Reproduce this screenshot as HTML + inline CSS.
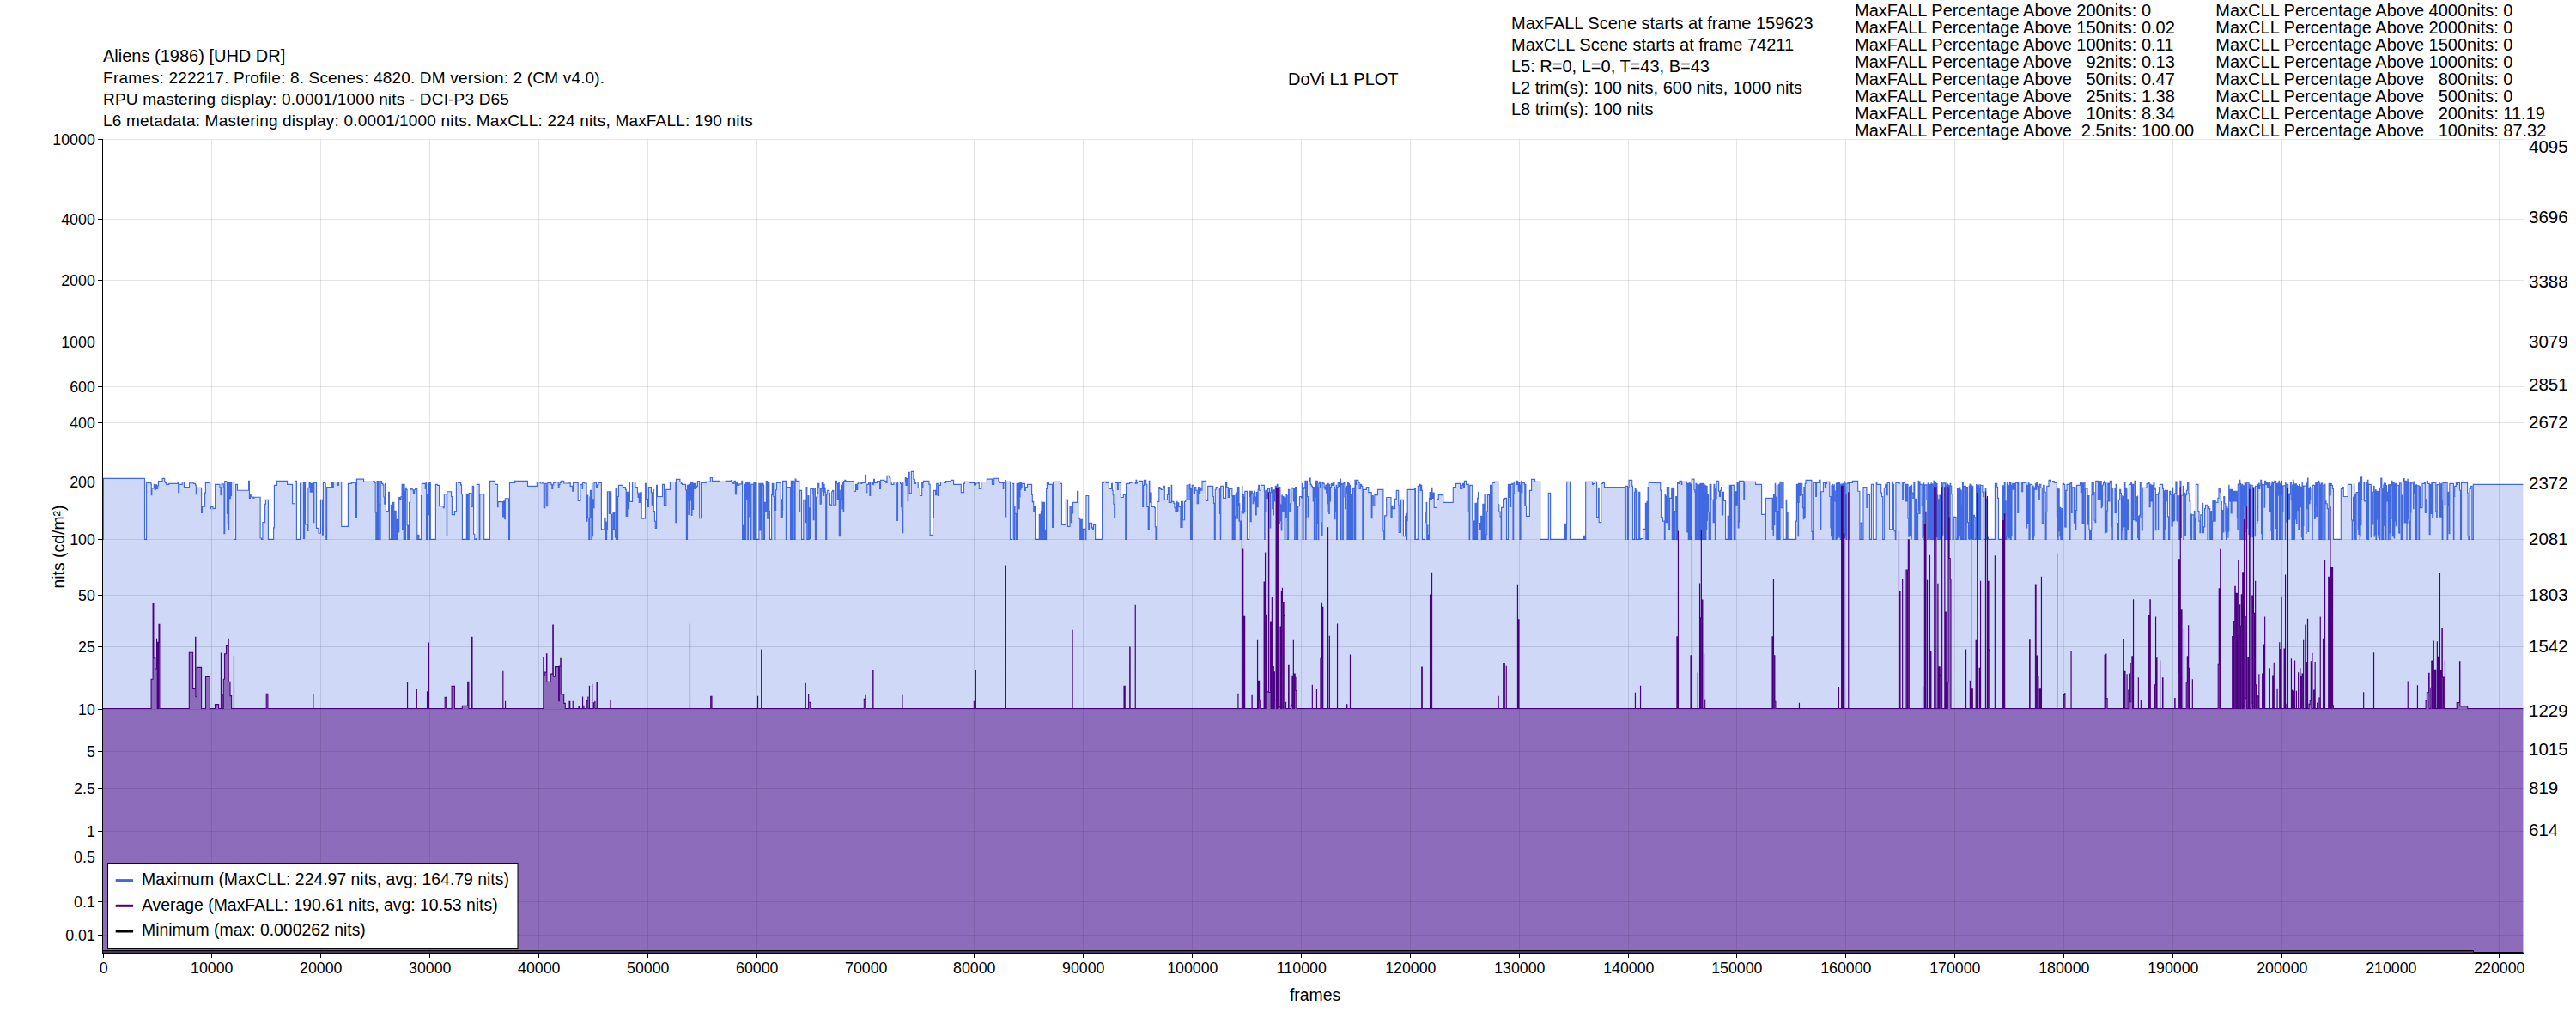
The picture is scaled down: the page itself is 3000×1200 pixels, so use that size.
<!DOCTYPE html>
<html><head><meta charset="utf-8"><title>DoVi L1 PLOT</title>
<style>html,body{margin:0;padding:0;background:#fff}svg{display:block}text{font-family:"Liberation Sans",Arial,sans-serif;fill:#000}</style></head><body>
<svg width="3000" height="1200" viewBox="0 0 3000 1200">
<rect width="3000" height="1200" fill="#fff"/>
<polygon fill="#4169e1" fill-opacity="0.25" points="120,628.3 120.4,628.3 120.4,557.3 168.5,557.3 168.5,628.3 170.5,628.3 170.5,562.5 175.8,562.5 175.8,563.9 176.3,563.9 176.3,576.6 176.8,576.6 176.8,568.8 179.3,568.8 179.3,564.4 180.2,564.4 180.2,570.2 181.4,570.2 181.4,564.9 182.4,564.9 182.4,569.3 183.6,569.3 183.6,565.9 184.5,565.9 184.5,560.5 189.1,560.5 189.1,557.4 191.7,557.4 191.7,561 192.6,561 192.6,562.5 193.5,562.5 193.5,564.4 196.7,564.4 196.7,563.3 206.9,563.3 206.9,562.5 207.7,562.5 207.7,573.6 208.6,573.6 208.6,564.4 212.2,564.4 212.2,561.5 214.4,561.5 214.4,567.5 220.5,567.5 220.5,562.7 225.3,562.7 225.3,563.4 227.6,563.4 227.6,565.4 228.3,565.4 228.3,575.6 228.7,575.6 228.7,568.3 234.6,568.3 234.6,597.4 235.4,597.4 235.4,590.1 238.6,590.1 238.6,574.1 239.4,574.1 239.4,562.5 244.7,562.5 244.7,592.6 245.5,592.6 245.5,590.4 248,590.4 248,592.4 250.6,592.4 250.6,564.4 256,564.4 256,567.8 257,567.8 257,576.6 258.1,576.6 258.1,563.9 260.3,563.9 260.3,568.3 261,568.3 261,621.7 261.7,621.7 261.7,560.5 263.7,560.5 263.7,561.5 264.5,561.5 264.5,598.4 265,598.4 265,562 265.3,562 265.3,609.6 265.7,609.6 265.7,562 266.1,562 266.1,617.3 266.6,617.3 266.6,562 267.1,562 267.1,580.9 267.6,580.9 267.6,562 268.1,562 268.1,580.4 268.5,580.4 268.5,562 269,562 269,577.5 269.5,577.5 269.5,561.5 272.6,561.5 272.6,628.3 274.6,628.3 274.6,564.4 276.5,564.4 276.5,571.2 289.6,571.2 289.6,560.3 290.4,560.3 290.4,580.4 291.4,580.4 291.4,576.6 292.2,576.6 292.2,579 295,579 295,580.4 295.9,580.4 295.9,579.2 303.1,579.2 303.1,627 304.5,627 304.5,628.3 305.9,628.3 305.9,608.6 308.6,608.6 308.6,587.2 309.4,587.2 309.4,582.4 312.4,582.4 312.4,628.3 318.6,628.3 318.6,614.9 319.4,614.9 319.4,565.4 322.4,565.4 322.4,560.3 334.6,560.3 334.6,564.4 340.6,564.4 340.6,586.7 343.5,586.7 343.5,560.3 345.4,560.3 345.4,628.3 349.6,628.3 349.6,563.4 350.4,563.4 350.4,561.5 353.5,561.5 353.5,627.5 354.6,627.5 354.6,562.5 355.6,562.5 355.6,611 357.9,611 357.9,618.3 358.9,618.3 358.9,568.3 360.1,568.3 360.1,562.5 361.2,562.5 361.2,573.2 361.9,573.2 361.9,563.4 362.7,563.4 362.7,573.2 363.4,573.2 363.4,563.4 364.3,563.4 364.3,571.2 365.1,571.2 365.1,562.5 365.4,562.5 365.4,608.6 365.8,608.6 365.8,562.5 368.5,562.5 368.5,615.4 370.2,615.4 371,615.4 371,621.2 373.4,621.2 373.4,582.4 375.6,582.4 375.6,623.2 376.4,623.2 376.4,562.5 378.7,562.5 378.7,563.4 379.2,563.4 379.2,625.6 379.8,625.6 379.8,628.3 380.6,628.3 380.6,567.5 386.5,567.5 386.5,561.5 387.5,561.5 387.5,568.3 388.3,568.3 388.3,561.5 392.8,561.5 392.8,563 393.6,563 393.6,565.4 394.4,565.4 394.4,561.5 397.7,561.5 397.7,613.4 405.4,613.4 405.4,563.4 409.3,563.4 409.3,562.5 414.5,562.5 414.5,603.3 415.4,603.3 415.4,558.1 423.6,558.1 423.6,561.3 434.8,561.3 434.8,560.5 436,560.5 436,562.5 437.2,562.5 437.2,596.9 437.8,596.9 437.8,628.3 438.2,628.3 438.2,596.9 438.5,596.9 438.5,628.3 438.9,628.3 438.9,596.9 439.1,596.9 439.1,560.5 439.5,560.5 439.5,628.3 439.9,628.3 439.9,560.5 440.3,560.5 440.3,628.3 440.7,628.3 440.7,560.5 441.2,560.5 441.2,587.2 442,587.2 442,628.3 443.1,628.3 443.1,560.5 444.6,560.5 444.6,563.4 445.9,563.4 445.9,564.9 446.9,564.9 446.9,579 447.7,579 447.7,587.2 448.6,587.2 448.6,563.4 449.4,563.4 449.4,595.5 452.6,595.5 452.6,573.3 453.4,573.3 453.4,628.3 455.4,628.3 455.4,588.2 455.8,588.2 455.8,628.3 456.2,628.3 456.2,588.2 456.6,588.2 456.6,628.3 457,628.3 457,588.2 457.4,588.2 457.4,585.3 457.8,585.3 457.8,628.3 458.2,628.3 458.2,585.3 458.8,585.3 458.8,628.3 460,628.3 460,595.3 461.2,595.3 461.2,628.3 462.1,628.3 462.1,605.2 463,605.2 463,628.3 463.4,628.3 463.4,605.2 464,605.2 464,619.8 464.7,619.8 464.7,579.5 465.8,579.5 465.8,581.4 467,581.4 467,578.5 468.1,578.5 468.1,564.4 468.6,564.4 468.6,616.8 469,616.8 469,564.4 469.4,564.4 469.4,616.8 469.8,616.8 469.8,564.4 470.2,564.4 470.2,628.3 470.6,628.3 470.6,564.4 471,564.4 471,572.2 471.4,572.2 471.4,628.3 471.7,628.3 471.7,572.2 472.1,572.2 472.1,628.3 472.4,628.3 472.4,568.3 473.2,568.3 473.2,570.4 474.1,570.4 474.1,612 474.7,612 474.7,628.3 475,628.3 475,612 475.4,612 475.4,628.3 475.8,628.3 475.8,612 476.2,612 476.2,628.3 476.6,628.3 476.6,585.3 477.6,585.3 477.6,570.2 478.7,570.2 478.7,569.3 480.2,569.3 480.2,570.7 481.4,570.7 481.4,575.1 482.6,575.1 482.6,570.7 483.7,570.7 483.7,568.5 484.8,568.5 484.8,569.5 485.8,569.5 485.8,628.3 487,628.3 487,623.2 487.9,623.2 487.9,628.3 490.5,628.3 490.5,577.5 491.3,577.5 491.3,563.4 495.3,563.4 495.3,569.3 496.1,569.3 496.1,561.5 496.6,561.5 496.6,628.3 497,628.3 497,576.1 497.4,576.1 497.4,628.3 497.8,628.3 497.8,576.1 498.2,576.1 498.2,628.3 498.5,628.3 498.5,564.4 498.9,564.4 498.9,599.9 499.3,599.9 499.3,563.4 499.7,563.4 499.7,599.9 500.1,599.9 500.1,562.5 500.5,562.5 500.5,628.3 500.9,628.3 500.9,562.5 501.3,562.5 501.3,628.3 507.4,628.3 507.4,564.4 509.3,564.4 509.3,565.4 511.6,565.4 511.6,589.7 516.4,589.7 516.4,591.6 517.3,591.6 517.3,575.6 520.3,575.6 520.3,623.6 520.7,623.6 520.7,572.7 525.6,572.7 525.6,578.5 526.4,578.5 526.4,599.6 529.4,599.6 529.4,595.5 531.4,595.5 531.4,561.5 533.6,561.5 533.6,562.5 536.6,562.5 536.6,564.9 537.5,564.9 537.5,575.6 538.4,575.6 538.4,628.3 543.3,628.3 543.3,575.6 543.8,575.6 543.8,628.3 544.3,628.3 544.3,575.6 545,575.6 545,628.3 546.2,628.3 546.2,574.6 548.9,574.6 548.9,590.4 550.3,590.4 550.3,566.4 551.6,566.4 551.6,622.2 552.8,622.2 552.8,628.3 554.4,628.3 554.4,627.5 555.4,627.5 555.4,564.4 558.2,564.4 558.2,628.3 558.8,628.3 558.8,575.6 563.7,575.6 563.7,628.3 570.5,628.3 570.5,560.3 576.6,560.3 576.6,564.4 579.5,564.4 579.5,590.6 580,590.6 580,584.6 585.6,584.6 585.6,601.8 586.7,601.8 586.7,583.8 587.8,583.8 587.8,604.7 588.4,604.7 588.4,580.7 592.6,580.7 592.6,628.3 593.5,628.3 593.5,562.5 599.6,562.5 599.6,560.3 614.5,560.3 614.5,566.4 620,566.4 625.3,566.4 625.3,561.5 629.2,561.5 629.2,563 631.9,563 631.9,561.7 633.3,561.7 633.3,591.6 634.7,591.6 634.7,563.4 636.3,563.4 636.3,589.7 637.7,589.7 637.7,562.5 641.8,562.5 641.8,564.4 642.8,564.4 642.8,569.3 643.6,569.3 643.6,564.9 644.7,564.9 644.7,562.5 646.7,562.5 646.7,561.7 650.3,561.7 650.3,567.3 651.1,567.3 651.1,564.4 652.1,564.4 652.1,562.5 653.2,562.5 653.2,560.3 656.7,560.3 656.7,563 663,563 663,561.5 664.2,561.5 664.2,566.4 666.7,566.4 666.7,572.2 667.5,572.2 667.5,562.5 673.2,562.5 673.2,583.3 675.8,583.3 675.8,564.4 678.1,564.4 678.1,569.3 678.5,569.3 678.5,562.5 680.7,562.5 680.7,563 683.1,563 683.1,607.1 683.9,607.1 683.9,577 684.8,577 684.8,603.3 685.8,603.3 685.8,628.3 686.9,628.3 686.9,579 687.4,579 687.4,571.2 687.8,571.2 687.8,602.3 688.2,602.3 688.2,571.2 688.5,571.2 688.5,602.3 688.9,602.3 688.9,628.3 689.5,628.3 689.5,563 689.9,563 689.9,624.6 690.5,624.6 690.5,581.9 690.9,581.9 690.9,591.6 691.3,591.6 691.3,581.9 691.7,581.9 691.7,591.6 692,591.6 692,562.5 694.5,562.5 694.5,567.3 695.6,567.3 695.6,564.9 696.9,564.9 696.9,562.5 700.4,562.5 700.4,616.7 703.8,616.7 703.8,603.3 705,603.3 705,628.3 705.8,628.3 705.8,608.1 706.2,608.1 706.2,628.3 706.6,628.3 706.6,617.3 707.4,617.3 707.4,572.7 709.3,572.7 709.3,598.4 709.7,598.4 709.7,572.7 710.1,572.7 710.1,598.4 710.5,598.4 710.5,572.7 710.9,572.7 710.9,598.4 711.3,598.4 711.3,572.7 711.7,572.7 711.7,599.4 712,599.4 712,628.3 712.4,628.3 712.4,599.4 712.8,599.4 712.8,628.3 713.3,628.3 713.3,616.8 714.1,616.8 714.1,597.4 714.7,597.4 714.7,616.8 715.1,616.8 715.1,597.4 715.7,597.4 715.7,616.8 716.5,616.8 716.5,626.1 717.1,626.1 717.1,569.3 717.6,569.3 717.6,628.3 719.6,628.3 719.6,578.5 720.4,578.5 720.4,565.4 725.3,565.4 725.3,567.5 728.5,567.5 728.5,570.4 729.2,570.4 729.2,601.3 729.7,601.3 729.7,573.2 730.2,573.2 730.2,601.3 730.7,601.3 730.7,573.2 731.2,573.2 731.2,592.6 731.7,592.6 731.7,573.2 732.1,573.2 732.1,592.6 732.6,592.6 732.6,562.5 733.4,562.5 733.4,584.3 736.5,584.3 736.5,561.5 739.9,561.5 739.9,567.5 742.5,567.5 742.5,574.1 743.1,574.1 743.1,579.5 743.7,579.5 743.7,575.1 744.3,575.1 744.3,585.3 745,585.3 745,574.1 745.7,574.1 745.7,585.3 746.4,585.3 746.4,573.6 747.2,573.6 747.2,604.2 751.5,604.2 751.5,563.4 752.3,563.4 752.3,581.4 754.6,581.4 754.6,590.4 755.4,590.4 755.4,567.5 758.4,567.5 758.4,573.6 759.2,573.6 759.2,588.2 759.8,588.2 759.8,574.1 760.3,574.1 760.3,588.2 760.8,588.2 760.8,570.2 761.3,570.2 761.3,595.5 762.4,595.5 762.4,607.1 763.3,607.1 763.3,615.4 764.6,615.4 764.6,565.4 765.4,565.4 765.4,578.5 771.5,578.5 771.5,564.4 773.4,564.4 773.4,588.5 775.8,588.5 775.8,570.4 780.4,570.4 780.4,561.5 786.8,561.5 786.8,608.6 787.4,608.6 787.4,558.4 791.9,558.4 791.9,561.5 793.3,561.5 793.3,563.4 794.5,563.4 794.5,564.4 798.4,564.4 798.4,565.4 798.6,565.4 798.6,570.7 799.4,570.7 799.4,628.3 800.5,628.3 800.5,565.4 801.2,565.4 801.2,582.9 801.6,582.9 801.6,565.9 801.9,565.9 801.9,599.4 802.3,599.4 802.3,564.4 802.7,564.4 802.7,582.9 803.1,582.9 803.1,592.6 803.5,592.6 803.5,564.4 803.9,564.4 803.9,582.9 804.3,582.9 804.3,561.5 804.7,561.5 804.7,582.9 805,582.9 805,561.5 805.4,561.5 805.4,600.3 806,600.3 806,562.5 806.8,562.5 806.8,593.5 807.6,593.5 807.6,563.4 808.6,563.4 808.6,569.3 809.5,569.3 809.5,563.4 810.6,563.4 810.6,568.3 811.5,568.3 811.5,566.4 812.4,566.4 812.4,560.5 814.7,560.5 814.7,603.7 816.6,603.7 816.6,562.5 822.4,562.5 822.4,561.3 827.3,561.3 827.3,556.5 829.5,556.5 829.5,560.3 837.5,560.3 837.5,561.3 845.2,561.3 845.2,560.3 851.3,560.3 851.3,559.6 852.5,559.6 852.5,562 853.7,562 853.7,563.4 855,563.4 855,560.3 856.4,560.3 856.4,575.6 857.6,575.6 857.6,562 858.7,562 858.7,565.4 860.8,565.4 860.8,563.9 863.8,563.9 863.8,560.3 864.6,560.3 864.6,628.3 865,628.3 865,612 865.4,612 865.4,628.3 865.8,628.3 865.8,612 866.2,612 866.2,628.3 866.6,628.3 866.6,612 867,612 867,628.3 867.6,628.3 867.6,564.4 868.2,564.4 868.2,628.3 868.7,628.3 868.7,561.5 869.3,561.5 869.3,582.4 870,582.4 870,562.5 870.8,562.5 870.8,628.3 871.4,628.3 871.4,562.5 871.7,562.5 871.7,601.8 872.3,601.8 872.3,562.5 872.7,562.5 872.7,584.8 873.3,584.8 873.3,562.5 873.7,562.5 873.7,584.8 874.3,584.8 874.3,628.3 874.9,628.3 874.9,564.4 877.3,564.4 877.3,628.3 877.8,628.3 877.8,562.5 878.2,562.5 878.2,628.3 878.5,628.3 878.5,562.5 878.9,562.5 878.9,561.5 879.3,561.5 879.3,628.3 879.7,628.3 879.7,561.5 880.1,561.5 880.1,628.3 880.5,628.3 880.5,561.5 880.9,561.5 880.9,628.3 883.9,628.3 883.9,563.4 885.1,563.4 885.1,617.8 885.7,617.8 885.7,563.4 886.1,563.4 886.1,617.8 886.5,617.8 886.5,563.4 886.9,563.4 886.9,628.3 887.3,628.3 887.3,563.4 887.7,563.4 887.7,628.3 888.1,628.3 888.1,563.4 888.9,563.4 888.9,565.4 889.6,565.4 889.6,628.3 890.4,628.3 890.4,585.3 891.2,585.3 891.2,595.5 891.7,595.5 891.7,585.3 892.3,585.3 892.3,560.5 892.9,560.5 892.9,595.5 893.3,595.5 893.3,560.5 893.7,560.5 893.7,604.2 894.3,604.2 894.3,561.5 894.9,561.5 894.9,595.5 895.4,595.5 895.4,561.5 895.8,561.5 895.8,595.5 896.4,595.5 896.4,628.3 898.6,628.3 898.6,576.6 899.3,576.6 899.3,563.4 899.9,563.4 899.9,576.6 900.3,576.6 900.3,563.4 900.9,563.4 900.9,578.5 901.6,578.5 901.6,594.5 902,594.5 902,628.3 902.8,628.3 902.8,594.5 903.6,594.5 903.6,570.7 904.4,570.7 904.4,562.5 909.3,562.5 909.3,602.3 910,602.3 910,581.9 910.6,581.9 910.6,602.3 911.3,602.3 911.3,594.5 911.6,594.5 911.6,560.3 915.4,560.3 915.4,628.3 916,628.3 916,567.5 920.5,567.5 920.5,628.3 921.3,628.3 921.3,560.3 921.7,560.3 921.7,628.3 922.3,628.3 922.3,560.3 923.1,560.3 923.1,628.3 923.9,628.3 923.9,560.3 924.7,560.3 924.7,561.5 925.3,561.5 925.3,628.3 926.1,628.3 926.1,558.1 926.9,558.1 926.9,560.3 930.8,560.3 930.8,595.5 931.6,595.5 931.6,571.4 933.6,571.4 933.6,628.3 935.8,628.3 935.8,582.4 937.8,582.4 937.8,608.6 938.3,608.6 938.3,582.4 938.7,582.4 938.7,608.6 939.1,608.6 939.1,567.5 939.8,567.5 939.8,628.3 941.1,628.3 941.1,577.5 941.8,577.5 941.8,628.3 942.4,628.3 942.4,591.8 943.2,591.8 943.2,627.5 943.8,627.5 943.8,569.5 946.7,569.5 946.7,574.6 947.2,574.6 947.2,605.7 947.9,605.7 947.9,568.5 949.4,568.5 949.4,628.3 950.6,628.3 950.6,579 951.7,579 951.7,574.6 952.7,574.6 952.7,563.4 953.8,563.4 953.8,568.5 955.1,568.5 955.1,587.2 956.3,587.2 956.3,569.5 957.3,569.5 957.3,561.5 958,561.5 958,572.7 958.5,572.7 958.5,561.5 958.9,561.5 958.9,573.2 959.3,573.2 959.3,577.5 959.7,577.5 959.7,564.4 960.1,564.4 960.1,573.2 960.5,573.2 960.5,568.3 961.1,568.3 961.1,573.2 961.7,573.2 961.7,628.3 962.7,628.3 962.7,575.6 963.7,575.6 963.7,571.4 965.6,571.4 965.6,574.6 966.5,574.6 966.5,587.7 967.4,587.7 967.4,589.5 968.7,589.5 968.7,572.7 969.7,572.7 969.7,571.4 970.8,571.4 970.8,588.2 973.6,588.2 973.6,560.3 974.4,560.3 974.4,563.4 975.3,563.4 975.3,581.4 975.8,581.4 975.8,563.4 976.3,563.4 976.3,581.4 976.8,581.4 976.8,562.5 977.3,562.5 977.3,624.6 977.8,624.6 977.8,571.2 978.3,571.2 978.3,624.6 979,624.6 979,581.4 979.9,581.4 979.9,565.4 980.9,565.4 980.9,592.6 981.5,592.6 981.5,562.5 982.1,562.5 982.1,596.5 982.7,596.5 982.7,560.5 983.8,560.5 983.8,559.4 984.8,559.4 984.8,560.5 994.5,560.5 994.5,572.4 996.5,572.4 996.5,564.4 997.5,564.4 997.5,570.4 998.7,570.4 998.7,563.4 999.8,563.4 999.8,561.5 1002.8,561.5 1002.8,563.4 1003.7,563.4 1003.7,562.5 1007.5,562.5 1007.5,553.3 1008.5,553.3 1008.5,573.6 1009.8,573.6 1009.8,564.4 1011.6,564.4 1011.6,561.5 1012.9,561.5 1012.9,577.5 1013.7,577.5 1013.7,561.5 1016.6,561.5 1016.6,564.4 1017.6,564.4 1017.6,558.4 1018.4,558.4 1018.4,562.5 1021.5,562.5 1021.5,560.5 1024.6,560.5 1024.6,569.5 1025.5,569.5 1025.5,559.4 1029.7,559.4 1029.7,560.3 1031.9,560.3 1031.9,562.5 1033,562.5 1033,554.2 1035.8,554.2 1035.8,556.5 1036.8,556.5 1036.8,561.5 1038.2,561.5 1038.2,564.4 1040.9,564.4 1040.9,561.5 1043.8,561.5 1043.8,563.4 1044.7,563.4 1044.7,606.4 1045.5,606.4 1045.5,561.5 1048.6,561.5 1048.6,563.4 1049.5,563.4 1049.5,590.6 1050.3,590.6 1050.3,594.5 1051.2,594.5 1051.2,620.7 1051.7,620.7 1051.7,561.5 1054.3,561.5 1054.3,556.5 1055,556.5 1055,565.4 1056.1,565.4 1056.1,557.6 1057.2,557.6 1057.2,583.6 1057.7,583.6 1057.7,556.7 1058.4,556.7 1058.4,550.3 1059.2,550.3 1059.2,574.6 1061.3,574.6 1061.3,549.4 1064,549.4 1064,558.4 1065.3,558.4 1065.3,563.4 1066.4,563.4 1066.4,561.5 1069.2,561.5 1069.2,568.5 1071.5,568.5 1071.5,577.5 1073.7,577.5 1073.7,562.5 1074.3,562.5 1074.3,567.5 1074.9,567.5 1074.9,562.5 1075.4,562.5 1075.4,560.3 1081.9,560.3 1081.9,564.4 1083.1,564.4 1083.1,623.4 1086.6,623.4 1086.6,602.3 1087.4,602.3 1087.4,571.4 1089.6,571.4 1089.6,576.6 1090.7,576.6 1090.7,563.4 1092.2,563.4 1092.2,577.5 1093.3,577.5 1093.3,565.4 1095.4,565.4 1095.4,561.5 1099.6,561.5 1099.6,562.5 1101.6,562.5 1101.6,560.5 1107.4,560.5 1107.4,559.4 1110.6,559.4 1110.6,564.4 1119.3,564.4 1119.3,573.6 1120,573.6 1122.5,573.6 1122.5,563.4 1123.3,563.4 1123.3,561.3 1128.7,561.3 1128.7,562.5 1134.6,562.5 1134.6,564.9 1136.5,564.9 1136.5,563 1139.5,563 1139.5,561.5 1140.3,561.5 1140.3,569.5 1142.8,569.5 1142.8,561.5 1149.3,561.5 1149.3,558.1 1155.4,558.1 1155.4,564.4 1157.7,564.4 1157.7,557.4 1163,557.4 1163,560.5 1163.9,560.5 1163.9,562.5 1167.6,562.5 1167.6,561.5 1168.3,561.5 1168.3,569.3 1168.8,569.3 1168.8,562.5 1171,562.5 1171,559.6 1171.3,559.6 1171.3,601.8 1171.7,601.8 1171.7,561.3 1176.5,561.3 1176.5,628.3 1178.7,628.3 1178.7,563.4 1180.7,563.4 1180.7,628.3 1181.4,628.3 1181.4,590.4 1182,590.4 1182,598.4 1183,598.4 1183,628.3 1184.1,628.3 1184.1,563.4 1184.5,563.4 1184.5,628.3 1184.9,628.3 1184.9,563.4 1185.2,563.4 1185.2,579 1185.6,579 1185.6,563 1186,563 1186,592.6 1186.4,592.6 1186.4,563 1186.8,563 1186.8,592.6 1187.2,592.6 1187.2,563 1187.6,563 1187.6,579 1188,579 1188,562.5 1188.3,562.5 1188.3,570.4 1188.9,570.4 1188.9,562.5 1189.5,562.5 1189.5,568.3 1190.1,568.3 1190.1,563.4 1193.5,563.4 1193.5,571.4 1194.3,571.4 1194.3,567.5 1196.5,567.5 1196.5,564.4 1201.6,564.4 1201.6,576.3 1202.3,576.3 1202.3,584.8 1203,584.8 1203,584.3 1203.7,584.3 1203.7,596.5 1204.3,596.5 1204.3,589.5 1204.9,589.5 1204.9,596.5 1205.4,596.5 1205.4,589.5 1205.6,589.5 1205.6,628.3 1210.3,628.3 1210.3,599.4 1210.5,599.4 1210.5,628.3 1210.9,628.3 1210.9,599.4 1211.3,599.4 1211.3,628.3 1211.7,628.3 1211.7,599.4 1212,599.4 1212,628.3 1212.4,628.3 1212.4,595.5 1213,595.5 1213,584.3 1213.4,584.3 1213.4,628.3 1213.8,628.3 1213.8,585.3 1214.2,585.3 1214.2,628.3 1214.6,628.3 1214.6,585.3 1215,585.3 1215,628.3 1215.3,628.3 1215.3,585.3 1215.7,585.3 1215.7,628.3 1216.1,628.3 1216.1,585.3 1216.5,585.3 1216.5,628.3 1216.9,628.3 1216.9,617.3 1217.3,617.3 1217.3,628.3 1217.7,628.3 1217.7,617.3 1218.1,617.3 1218.1,628.3 1218.6,628.3 1218.6,569.3 1219.4,569.3 1219.4,562.5 1221.5,562.5 1221.5,564.4 1225.6,564.4 1225.6,614.4 1226.4,614.4 1226.4,561.3 1234.6,561.3 1234.6,563.4 1236.5,563.4 1236.5,611.5 1241.4,611.5 1241.4,582.4 1243.5,582.4 1243.5,613.4 1246,613.4 1246,589.5 1247.3,589.5 1247.3,608.6 1248.5,608.6 1248.5,597.9 1249.5,597.9 1249.5,585.3 1254.6,585.3 1254.6,572.4 1255.7,572.4 1255.7,603.3 1257.1,603.3 1257.1,604.7 1257.7,604.7 1257.7,628.3 1258.1,628.3 1258.1,605.2 1258.4,605.2 1258.4,628.3 1258.8,628.3 1258.8,605.2 1259.2,605.2 1259.2,628.3 1259.6,628.3 1259.6,605.2 1260.3,605.2 1260.3,628.3 1261.3,628.3 1261.3,616.4 1264.2,616.4 1264.2,628.3 1264.9,628.3 1264.9,577.5 1267.7,577.5 1267.7,616.7 1268.5,616.7 1268.5,609.3 1271.6,609.3 1271.6,614.9 1272.5,614.9 1272.5,617.3 1273.5,617.3 1273.5,611.5 1275.6,611.5 1275.6,628.3 1283.6,628.3 1283.6,562.5 1285.5,562.5 1285.5,561.3 1288,561.3 1288,562.5 1289.1,562.5 1289.1,561.3 1290.3,561.3 1290.3,562.5 1291.4,562.5 1291.4,569.3 1294.6,569.3 1294.6,563.4 1295.4,563.4 1295.4,571.2 1296.2,571.2 1296.2,576.6 1296.9,576.6 1296.9,587.2 1297.7,587.2 1297.7,602.8 1298.5,602.8 1298.5,562.5 1301.5,562.5 1301.5,570.4 1302.3,570.4 1302.3,562.5 1305.4,562.5 1305.4,579.5 1308.3,579.5 1308.3,576.3 1310.7,576.3 1310.7,628.3 1311.5,628.3 1311.5,563.4 1315.6,563.4 1315.6,562.5 1318.1,562.5 1318.1,561.5 1322.4,561.5 1322.4,563.4 1323.1,563.4 1323.1,559.4 1323.7,559.4 1323.7,563 1324.4,563 1324.4,561.5 1326.3,561.5 1326.3,560.3 1330.7,560.3 1330.7,590.4 1331.6,590.4 1331.6,565.4 1332.5,565.4 1332.5,559.4 1334.7,559.4 1334.7,564.4 1335.8,564.4 1335.8,590.4 1337.2,590.4 1337.2,617.3 1338.3,617.3 1338.3,560.3 1338.9,560.3 1338.9,585.3 1339.9,585.3 1339.9,574.1 1341.1,574.1 1341.1,590.4 1344.5,590.4 1344.5,591.6 1345.3,591.6 1345.3,613.9 1346,613.9 1346,628.3 1346.6,628.3 1346.6,613.9 1347.2,613.9 1347.2,628.3 1347.7,628.3 1347.7,584.3 1349.8,584.3 1349.8,567.5 1350.9,567.5 1350.9,569.5 1352.2,569.5 1352.2,570.4 1354.6,570.4 1354.6,568.5 1355.4,568.5 1355.4,566.4 1356.3,566.4 1356.3,582.4 1359.4,582.4 1359.4,576.3 1360.4,576.3 1360.4,567.5 1361.3,567.5 1361.3,585.3 1364.2,585.3 1364.2,565.4 1364.7,565.4 1364.7,584.3 1366.9,584.3 1366.9,586.3 1367.9,586.3 1367.9,591.6 1368.9,591.6 1368.9,595.5 1370.1,595.5 1370.1,584.3 1371,584.3 1371,595.5 1371.9,595.5 1371.9,585.8 1372.8,585.8 1372.8,590.4 1374.9,590.4 1374.9,614.4 1375.6,614.4 1375.6,584.3 1376.2,584.3 1376.2,614.4 1377,614.4 1377,584.3 1377.6,584.3 1377.6,605.7 1379.6,605.7 1379.6,584.3 1380.7,584.3 1380.7,582.4 1382.1,582.4 1382.1,565.4 1383.6,565.4 1383.6,582.4 1385.1,582.4 1385.1,564.4 1386,564.4 1386,569.3 1386.5,569.3 1386.5,628.3 1387.3,628.3 1387.3,569.3 1387.7,569.3 1387.7,628.3 1388.3,628.3 1388.3,565.4 1390.3,565.4 1390.3,574.6 1391.4,574.6 1391.4,567.5 1392.8,567.5 1392.8,571.4 1394.2,571.4 1394.2,586.7 1395.5,586.7 1395.5,567.5 1396.5,567.5 1396.5,574.6 1397.6,574.6 1397.6,568.3 1398.7,568.3 1398.7,571.2 1400,571.2 1400,560.3 1404.5,560.3 1404.5,583.3 1406.7,583.3 1406.7,566.4 1412.7,566.4 1412.7,578.5 1413.5,578.5 1413.5,586.3 1414.3,586.3 1414.3,628.3 1415.3,628.3 1415.3,570.4 1416.2,570.4 1416.2,567.5 1418.5,567.5 1418.5,568.5 1420.5,568.5 1420.5,598.4 1421.3,598.4 1421.3,628.3 1421.7,628.3 1421.7,566.4 1424.6,566.4 1424.6,580.4 1427.6,580.4 1427.6,562.5 1428.7,562.5 1428.7,567.5 1430.3,567.5 1430.3,579.5 1431.4,579.5 1431.4,569.5 1434.9,569.5 1434.9,577.5 1435.2,577.5 1435.2,628.3 1435.8,628.3 1435.8,577.5 1436.4,577.5 1436.4,628.3 1437,628.3 1437,577.5 1437.6,577.5 1437.6,628.3 1438.2,628.3 1438.2,601.3 1438.7,601.3 1438.7,604.7 1439.1,604.7 1439.1,576.6 1439.5,576.6 1439.5,588.7 1440.1,588.7 1440.1,574.1 1440.7,574.1 1440.7,604.2 1441.4,604.2 1441.4,567.5 1442,567.5 1442,588.7 1442.6,588.7 1442.6,567.5 1443,567.5 1443,607.1 1443.6,607.1 1443.6,586.7 1443.8,586.7 1443.8,607.1 1444.2,607.1 1444.2,628.3 1444.6,628.3 1444.6,607.1 1445,607.1 1445,628.3 1445.3,628.3 1445.3,607.1 1445.7,607.1 1445.7,628.3 1446.1,628.3 1446.1,595.5 1446.5,595.5 1446.5,566.4 1446.9,566.4 1446.9,597.9 1447.7,597.9 1447.7,575.6 1448.3,575.6 1448.3,597.9 1448.8,597.9 1448.8,579 1449.4,579 1449.4,596.5 1449.8,596.5 1449.8,572.4 1452.5,572.4 1452.5,628.3 1454.7,628.3 1454.7,578.5 1455.5,578.5 1455.5,572.4 1456.3,572.4 1456.3,607.6 1457.2,607.6 1457.2,572.4 1458.3,572.4 1458.3,574.6 1459.1,574.6 1459.1,586.7 1459.8,586.7 1459.8,579 1460.5,579 1460.5,572.2 1461.1,572.2 1461.1,583.8 1461.7,583.8 1461.7,579 1462.4,579 1462.4,599.9 1463.2,599.9 1463.2,573.6 1463.7,573.6 1463.7,590.6 1464.2,590.6 1464.2,573.6 1464.7,573.6 1464.7,590.6 1465.1,590.6 1465.1,570.4 1465.7,570.4 1465.7,565.4 1466.5,565.4 1466.5,571.2 1468.5,571.2 1468.5,565.4 1472.4,565.4 1472.4,572.7 1472.7,572.7 1472.7,628.3 1473.1,628.3 1473.1,595.5 1473.9,595.5 1473.9,571.2 1474.4,571.2 1474.4,580.4 1475,580.4 1475,571.2 1475.8,571.2 1475.8,580.4 1476.6,580.4 1476.6,569.3 1478.5,569.3 1478.5,573.2 1479.2,573.2 1479.2,614.9 1479.7,614.9 1479.7,573.2 1480.3,573.2 1480.3,567.5 1481.1,567.5 1481.1,574.1 1481.7,574.1 1481.7,592.6 1482.2,592.6 1482.2,571.2 1482.8,571.2 1482.8,599.9 1483.4,599.9 1483.4,570.7 1484.1,570.7 1484.1,583.8 1484.8,583.8 1484.8,573.2 1485.3,573.2 1485.3,566.4 1486,566.4 1486,569.3 1486.6,569.3 1486.6,566.4 1487.4,566.4 1487.4,564.4 1488,564.4 1488,569.3 1488.8,569.3 1488.8,567.5 1489.6,567.5 1489.6,609.6 1490.4,609.6 1490.4,567.5 1490.9,567.5 1490.9,606.7 1491.4,606.7 1491.4,587.7 1492.2,587.7 1492.2,617.8 1492.8,617.8 1492.8,577 1493.5,577 1493.5,595.5 1494.3,595.5 1494.3,578.5 1495,578.5 1495,595.5 1495.7,595.5 1495.7,580 1496.2,580 1496.2,628.3 1496.8,628.3 1496.8,580 1497.4,580 1497.4,603.3 1498,603.3 1498,575.6 1498.6,575.6 1498.6,577.5 1499.2,577.5 1499.2,628.3 1500.5,628.3 1500.5,570.4 1501.8,570.4 1501.8,596.5 1502.8,596.5 1502.8,586.7 1503.8,586.7 1503.8,568.3 1505.9,568.3 1505.9,569.3 1506.4,569.3 1506.4,583.8 1507.1,583.8 1507.1,569.3 1507.7,569.3 1507.7,628.3 1508.1,628.3 1508.1,586.7 1508.6,586.7 1508.6,567.5 1509.4,567.5 1509.4,628.3 1511.6,628.3 1511.6,589.7 1513.5,589.7 1513.5,578.5 1515.6,578.5 1515.6,580 1516.4,580 1516.4,563.4 1517.1,563.4 1517.1,628.3 1518,628.3 1518,569.3 1518.9,569.3 1518.9,567.5 1519.9,567.5 1519.9,560.3 1520.5,560.3 1520.5,628.3 1521,628.3 1521,603.3 1521.7,603.3 1521.7,560.3 1522.4,560.3 1522.4,578.5 1523.4,578.5 1523.4,601.8 1524.4,601.8 1524.4,561.3 1525.3,561.3 1525.3,557.1 1526.2,557.1 1526.2,564.4 1527.3,564.4 1527.3,566.4 1528.5,566.4 1528.5,567.5 1529.2,567.5 1529.2,583.8 1529.8,583.8 1529.8,567.5 1530.4,567.5 1530.4,628.3 1531,628.3 1531,579 1531.6,579 1531.6,628.3 1531.9,628.3 1531.9,560.3 1532.7,560.3 1532.7,579 1533.3,579 1533.3,628.3 1533.7,628.3 1533.7,560.3 1534.3,560.3 1534.3,610 1534.9,610 1534.9,567.5 1535.4,567.5 1535.4,628.3 1535.8,628.3 1535.8,563.4 1536.6,563.4 1536.6,561.3 1537.5,561.3 1537.5,567.5 1538.4,567.5 1538.4,609.1 1539.1,609.1 1539.1,623.6 1540,623.6 1540,562.5 1541.2,562.5 1541.2,563.4 1542.2,563.4 1542.2,567.5 1543,567.5 1543,570.2 1543.8,570.2 1543.8,565.4 1544.6,565.4 1544.6,574.1 1545.3,574.1 1545.3,564.4 1545.9,564.4 1545.9,586.7 1546.5,586.7 1546.5,563.4 1547.1,563.4 1547.1,595.5 1547.7,595.5 1547.7,598.4 1548.3,598.4 1548.3,564.4 1548.8,564.4 1548.8,583.8 1549.4,583.8 1549.4,567.5 1550.5,567.5 1550.5,563.4 1551.6,563.4 1551.6,565.4 1552.8,565.4 1552.8,561.5 1553.9,561.5 1553.9,567.5 1554.5,567.5 1554.5,604.7 1555,604.7 1555,570.2 1555.6,570.2 1555.6,595.5 1556.2,595.5 1556.2,565.4 1556.6,565.4 1556.6,628.3 1557.3,628.3 1557.3,567.5 1558.2,567.5 1558.2,562.5 1559.5,562.5 1559.5,566.4 1560.8,566.4 1560.8,558.1 1561.5,558.1 1561.5,628.3 1562.1,628.3 1562.1,563.4 1562.9,563.4 1562.9,564.4 1563.7,564.4 1563.7,628.3 1564.3,628.3 1564.3,563.4 1565.1,563.4 1565.1,561.5 1565.9,561.5 1565.9,579 1566.6,579 1566.6,592.6 1567.2,592.6 1567.2,568.3 1568,568.3 1568,566.4 1568.5,566.4 1568.5,574.1 1569,574.1 1569,628.3 1569.6,628.3 1569.6,561.5 1570.2,561.5 1570.2,628.3 1570.8,628.3 1570.8,563.4 1571.4,563.4 1571.4,628.3 1571.9,628.3 1571.9,565.4 1572.5,565.4 1572.5,628.3 1573.1,628.3 1573.1,575.6 1573.7,575.6 1573.7,628.3 1574.3,628.3 1574.3,575.6 1574.9,575.6 1574.9,628.3 1575.4,628.3 1575.4,569.3 1576.1,569.3 1576.1,568.3 1577,568.3 1577,628.3 1578,628.3 1578,559.4 1578.3,559.4 1578.3,628.3 1578.7,628.3 1578.7,564.4 1579.5,564.4 1579.5,559.4 1581.9,559.4 1581.9,562.5 1583.1,562.5 1583.1,569.3 1584.5,569.3 1584.5,564.4 1585.6,564.4 1585.6,566.4 1586.8,566.4 1586.8,628.3 1587.7,628.3 1587.7,570.4 1591.4,570.4 1591.4,567.5 1593.8,567.5 1593.8,573.6 1597.2,573.6 1597.2,603.7 1598,603.7 1598,577.5 1599.3,577.5 1599.3,589.5 1600.8,589.5 1600.8,576.6 1604.5,576.6 1604.5,570.4 1610.9,570.4 1610.9,618.8 1611.7,618.8 1611.7,628.3 1612.6,628.3 1612.6,600.8 1614.7,600.8 1614.7,579.5 1620,579.5 1620,602.8 1621.1,602.8 1621.1,589.2 1622.1,589.2 1622.1,592.6 1624.4,592.6 1624.4,581.4 1626.3,581.4 1626.3,571.4 1628.7,571.4 1628.7,588.2 1629.2,588.2 1629.2,620.5 1631.5,620.5 1631.5,582.4 1634.4,582.4 1634.4,624.6 1636.6,624.6 1636.6,601.3 1637.4,601.3 1637.4,598.4 1638.3,598.4 1638.3,628.3 1638.6,628.3 1638.6,606.7 1639.2,606.7 1639.2,570.4 1647.4,570.4 1647.4,568.5 1647.8,568.5 1647.8,628.3 1648.2,628.3 1648.2,568.5 1648.5,568.5 1648.5,628.3 1651.3,628.3 1651.3,566.4 1653.4,566.4 1653.4,564.4 1654.2,564.4 1654.2,571.4 1655.1,571.4 1655.1,565.4 1655.7,565.4 1655.7,571.4 1656.4,571.4 1656.4,628.3 1659.4,628.3 1659.4,608.6 1660.3,608.6 1660.3,596.5 1661.2,596.5 1661.2,585.3 1661.7,585.3 1661.7,628.3 1662.3,628.3 1662.3,612 1662.9,612 1662.9,628.3 1663.5,628.3 1663.5,623.2 1664.1,623.2 1664.1,628.3 1664.5,628.3 1664.5,580.4 1665.1,580.4 1665.1,573.6 1665.6,573.6 1665.6,582.4 1666.2,582.4 1666.2,573.6 1666.8,573.6 1666.8,582.4 1667.4,582.4 1667.4,568.3 1668,568.3 1668,580.4 1669.1,580.4 1669.1,574.1 1670.2,574.1 1670.2,591.4 1673.4,591.4 1673.4,581.4 1675.3,581.4 1675.3,576.6 1680.7,576.6 1680.7,585.3 1692.3,585.3 1692.3,567.5 1695.5,567.5 1695.5,563.4 1700.6,563.4 1700.6,569.3 1702.8,569.3 1702.8,565.4 1703.6,565.4 1703.6,563.4 1704.6,563.4 1704.6,567.5 1705.4,567.5 1705.4,560.3 1707.6,560.3 1707.6,564.4 1710.3,564.4 1710.3,596.5 1711.1,596.5 1711.1,628.3 1711.7,628.3 1711.7,565.4 1714.7,565.4 1714.7,605.2 1715,605.2 1715,628.3 1715.5,628.3 1715.5,606.7 1716.1,606.7 1716.1,628.3 1716.5,628.3 1716.5,607.1 1717.2,607.1 1717.2,628.3 1718,628.3 1718,586.3 1718.6,586.3 1718.6,628.3 1719,628.3 1719,586.3 1719.4,586.3 1719.4,628.3 1719.8,628.3 1719.8,586.3 1720.2,586.3 1720.2,628.3 1720.6,628.3 1720.6,580.4 1721.5,580.4 1721.5,573.2 1722.3,573.2 1722.3,609.6 1723.1,609.6 1723.1,617.3 1723.7,617.3 1723.7,609.6 1724.3,609.6 1724.3,617.3 1724.7,617.3 1724.7,601.3 1725.2,601.3 1725.2,628.3 1725.8,628.3 1725.8,601.3 1726.2,601.3 1726.2,628.3 1726.9,628.3 1726.9,587.2 1728,587.2 1728,628.3 1729,628.3 1729,575.6 1730.2,575.6 1730.2,628.3 1730.9,628.3 1730.9,622.7 1731.7,622.7 1731.7,596 1732.4,596 1732.4,576.6 1734.4,576.6 1734.4,628.3 1734.8,628.3 1734.8,576.6 1735.1,576.6 1735.1,628.3 1735.5,628.3 1735.5,565.4 1735.9,565.4 1735.9,628.3 1736.3,628.3 1736.3,565.4 1737,565.4 1737,628.3 1738,628.3 1738,562.5 1740.4,562.5 1740.4,561.3 1744.7,561.3 1744.7,587.7 1745.8,587.7 1745.8,596 1747.1,596 1747.1,601.8 1748.2,601.8 1748.2,628.3 1748.6,628.3 1748.6,591.4 1750.6,591.4 1750.6,581.4 1752.5,581.4 1752.5,580.4 1754.5,580.4 1754.5,628.3 1756.4,628.3 1756.4,564.4 1757.4,564.4 1757.4,579.5 1758.4,579.5 1758.4,590.4 1759.6,590.4 1759.6,564.4 1760.8,564.4 1760.8,563.4 1762,563.4 1762,628.3 1762.7,628.3 1762.7,574.6 1763.3,574.6 1763.3,561.3 1765.6,561.3 1765.6,560.3 1766.2,560.3 1766.2,564.4 1766.8,564.4 1766.8,560.3 1767.6,560.3 1767.6,564.4 1768.2,564.4 1768.2,572.2 1768.8,572.2 1768.8,562.5 1770,562.5 1770,628.3 1771,628.3 1771,565.4 1771.7,565.4 1771.7,560.3 1772.2,560.3 1772.2,573.6 1772.8,573.6 1772.8,562.5 1775.3,562.5 1775.3,564.4 1775.8,564.4 1775.8,589.5 1776.5,589.5 1776.5,564.4 1776.9,564.4 1776.9,589.5 1777.5,589.5 1777.5,601.3 1781.4,601.3 1781.4,571.4 1783.6,571.4 1783.6,558.4 1787.5,558.4 1787.5,561.3 1793.6,561.3 1793.6,628.3 1803.3,628.3 1803.3,574.3 1805.6,574.3 1805.6,628.3 1822.4,628.3 1822.4,610.2 1822.9,610.2 1822.9,628.3 1823.4,628.3 1823.4,610.2 1823.9,610.2 1823.9,628.3 1824.4,628.3 1824.4,610.2 1824.7,610.2 1824.7,561.3 1828.5,561.3 1828.5,628.3 1844.3,628.3 1844.3,624.4 1845,624.4 1845,628.3 1845.6,628.3 1845.6,624.4 1846.2,624.4 1846.2,628.3 1846.7,628.3 1846.7,561.3 1854.6,561.3 1854.6,564.4 1855.4,564.4 1855.4,563.4 1857.4,563.4 1857.4,561.3 1859.6,561.3 1859.6,602.3 1861.6,602.3 1861.6,568.3 1862.2,568.3 1862.2,608.6 1864.7,608.6 1864.7,563.4 1866.6,563.4 1866.6,562.5 1868.5,562.5 1868.5,567.5 1870,567.5 1892.5,567.5 1892.5,628.3 1893.3,628.3 1893.3,566.4 1895.4,566.4 1895.4,628.3 1896.3,628.3 1896.3,567.5 1897.1,567.5 1897.1,559.4 1900.7,559.4 1900.7,566.4 1901.5,566.4 1901.5,628.3 1903.5,628.3 1903.5,573.2 1904.2,573.2 1904.2,569.3 1905,569.3 1905,628.3 1905.8,628.3 1905.8,571.2 1906.7,571.2 1906.7,628.3 1908.7,628.3 1908.7,573.2 1909.8,573.2 1909.8,628.3 1911,628.3 1911,627.5 1913.5,627.5 1913.5,616.4 1916.4,616.4 1916.4,586.3 1916.8,586.3 1916.8,628.3 1917.2,628.3 1917.2,586.3 1917.6,586.3 1917.6,628.3 1918,628.3 1918,584.3 1918.3,584.3 1918.3,628.3 1918.7,628.3 1918.7,584.3 1919.1,584.3 1919.1,567.5 1919.7,567.5 1919.7,628.3 1920.3,628.3 1920.3,562.5 1933.7,562.5 1933.7,571.2 1934.5,571.2 1934.5,602.8 1936.5,602.8 1936.5,607.1 1938.4,607.1 1938.4,628.3 1939.1,628.3 1939.1,576.6 1939.5,576.6 1939.5,608.6 1940.1,608.6 1940.1,578 1940.7,578 1940.7,608.6 1941.4,608.6 1941.4,567.5 1943.7,567.5 1943.7,616.8 1944.5,616.8 1944.5,580.4 1946.7,580.4 1946.7,568.3 1947.3,568.3 1947.3,628.3 1947.7,628.3 1947.7,568.3 1948.1,568.3 1948.1,628.3 1948.4,628.3 1948.4,569.3 1948.8,569.3 1948.8,628.3 1949.2,628.3 1949.2,569.3 1949.6,569.3 1949.6,628.3 1950,628.3 1950,595.5 1950.4,595.5 1950.4,628.3 1951.1,628.3 1951.1,595.5 1951.7,595.5 1951.7,578.5 1952.5,578.5 1952.5,628.3 1953.6,628.3 1953.6,562.5 1954.9,562.5 1954.9,563.4 1956,563.4 1956,560.3 1958.3,560.3 1958.3,564.4 1958.8,564.4 1958.8,561.3 1964.4,561.3 1964.4,563.4 1964.8,563.4 1964.8,619.8 1965.1,619.8 1965.1,563.4 1965.5,563.4 1965.5,619.8 1965.9,619.8 1965.9,563.4 1966.3,563.4 1966.3,628.3 1966.7,628.3 1966.7,563.4 1967.1,563.4 1967.1,628.3 1967.5,628.3 1967.5,562.5 1967.9,562.5 1967.9,628.3 1968.3,628.3 1968.3,563.4 1968.6,563.4 1968.6,628.3 1969,628.3 1969,564.4 1969.4,564.4 1969.4,628.3 1969.8,628.3 1969.8,565.4 1970.2,565.4 1970.2,558.1 1973,558.1 1973,570.7 1973.8,570.7 1973.8,573.2 1974.4,573.2 1974.4,628.3 1975,628.3 1975,563.4 1975.6,563.4 1975.6,628.3 1976,628.3 1976,568.3 1976.8,568.3 1976.8,564.4 1977.2,564.4 1977.2,628.3 1977.6,628.3 1977.6,566.4 1978,566.4 1978,628.3 1978.3,628.3 1978.3,565.4 1978.7,565.4 1978.7,628.3 1979.1,628.3 1979.1,564.4 1979.5,564.4 1979.5,628.3 1979.9,628.3 1979.9,563.9 1980.3,563.9 1980.3,628.3 1980.7,628.3 1980.7,563.4 1981.1,563.4 1981.1,628.3 1981.5,628.3 1981.5,563.9 1981.8,563.9 1981.8,628.3 1982.2,628.3 1982.2,563.4 1982.6,563.4 1982.6,628.3 1983,628.3 1983,563.9 1983.4,563.9 1983.4,628.3 1983.8,628.3 1983.8,563.4 1984.2,563.4 1984.2,628.3 1984.6,628.3 1984.6,564.4 1985,564.4 1985,628.3 1985.3,628.3 1985.3,565.4 1985.7,565.4 1985.7,628.3 1986.1,628.3 1986.1,565.9 1986.5,565.9 1986.5,628.3 1986.9,628.3 1986.9,566.4 1987.3,566.4 1987.3,616.8 1987.7,616.8 1987.7,566.4 1988.1,566.4 1988.1,606.2 1988.4,606.2 1988.4,575.6 1989.4,575.6 1989.4,596.5 1990.2,596.5 1990.2,628.3 1991.2,628.3 1991.2,564.4 1991.7,564.4 1991.7,628.3 1992.3,628.3 1992.3,564.4 1992.9,564.4 1992.9,582.4 1995.2,582.4 1995.2,608.6 1996,608.6 1996,564.4 1996.8,564.4 1996.8,608.6 1997.4,608.6 1997.4,628.3 1998,628.3 1998,569.3 1998.5,569.3 1998.5,580.9 1999.1,580.9 1999.1,560.3 2001.6,560.3 2001.6,572.2 2002.5,572.2 2002.5,578.5 2003.5,578.5 2003.5,571.2 2004.5,571.2 2004.5,567.5 2005.4,567.5 2005.4,599.9 2006.6,599.9 2006.6,573.2 2007.4,573.2 2007.4,583.3 2009.6,583.3 2009.6,628.3 2012.2,628.3 2012.2,601.3 2012.7,601.3 2012.7,628.3 2013.1,628.3 2013.1,601.3 2013.5,601.3 2013.5,628.3 2013.9,628.3 2013.9,601.3 2014.3,601.3 2014.3,565.4 2014.7,565.4 2014.7,628.3 2015,628.3 2015,565.4 2015.4,565.4 2015.4,628.3 2015.8,628.3 2015.8,565.4 2016.2,565.4 2016.2,628.3 2016.6,628.3 2016.6,565.4 2019.3,565.4 2019.3,628.3 2020,628.3 2020,572.7 2020.5,572.7 2020.5,628.3 2021,628.3 2021,572.7 2021.9,572.7 2021.9,588.2 2023.1,588.2 2023.1,562.5 2024.2,562.5 2024.2,614.9 2025,614.9 2025,607.6 2025.5,607.6 2025.5,560.3 2030.8,560.3 2030.8,582.4 2031.6,582.4 2031.6,561.3 2044.6,561.3 2044.6,564.4 2051.6,564.4 2051.6,599.4 2055.6,599.4 2055.6,628.3 2056.4,628.3 2056.4,580.4 2064.2,580.4 2064.2,616.8 2064.6,616.8 2064.6,580.4 2065.1,580.4 2065.1,623.6 2065.5,623.6 2065.5,576.6 2066.1,576.6 2066.1,611.5 2066.7,611.5 2066.7,579 2067.3,579 2067.3,563.4 2067.7,563.4 2067.7,595.5 2068.3,595.5 2068.3,579 2068.8,579 2068.8,628.3 2069.4,628.3 2069.4,565.4 2070,565.4 2070,628.3 2070.6,628.3 2070.6,595.5 2071.2,595.5 2071.2,628.3 2071.7,628.3 2071.7,564.4 2072.3,564.4 2072.3,628.3 2073,628.3 2073,561.3 2074.3,561.3 2074.3,591.6 2075.7,591.6 2075.7,562.5 2077,562.5 2077,628.3 2080.2,628.3 2080.2,582.4 2080.7,582.4 2080.7,628.3 2081.5,628.3 2081.5,596.5 2082.1,596.5 2082.1,628.3 2091.6,628.3 2091.6,607.1 2092.4,607.1 2092.4,564.4 2092.9,564.4 2092.9,585.3 2093.3,585.3 2093.3,564.4 2093.7,564.4 2093.7,585.3 2094.1,585.3 2094.1,624.6 2094.5,624.6 2094.5,563.4 2094.9,563.4 2094.9,585.3 2095.2,585.3 2095.2,563.4 2095.8,563.4 2095.8,577.5 2096.7,577.5 2096.7,563.4 2098.7,563.4 2098.7,576.6 2099.5,576.6 2099.5,591.6 2100.3,591.6 2100.3,604.7 2100.9,604.7 2100.9,567.5 2101.6,567.5 2101.6,602.8 2102.2,602.8 2102.2,563.4 2103,563.4 2103,559.4 2109.9,559.4 2109.9,619.3 2110.8,619.3 2110.8,628.3 2111.7,628.3 2111.7,562.5 2114.7,562.5 2114.7,578.5 2115.5,578.5 2115.5,562.5 2118.5,562.5 2118.5,559.4 2120,559.4 2120,617.3 2120.8,617.3 2120.8,572.7 2123.4,572.7 2123.4,562.5 2125.4,562.5 2125.4,567.5 2126.5,567.5 2126.5,563.4 2127.5,563.4 2127.5,561.3 2130.8,561.3 2130.8,578.5 2131.9,578.5 2131.9,614.9 2132.6,614.9 2132.6,624.6 2133,624.6 2133,565.9 2133.5,565.9 2133.5,628.3 2134,628.3 2134,564.3 2134.5,564.3 2134.5,628.3 2134.9,628.3 2134.9,566.2 2135.4,566.2 2135.4,628.3 2136,628.3 2136,564.8 2136.3,564.8 2136.3,572 2137.2,572 2137.2,583.8 2138,583.8 2138,628.3 2138.4,628.3 2138.4,563.1 2138.8,563.1 2138.8,627.9 2139.6,627.9 2139.6,561.6 2140.8,561.6 2140.8,623.3 2141.4,623.3 2141.4,562.2 2141.8,562.2 2141.8,626.1 2142.1,626.1 2142.1,561.9 2142.6,561.9 2142.6,624.9 2143.1,624.9 2143.1,566 2143.3,566 2143.3,628.3 2143.9,628.3 2143.9,564.1 2144.4,564.1 2144.4,627.8 2144.7,627.8 2144.7,564.2 2145,564.2 2145,628.3 2145.5,628.3 2145.5,565.1 2145.8,565.1 2145.8,628.3 2146.1,628.3 2146.1,563.3 2146.5,563.3 2146.5,623.4 2147,623.4 2147,564.2 2147.4,564.2 2147.4,625.3 2147.8,625.3 2147.8,560.9 2148.1,560.9 2148.1,626.8 2148.7,626.8 2148.7,564.2 2149,564.2 2149,624.1 2149.1,624.1 2149.1,563 2149.2,563 2149.2,576.1 2150,576.1 2150,628.3 2150.9,628.3 2150.9,563.4 2152,563.4 2152,562.5 2153.2,562.5 2153.2,628.3 2154,628.3 2154,562.5 2157.4,562.5 2157.4,560.3 2163.7,560.3 2163.7,572.2 2165.9,572.2 2165.9,628.3 2167.3,628.3 2167.3,609.1 2168.6,609.1 2168.6,628.3 2170,628.3 2170,567.5 2173.9,567.5 2173.9,591.4 2175.1,591.4 2175.1,576.3 2177.5,576.3 2177.5,628.3 2179.4,628.3 2179.4,564.4 2181.7,564.4 2181.7,628.3 2185.2,628.3 2185.2,561.5 2185.8,561.5 2185.8,564.4 2190.7,564.4 2190.7,574.1 2191.6,574.1 2191.6,578.5 2192.7,578.5 2192.7,628.3 2194.3,628.3 2194.3,568.3 2195.7,568.3 2195.7,564.4 2197.1,564.4 2197.1,576.6 2198.2,576.6 2198.2,562.5 2200.6,562.5 2200.6,616.7 2203.5,616.7 2203.5,561.3 2204.6,561.3 2204.6,564.4 2205.6,564.4 2205.6,617.8 2206.5,617.8 2206.5,618.8 2207.3,618.8 2207.3,628.3 2207.9,628.3 2207.9,562.5 2211.1,562.5 2211.1,563.4 2212,563.4 2212,561.5 2215.7,561.5 2215.7,581.4 2216.5,581.4 2216.5,562.5 2218.5,562.5 2218.5,565.4 2219,565.4 2219,583.8 2219.4,583.8 2219.4,564.4 2219.8,564.4 2219.8,583.8 2220.2,583.8 2220.2,564.4 2220.6,564.4 2220.6,583.8 2221,583.8 2221,564.4 2221.4,564.4 2221.4,583.8 2221.7,583.8 2221.7,564.4 2222,564.4 2222,604.2 2222.8,604.2 2222.8,625.2 2223.5,625.2 2223.5,567.2 2224.1,567.2 2224.1,623.8 2224.4,623.8 2224.4,566.2 2225.1,566.2 2225.1,624.4 2225.6,624.4 2225.6,565.5 2226.1,565.5 2226.1,627.8 2226.3,627.8 2226.3,565.4 2226.6,565.4 2226.6,574.1 2227.8,574.1 2227.8,580.4 2228.9,580.4 2228.9,562.5 2229.8,562.5 2229.8,628.3 2230.7,628.3 2230.7,581.4 2231.6,581.4 2231.6,628.3 2233.6,628.3 2233.6,598.4 2234.1,598.4 2234.1,560.4 2234.7,560.4 2234.7,594.5 2235.1,594.5 2235.1,562.1 2235.6,562.1 2235.6,598.4 2236,598.4 2236,560.5 2236,564.4 2238.2,564.4 2238.2,588.7 2239,588.7 2239,626.4 2239.5,626.4 2239.5,564 2239.9,564 2239.9,628.3 2240.2,628.3 2240.2,562.7 2240.7,562.7 2240.7,623.3 2241.2,623.3 2241.2,564.8 2241.5,564.8 2241.5,623.9 2241.8,623.9 2241.8,564.9 2243.9,564.9 2243.9,582.4 2244.7,582.4 2244.7,628.3 2245.2,628.3 2245.2,562.9 2245.4,562.9 2245.4,623.6 2245.8,623.6 2245.8,564.3 2246.3,564.3 2246.3,626.9 2246.9,626.9 2246.9,564.6 2247.8,564.6 2247.8,628.3 2248.4,628.3 2248.4,564.5 2248.8,564.5 2248.8,625.5 2249.1,625.5 2249.1,562.9 2249.4,562.9 2249.4,628.3 2249.9,628.3 2249.9,563.7 2250.4,563.7 2250.4,628.3 2250.8,628.3 2250.8,564.2 2251.3,564.2 2251.3,626 2251.5,626 2251.5,564.8 2251.8,564.8 2251.8,628.3 2252,628.3 2252,564.4 2252,560.3 2252.5,560.3 2252.5,623.2 2252.9,623.2 2252.9,564.9 2253.2,564.9 2253.2,628.2 2253.5,628.2 2253.5,561.3 2253.8,561.3 2253.8,628.3 2254.3,628.3 2254.3,562.4 2254.7,562.4 2254.7,623.7 2255.2,623.7 2255.2,563.2 2255.5,563.2 2255.5,625.3 2255.9,625.3 2255.9,563.4 2256,563.4 2256,577 2256.8,577 2256.8,628.3 2257.5,628.3 2257.5,581.9 2258.3,581.9 2258.3,628.3 2258.9,628.3 2258.9,577 2259.8,577 2259.8,628.3 2260.7,628.3 2261.1,628.3 2261.1,562.2 2261.6,562.2 2261.6,624.6 2262.1,624.6 2262.1,566.3 2262.5,566.3 2262.5,623.2 2262.9,623.2 2262.9,562.8 2265.2,562.8 2265.2,628.3 2265.7,628.3 2265.7,562.9 2266.1,562.9 2266.1,625.6 2266.4,625.6 2266.4,565.7 2266.8,565.7 2266.8,628.3 2267.2,628.3 2267.2,565.7 2267.6,565.7 2267.6,628 2267.9,628 2267.9,563.7 2268.2,563.7 2268.2,628.3 2268.6,628.3 2268.6,564.6 2268.9,564.6 2268.9,627.1 2269.6,627.1 2269.6,565.6 2270.5,565.6 2270.5,628.3 2271.2,628.3 2271.2,563.2 2271.7,563.2 2271.7,566.4 2272.7,566.4 2272.7,575.6 2274.1,575.6 2274.1,628.3 2275.3,628.3 2275.3,602.3 2278,602.3 2278,628.3 2278.9,628.3 2278.9,627.9 2279.5,627.9 2279.5,569 2279.9,569 2279.9,628.3 2280.3,628.3 2280.3,569.4 2280.7,569.4 2280.7,626.2 2281.1,626.2 2281.1,569.2 2281.4,569.2 2281.4,626.3 2281.7,626.3 2281.7,569.9 2282.2,569.9 2282.2,623.9 2282.5,623.9 2282.5,568.1 2282.8,568.1 2282.8,624.1 2283.1,624.1 2283.1,571.2 2283.5,571.2 2283.5,628.3 2284,628.3 2284,571.1 2284.2,571.1 2284.2,588.2 2285,588.2 2285,628.3 2285.5,628.3 2285.5,562.5 2286.3,562.5 2286.3,628.3 2287.2,628.3 2287.2,566.4 2289.4,566.4 2289.4,628.3 2290.2,628.3 2290.2,567.5 2291.4,567.5 2291.4,608.6 2292.5,608.6 2292.5,627.6 2293.3,627.6 2293.3,566.3 2293.6,566.3 2293.6,628.3 2294.1,628.3 2294.1,564.1 2294.4,564.1 2294.4,624.5 2294.8,624.5 2294.8,564.2 2295.1,564.2 2295.1,627.5 2295.4,627.5 2295.4,564.2 2295.8,564.2 2295.8,626.7 2296.3,626.7 2296.3,565.9 2296.6,565.9 2296.6,627.6 2297.1,627.6 2297.1,568 2297.5,568 2297.5,625.7 2297.7,625.7 2297.7,565.9 2297.7,628.3 2298.6,628.3 2298.6,600.3 2299.4,600.3 2299.4,602.3 2300.2,602.3 2300.2,628.3 2301,628.3 2301,627.8 2301.6,627.8 2301.6,564.5 2302,564.5 2302,622.9 2302.5,622.9 2302.5,566.2 2302.8,566.2 2302.8,623 2303.3,623 2303.3,565.9 2303.6,565.9 2303.6,628.2 2304.1,628.2 2304.1,565.1 2304.5,565.1 2304.5,569.3 2305,569.3 2305,628.3 2305.4,628.3 2305.4,624.7 2305.9,624.7 2305.9,564.8 2306.2,564.8 2306.2,628.3 2306.6,628.3 2306.6,565.5 2308.9,565.5 2308.9,573.2 2309.7,573.2 2309.7,578.5 2310.3,578.5 2310.3,628.3 2312.2,628.3 2312.2,569.3 2312.8,569.3 2312.8,628.3 2313.6,628.3 2313.6,581.4 2314.5,581.4 2314.5,626.1 2315.4,626.1 2315.4,628.3 2323.4,628.3 2323.4,563.4 2325.7,563.4 2325.7,567.5 2326.6,567.5 2326.6,580.4 2327.5,580.4 2327.5,628.3 2332.1,628.3 2332.1,566.4 2332.6,566.4 2332.6,627 2332.9,627 2332.9,565.7 2333.3,565.7 2333.3,624.7 2333.6,624.7 2333.6,565.7 2333.9,565.7 2333.9,627.3 2334.3,627.3 2334.3,562.1 2334.8,562.1 2334.8,628.3 2335,628.3 2335,562.7 2335.1,562.7 2335.1,583.8 2336,583.8 2336,628.3 2336.9,628.3 2336.9,625 2337.3,625 2337.3,562.7 2337.7,562.7 2337.7,623 2338.2,623 2338.2,565.3 2338.5,565.3 2338.5,628.3 2338.8,628.3 2338.8,565.7 2339.3,565.7 2339.3,622.8 2339.6,622.8 2339.6,566.6 2339.9,566.6 2339.9,626.7 2340.3,626.7 2340.3,562.1 2340.6,562.1 2340.6,625 2340.9,625 2340.9,562.4 2341.2,562.4 2341.2,628.3 2341.5,628.3 2341.5,562.3 2341.9,562.3 2341.9,628.3 2342.2,628.3 2342.2,565.3 2342.7,565.3 2342.7,624 2343,624 2343,565.3 2343.3,565.3 2343.3,570.2 2343.7,570.2 2343.7,563.4 2344.1,563.4 2344.1,570.2 2344.5,570.2 2344.5,563.4 2344.9,563.4 2344.9,570.2 2345.2,570.2 2345.2,563.4 2345.6,563.4 2345.6,570.2 2346,570.2 2346,563.4 2346.4,563.4 2346.4,570.2 2346.7,570.2 2346.7,563.4 2346.8,563.4 2346.8,628.3 2347.6,628.3 2347.6,562.5 2349.8,562.5 2349.8,597.4 2350.6,597.4 2350.6,561.5 2354.7,561.5 2354.7,572.7 2355.6,572.7 2355.6,562.5 2359.8,562.5 2359.8,614.9 2360.5,614.9 2360.5,565.4 2361.3,565.4 2361.3,610.3 2362.2,610.3 2362.2,562.8 2363,562.8 2363,628.3 2364.1,628.3 2364.1,564.4 2366.6,564.4 2366.6,628.3 2367,628.3 2367,566.4 2367.3,566.4 2367.3,628.3 2367.6,628.3 2367.6,566.1 2368,566.1 2368,628.3 2368.3,628.3 2368.3,567.9 2368.8,567.9 2368.8,624.7 2369.1,624.7 2369.1,568.1 2370,568.1 2370,570.2 2370.4,570.2 2370.4,563.4 2370.8,563.4 2370.8,570.2 2371.2,570.2 2371.2,563.4 2371.6,563.4 2371.6,570.2 2371.9,570.2 2371.9,563.4 2372,563.4 2372,562.5 2372.9,562.5 2372.9,566.4 2374.1,566.4 2374.1,582.4 2375.3,582.4 2375.3,564.4 2376.8,564.4 2376.8,568.3 2378.3,568.3 2378.3,609.6 2379.7,609.6 2379.7,565.4 2381.1,565.4 2381.1,573.2 2382.2,573.2 2382.2,628.3 2383.1,628.3 2383.1,596.5 2383.8,596.5 2383.8,566.4 2386,566.4 2386,559.4 2388.4,559.4 2388.4,561.5 2390.4,561.5 2390.4,560.5 2392.3,560.5 2392.3,562.5 2395.4,562.5 2395.4,601.3 2396,601.3 2396,625.9 2396.3,625.9 2396.3,568.3 2396.8,568.3 2396.8,628.3 2397.1,628.3 2397.1,571.5 2397.4,571.5 2397.4,614.4 2397.9,614.4 2397.9,569.7 2398.2,569.7 2398.2,618.7 2398.5,618.7 2398.5,591.7 2398.9,591.7 2398.9,624.7 2399.3,624.7 2399.3,591.4 2399.8,591.4 2399.8,628.3 2400.2,628.3 2400.2,594.6 2400.6,594.6 2400.6,627.2 2401.1,627.2 2401.1,592.6 2401.3,592.6 2401.3,628.3 2402.3,628.3 2402.3,563.4 2403.5,563.4 2403.5,564.4 2404.7,564.4 2404.7,613.9 2405.2,613.9 2405.2,571.3 2405.5,571.3 2405.5,614.2 2406.1,614.2 2406.1,571.3 2407.1,571.3 2407.1,564.4 2409.8,564.4 2409.8,563.4 2410.3,563.4 2410.3,628.3 2411,628.3 2411,563.4 2411.8,563.4 2411.8,561.5 2412.6,561.5 2412.6,597.3 2413.1,597.3 2413.1,567.9 2415.4,567.9 2415.4,609.1 2415.6,609.1 2415.6,568.3 2415.9,568.3 2415.9,567.5 2416.8,567.5 2416.8,616.8 2417.8,616.8 2417.8,594.5 2418.5,594.5 2418.5,565.4 2422.5,565.4 2422.5,561.5 2423.3,561.5 2423.3,573.6 2424.3,573.6 2424.3,562.5 2425.1,562.5 2425.1,610.2 2425.6,610.2 2425.6,563.8 2426,563.8 2426,610.5 2426.7,610.5 2426.7,561.5 2428,561.5 2428,628.3 2428.5,628.3 2428.5,568.9 2431,568.9 2431,611 2431.9,611 2431.9,577.5 2432.9,577.5 2432.9,616.8 2433.6,616.8 2433.6,628.3 2433.9,628.3 2433.9,617.8 2434.2,617.8 2434.2,628.3 2434.5,628.3 2434.5,617.8 2434.8,617.8 2434.8,628.3 2435,628.3 2435,617.8 2435.3,617.8 2435.3,628.3 2435.5,628.3 2435.5,617.8 2435.8,617.8 2435.8,576.6 2436.1,576.6 2436.1,562.5 2436.4,562.5 2436.4,576.6 2436.7,576.6 2436.7,562.5 2437,562.5 2437,576.6 2437.3,576.6 2437.3,562.5 2437.6,562.5 2437.6,576.6 2437.9,576.6 2437.9,562.5 2438.2,562.5 2438.2,573.6 2439.1,573.6 2439.1,606.2 2440.1,606.2 2440.1,608.6 2440.7,608.6 2440.7,560.3 2443.3,560.3 2443.3,581.4 2443.6,581.4 2443.6,560.5 2443.9,560.5 2443.9,581.4 2444.2,581.4 2444.2,560.5 2444.5,560.5 2444.5,581.4 2444.8,581.4 2444.8,560.5 2445,560.5 2445,581.4 2445.3,581.4 2445.3,560.5 2445.6,560.5 2445.6,581.4 2445.9,581.4 2445.9,560.5 2446.2,560.5 2446.2,581.4 2446.5,581.4 2446.5,560.5 2446.8,560.5 2446.8,581.4 2447.1,581.4 2447.1,560.5 2447.2,560.5 2447.2,591.6 2447.7,591.6 2447.7,565.6 2448,565.6 2448,590 2448.5,590 2448.5,565.2 2449.6,565.2 2449.6,562.5 2450.8,562.5 2450.8,560.3 2451.4,560.3 2451.4,620.9 2452,620.9 2452,562.9 2452.9,562.9 2452.9,619.8 2453.9,619.8 2453.9,595 2454.5,595 2454.5,583.8 2454.8,583.8 2454.8,563 2455,563 2455,583.8 2455.3,583.8 2455.3,563 2455.6,563 2455.6,583.8 2455.9,583.8 2455.9,563 2456.2,563 2456.2,583.8 2456.5,583.8 2456.5,563 2456.8,563 2456.8,583.8 2456.9,583.8 2456.9,563 2457.4,563 2457.4,560.3 2459.3,560.3 2459.3,613.8 2459.7,613.8 2459.7,569.2 2459.9,569.2 2459.9,628.3 2460.3,628.3 2460.3,568.5 2463.1,568.5 2463.1,597.4 2464.2,597.4 2464.2,564.4 2465.4,564.4 2465.4,609.6 2466.5,609.6 2466.5,628.3 2467.4,628.3 2467.4,582.4 2468.7,582.4 2468.7,570.2 2469.7,570.2 2469.7,574.6 2470.5,574.6 2470.5,628.3 2470.8,628.3 2470.8,577.8 2471.3,577.8 2471.3,618.4 2471.7,618.4 2471.7,580.1 2472.3,580.1 2472.3,628.3 2472.7,628.3 2472.7,578.4 2473.5,578.4 2473.5,613.9 2474.4,613.9 2474.4,561.5 2474.9,561.5 2474.9,628.3 2475.3,628.3 2475.3,569.6 2475.7,569.6 2475.7,628.3 2476.2,628.3 2476.2,568.2 2476.7,568.2 2476.7,628.3 2476.8,628.3 2476.8,570.2 2476.9,570.2 2476.9,581.9 2477.7,581.9 2477.7,617.3 2478.6,617.3 2478.6,581.9 2479.4,581.9 2479.4,564.4 2481.7,564.4 2481.7,562.5 2482.4,562.5 2482.4,628.3 2483.4,628.3 2483.4,564.4 2484.6,564.4 2484.6,605.7 2486,605.7 2486,560.3 2487,560.3 2487,607.1 2487.6,607.1 2487.6,578.8 2488.8,578.8 2488.8,607.1 2489.6,607.1 2489.6,577.4 2489.6,626.4 2490.1,626.4 2490.1,601.2 2490.4,601.2 2490.4,628.3 2490.9,628.3 2490.9,602.4 2491.3,602.4 2491.3,628.3 2491.6,628.3 2491.6,600.3 2492.3,600.3 2492.3,562.5 2493.2,562.5 2493.2,603.3 2494.3,603.3 2494.3,617.8 2495.2,617.8 2495.2,568.3 2500.1,568.3 2500.1,563.4 2502.5,563.4 2502.5,561.5 2503.2,561.5 2503.2,590.6 2504.1,590.6 2504.1,564.4 2504.9,564.4 2504.9,583.8 2506,583.8 2506,565.4 2507.1,565.4 2507.1,628.3 2508.1,628.3 2508.1,561.5 2508.9,561.5 2508.9,570.2 2509.7,570.2 2509.7,568.3 2510.3,568.3 2510.3,617.6 2510.9,617.6 2510.9,576.1 2513.4,576.1 2513.4,617.3 2513.7,617.3 2513.7,574.1 2514.5,574.1 2514.5,567.5 2515.4,567.5 2515.4,564.4 2518.6,564.4 2518.6,569.3 2519.4,569.3 2519.4,628.3 2519.8,628.3 2519.8,571.8 2520.2,571.8 2520.2,628.3 2520.8,628.3 2520.8,572.5 2521.2,572.5 2521.2,616.1 2521.5,616.1 2521.5,571.2 2522.2,571.2 2522.2,583.8 2523.2,583.8 2523.2,571.2 2524.5,571.2 2524.5,601.8 2525.5,601.8 2525.5,628.3 2526.7,628.3 2526.7,572.2 2527.8,572.2 2527.8,576.1 2529,576.1 2529,613 2530.1,613 2530.1,568.3 2530.7,568.3 2530.7,586.7 2531.2,586.7 2531.2,607.1 2531.6,607.1 2531.6,576.8 2531.9,576.8 2531.9,606.5 2532.6,606.5 2532.6,574.9 2533.9,574.9 2533.9,561 2535,561 2535,606.1 2535.4,606.1 2535.4,577.7 2535.8,577.7 2535.8,607.1 2536.5,607.1 2536.5,577.7 2537.8,577.7 2537.8,628.3 2539,628.3 2539,560.3 2539.9,560.3 2539.9,626.4 2540.4,626.4 2540.4,577.2 2542.3,577.2 2542.3,566.4 2542.8,566.4 2542.8,628.3 2543.5,628.3 2543.5,574.2 2544.7,574.2 2544.7,624.3 2545.5,624.3 2545.5,576.7 2546.5,576.7 2546.5,571.2 2547.5,571.2 2547.5,561.5 2548.8,561.5 2548.8,575.1 2549.8,575.1 2549.8,583.8 2550.8,583.8 2550.8,623.9 2551.2,623.9 2551.2,603 2551.7,603 2551.7,628.3 2552,628.3 2552,599.1 2552.3,599.1 2552.3,628.3 2552.6,628.3 2552.6,599.8 2554.9,599.8 2554.9,628.3 2555.1,628.3 2555.1,602.4 2555.4,602.4 2555.4,595.5 2555.9,595.5 2555.9,628.3 2556.6,628.3 2556.6,603.8 2557.4,603.8 2557.4,564.4 2559.9,564.4 2559.9,595.5 2561,595.5 2561,607.1 2562,607.1 2562,620.7 2562.7,620.7 2562.7,599.9 2564.7,599.9 2564.7,586.3 2565.6,586.3 2565.6,620.7 2566.5,620.7 2566.5,613.9 2567.6,613.9 2567.6,592.6 2568.5,592.6 2568.5,588.2 2571,588.2 2571,628.3 2571.7,628.3 2571.7,590.6 2572.6,590.6 2572.6,592.6 2573.7,592.6 2573.7,628.3 2574.6,628.3 2574.6,595.5 2575.5,595.5 2575.5,628.3 2576.5,628.3 2576.5,607.1 2576.9,607.1 2576.9,582.9 2577.2,582.9 2577.2,607.1 2577.5,607.1 2577.5,582.9 2577.8,582.9 2577.8,607.1 2578.1,607.1 2578.1,582.9 2578.3,582.9 2578.3,607.1 2578.6,607.1 2578.6,582.9 2578.9,582.9 2578.9,607.1 2579.2,607.1 2579.2,582.9 2579.5,582.9 2579.5,607.1 2579.8,607.1 2579.8,582.9 2580.1,582.9 2580.1,607.1 2580.2,607.1 2580.2,582.9 2580.2,585.3 2582.9,585.3 2582.9,580.4 2584,580.4 2584,569.3 2585.3,569.3 2585.3,573.2 2586.3,573.2 2586.3,584.3 2587.3,584.3 2587.3,628.3 2588.2,628.3 2588.2,594.5 2589.2,594.5 2589.2,619.8 2589.8,619.8 2589.8,578.5 2590.7,578.5 2590.7,586.7 2591.8,586.7 2591.8,618.8 2592.2,618.8 2592.2,592.8 2592.5,592.8 2592.5,628.3 2593.1,628.3 2593.1,590.5 2593.9,590.5 2593.9,619.8 2594.3,619.8 2594.3,592.6 2594.3,606.2 2594.8,606.2 2594.8,626.1 2595,626.1 2595,592.8 2595.4,592.8 2595.4,618.6 2595.7,618.6 2595.7,592.6 2595.7,565.4 2596,565.4 2596,583.8 2596.3,583.8 2596.3,570.2 2596.6,570.2 2596.6,583.8 2596.9,583.8 2596.9,570.2 2597.2,570.2 2597.2,583.8 2597.5,583.8 2597.5,570.2 2598.2,570.2 2598.2,597.9 2599.1,597.9 2599.1,570.2 2599.9,570.2 2599.9,583.8 2600.5,583.8 2600.5,572.2 2600.9,572.2 2600.9,583.8 2601.3,583.8 2601.3,572.2 2601.7,572.2 2601.7,583.8 2602,583.8 2602,572.2 2602.4,572.2 2602.4,583.8 2602.8,583.8 2602.8,572.2 2603.2,572.2 2603.2,583.8 2603.6,583.8 2603.6,572.2 2604,572.2 2604,583.8 2604.4,583.8 2604.4,572.2 2604.8,572.2 2604.8,583.8 2605,583.8 2605,572.2 2605.4,572.2 2605.4,603.3 2605.9,603.3 2605.9,616.3 2606.3,616.3 2606.3,564.1 2608.3,564.1 2608.3,559.4 2608.8,559.4 2608.8,628.3 2609.1,628.3 2609.1,563.3 2609.6,563.3 2609.6,628.3 2609.8,628.3 2609.8,564.4 2609.8,628.3 2610.3,628.3 2610.3,565.4 2610.6,565.4 2610.6,628.3 2611.1,628.3 2611.1,564.3 2611.7,564.3 2611.7,628.3 2612.2,628.3 2612.2,565.9 2612.7,565.9 2612.7,628.3 2613.2,628.3 2613.2,588.8 2613.7,588.8 2613.7,565.8 2614,565.8 2614,587.2 2614.3,587.2 2614.3,562.6 2614.8,562.6 2614.8,628.3 2615.2,628.3 2615.2,563.4 2615.5,563.4 2615.5,619.5 2615.8,619.5 2615.8,563 2616.4,563 2616.4,615.1 2616.9,615.1 2616.9,562 2618.9,562 2618.9,622.6 2619.4,622.6 2619.4,564.4 2620,564.4 2620,625.6 2620.4,625.6 2620.4,565.3 2623.1,565.3 2623.1,625.6 2623.6,625.6 2623.6,567.4 2623.9,567.4 2623.9,616.8 2624.2,616.8 2624.2,568.1 2626.1,568.1 2626.1,624.6 2626.5,624.6 2626.5,566.4 2628.6,566.4 2628.6,609.6 2628.9,609.6 2628.9,565 2629.2,565 2629.2,606.4 2629.7,606.4 2629.7,566.4 2629.7,564.4 2630.2,564.4 2630.2,569.3 2630.6,569.3 2630.6,563 2631.1,563 2631.1,569.3 2631.8,569.3 2631.8,565.5 2632.8,565.5 2632.8,559.4 2633.6,559.4 2633.6,621.6 2633.9,621.6 2633.9,564 2634.3,564 2634.3,628.3 2634.7,628.3 2634.7,564.6 2637.1,564.6 2637.1,591.1 2637.6,591.1 2637.6,560.3 2638.6,560.3 2638.6,564.4 2639.6,564.4 2639.6,561.5 2640.4,561.5 2640.4,568.3 2641.1,568.3 2641.1,562.8 2642.1,562.8 2642.1,568.3 2642.8,568.3 2642.8,561.5 2643.6,561.5 2643.6,596.5 2644.5,596.5 2644.5,566.4 2645,566.4 2645,618.3 2645.4,618.3 2645.4,563.8 2645.6,563.8 2645.6,628.3 2646,628.3 2646,561.1 2646.4,561.1 2646.4,628.3 2646.7,628.3 2646.7,562.1 2647,562.1 2647,628.3 2647.6,628.3 2647.6,562.5 2648.8,562.5 2648.8,560.3 2649.6,560.3 2649.6,597.1 2649.9,597.1 2649.9,560.4 2650.2,560.4 2650.2,615.4 2650.4,615.4 2650.4,560.7 2650.7,560.7 2650.7,574.9 2651.2,574.9 2651.2,563.6 2651.4,563.6 2651.4,628.3 2651.8,628.3 2651.8,564.4 2652.2,564.4 2652.2,628.3 2652.5,628.3 2652.5,563.3 2652.9,563.3 2652.9,575.1 2653.3,575.1 2653.3,562.9 2653.7,562.9 2653.7,577.1 2654.1,577.1 2654.1,560.4 2654.5,560.4 2654.5,628.3 2654.7,628.3 2654.7,564.5 2655,564.5 2655,580.8 2655.3,580.8 2655.3,563.8 2655.6,563.8 2655.6,628.3 2656,628.3 2656,563.1 2656.2,563.1 2656.2,576.8 2656.6,576.8 2656.6,560.2 2657.4,560.2 2657.4,576.1 2657.9,576.1 2657.9,628.3 2658.2,628.3 2658.2,566 2658.7,566 2658.7,595.6 2658.9,595.6 2658.9,565.9 2661.4,565.9 2661.4,628.3 2661.7,628.3 2661.7,562.3 2662,562.3 2662,607.9 2662.3,607.9 2662.3,564.2 2664.7,564.2 2664.7,576.1 2665.1,576.1 2665.1,605.2 2665.6,605.2 2665.6,577.2 2666,577.2 2666,605.2 2666.2,605.2 2666.2,575 2666.6,575 2666.6,605.2 2666.6,576.1 2667.4,576.1 2667.4,562.5 2668.3,562.5 2668.3,581.9 2669,581.9 2669,628.3 2669.6,628.3 2669.6,565.1 2670.4,565.1 2670.4,559.4 2671,559.4 2671,628.3 2671.3,628.3 2671.3,561.8 2671.6,561.8 2671.6,628.3 2672,628.3 2672,564.3 2672.4,564.3 2672.4,628.3 2672.4,563.4 2672.4,570.2 2672.9,570.2 2672.9,604.9 2673.4,604.9 2673.4,563.7 2674.4,563.7 2674.4,609.9 2675,609.9 2675,565.5 2675.2,565.5 2675.2,594.7 2675.9,594.7 2675.9,566.5 2676.9,566.5 2676.9,617.4 2677.6,617.4 2677.6,564.5 2678.3,564.5 2678.3,566.4 2678.7,566.4 2678.7,590.6 2679.4,590.6 2679.4,567.3 2680.4,567.3 2680.4,625.7 2681.1,625.7 2681.1,562.1 2681.3,562.1 2681.3,628.3 2681.7,628.3 2681.7,566 2682,566 2682,628.3 2682.3,628.3 2682.3,566.4 2682.6,566.4 2682.6,612.4 2682.8,612.4 2682.8,566.1 2685.7,566.1 2685.7,621.5 2686,621.5 2686,562.8 2686.5,562.8 2686.5,592.7 2686.8,592.7 2686.8,565.9 2687.5,565.9 2687.5,557.1 2688,557.1 2688,619.4 2688.6,619.4 2688.6,568.5 2689.5,568.5 2689.5,586.6 2690.1,586.6 2690.1,567.4 2690.5,567.4 2690.5,582.1 2690.7,582.1 2690.7,568.5 2693,568.5 2693,628.3 2693.2,628.3 2693.2,565.4 2695.5,565.4 2695.5,604.5 2696,604.5 2696,567.8 2696.2,567.8 2696.2,602.6 2696.5,602.6 2696.5,565.9 2696.7,565.9 2696.7,562.5 2697.2,562.5 2697.2,587.7 2697.5,587.7 2697.5,563.1 2697.8,563.1 2697.8,601.3 2698.1,601.3 2698.1,563.3 2698.3,563.3 2698.3,601.3 2698.6,601.3 2698.6,561.8 2699,561.8 2699,595 2699.4,595 2699.4,562.4 2699.9,562.4 2699.9,560.3 2700.8,560.3 2700.8,628.3 2701.4,628.3 2701.4,563 2701.7,563 2701.7,628.3 2701.8,628.3 2701.8,565.6 2702.2,565.6 2702.2,628.3 2702.5,628.3 2702.5,564.7 2702.9,564.7 2702.9,628.3 2703.4,628.3 2703.4,563.1 2704.7,563.1 2704.7,628.3 2705.2,628.3 2705.2,565.4 2707.7,565.4 2707.7,628.3 2707.9,628.3 2707.9,563.4 2707.9,583.8 2709,583.8 2709,586.7 2710.3,586.7 2710.3,592.6 2711.5,592.6 2711.5,628.3 2712.2,628.3 2712.2,563.4 2712.7,563.4 2712.7,577 2713.1,577 2713.1,565.3 2713.3,565.3 2713.3,577 2713.6,577 2713.6,562.9 2713.8,562.9 2713.8,577 2714.2,577 2714.2,563.5 2715.3,563.5 2715.3,565.4 2716.4,565.4 2716.4,569.3 2717.5,569.3 2717.5,628.3 2726.3,628.3 2726.3,569.3 2728.5,569.3 2728.5,567.5 2729.3,567.5 2729.3,578.5 2734.4,578.5 2734.4,564.4 2738.6,564.4 2738.6,605.7 2739.2,605.7 2739.2,628.3 2739.7,628.3 2739.7,606.9 2740.6,606.9 2740.6,579 2741.4,579 2741.4,564.4 2741.8,564.4 2741.8,628.3 2742.2,628.3 2742.2,577.5 2742.6,577.5 2742.6,627.5 2743,627.5 2743,575.7 2743.3,575.7 2743.3,623.9 2743.5,623.9 2743.5,575.3 2743.8,575.3 2743.8,628.3 2744.1,628.3 2744.1,573.6 2746.2,573.6 2746.2,616.7 2746.5,616.7 2746.5,563.3 2746.8,563.3 2746.8,622.4 2747.1,622.4 2747.1,561.9 2747.5,561.9 2747.5,618.1 2747.9,618.1 2747.9,561.1 2748.2,561.1 2748.2,628.1 2748.5,628.1 2748.5,563.8 2748.7,563.8 2748.7,624.9 2749.1,624.9 2749.1,563.3 2749.1,556.5 2749.6,556.5 2749.6,611.6 2749.9,611.6 2749.9,555.9 2750.6,555.9 2750.6,582.4 2753,582.4 2753,561.5 2753.5,561.5 2753.5,583.8 2755.4,583.8 2755.4,562.5 2755.9,562.5 2755.9,627.7 2756.2,627.7 2756.2,562.1 2756.5,562.1 2756.5,625.3 2756.7,625.3 2756.7,564.5 2757,564.5 2757,628.3 2757.4,628.3 2757.4,566.1 2757.4,559.4 2757.9,559.4 2757.9,627.2 2758.1,627.2 2758.1,563.9 2758.3,563.9 2758.3,628.3 2758.5,628.3 2758.5,564.3 2761.2,564.3 2761.2,625.7 2761.7,625.7 2761.7,566.2 2762.5,566.2 2762.5,611 2763.7,611 2763.7,573.2 2764.6,573.2 2764.6,566.4 2765.1,566.4 2765.1,624.9 2765.5,624.9 2765.5,573.4 2765.8,573.4 2765.8,622.7 2766.1,622.7 2766.1,572 2766.5,572 2766.5,613.8 2766.7,613.8 2766.7,570.5 2767,570.5 2767,628.3 2767.6,628.3 2767.6,572.2 2768.7,572.2 2768.7,605.2 2769.5,605.2 2769.5,623 2769.8,623 2769.8,572.6 2770.1,572.6 2770.1,626.4 2770.6,626.4 2770.6,569.7 2770.8,569.7 2770.8,628.3 2771.2,628.3 2771.2,569.5 2771.4,569.5 2771.4,628.3 2771.9,628.3 2771.9,568.3 2772.8,568.3 2772.8,557.1 2773.8,557.1 2773.8,628.3 2774.1,628.3 2774.1,572.1 2774.5,572.1 2774.5,628.3 2774.9,628.3 2774.9,568.5 2775.3,568.5 2775.3,628.3 2775.8,628.3 2775.8,565.1 2776.1,565.1 2776.1,609.9 2776.4,609.9 2776.4,562.8 2776.8,562.8 2776.8,612.1 2777.3,612.1 2777.3,563.3 2778.5,563.3 2778.5,628.3 2779,628.3 2779,565.5 2779.5,565.5 2779.5,583.8 2780.4,583.8 2780.4,573.2 2781.2,573.2 2781.2,628.3 2781.5,628.3 2781.5,564.8 2781.8,564.8 2781.8,628.3 2782.2,628.3 2782.2,565.4 2782.4,565.4 2782.4,620.7 2783,620.7 2783,564.6 2783.8,564.6 2783.8,628.3 2784.5,628.3 2784.5,565.2 2785.3,565.2 2785.3,560.3 2786,560.3 2786,604.5 2786.3,604.5 2786.3,562.7 2786.5,562.7 2786.5,624.6 2787.1,624.6 2787.1,562.5 2788.1,562.5 2788.1,627 2788.7,627 2788.7,564.4 2789,564.4 2789,607 2789.4,607 2789.4,563.4 2790.3,563.4 2790.3,612.7 2790.8,612.7 2790.8,565.3 2793.7,565.3 2793.7,620.3 2793.9,620.3 2793.9,566.4 2794.1,566.4 2794.1,621.1 2794.6,621.1 2794.6,562.9 2796.2,562.9 2796.2,628.3 2797.4,628.3 2797.4,577 2798.4,577 2798.4,560.3 2799.3,560.3 2799.3,557.6 2800.1,557.6 2800.1,609 2800.7,609 2800.7,560.2 2801.9,560.2 2801.9,609 2802.6,609 2802.6,561.3 2802.9,561.3 2802.9,628.3 2803.1,628.3 2803.1,560.8 2803.5,560.8 2803.5,609.2 2803.9,609.2 2803.9,558.4 2804.2,558.4 2804.2,604.8 2804.5,604.8 2804.5,560.5 2804.5,580.3 2804.9,580.3 2804.9,563 2805.2,563 2805.2,574.6 2805.4,574.6 2805.4,562.5 2805.7,562.5 2805.7,607.1 2806.6,607.1 2806.6,628.3 2807.3,628.3 2807.3,562.1 2807.7,562.1 2807.7,596.9 2808,596.9 2808,562.9 2810.6,562.9 2810.6,592.7 2811,592.7 2811,561 2811.3,561 2811.3,575.3 2811.8,575.3 2811.8,564.5 2812.9,564.5 2812.9,628.3 2813.5,628.3 2813.5,565.8 2814,565.8 2814,628.3 2814.4,628.3 2814.4,564.7 2814.6,564.7 2814.6,628.3 2814.9,628.3 2814.9,565.9 2817,565.9 2817,628.3 2817.6,628.3 2817.6,566.8 2818.7,566.8 2818.7,591.6 2821,591.6 2821,563.4 2823.5,563.4 2823.5,562.5 2824.3,562.5 2824.3,597.4 2825.3,597.4 2825.3,581.9 2826.3,581.9 2826.3,560.3 2827.3,560.3 2827.3,563.4 2829.2,563.4 2829.2,622.7 2830.1,622.7 2830.1,564.4 2830.9,564.4 2830.9,598.4 2831.9,598.4 2831.9,561.5 2832.8,561.5 2832.8,602.3 2833.6,602.3 2833.6,562.5 2836.8,562.5 2836.8,595.5 2837.7,595.5 2837.7,603.3 2838.2,603.3 2838.2,564.6 2840.6,564.6 2840.6,602.5 2841,602.5 2841,561.7 2841.3,561.7 2841.3,597.7 2841.5,597.7 2841.5,564.8 2841.9,564.8 2841.9,601.7 2842.2,601.7 2842.2,565.7 2842.5,565.7 2842.5,599.1 2842.8,599.1 2842.8,563.4 2843.1,563.4 2843.1,603.3 2843.3,603.3 2843.3,563.4 2843.4,563.4 2843.4,583.8 2844.2,583.8 2844.2,628.3 2844.9,628.3 2844.9,562.5 2847.2,562.5 2847.2,587.7 2847.8,587.7 2847.8,562.5 2850.1,562.5 2850.1,628.3 2850.7,628.3 2850.7,573.2 2851.6,573.2 2851.6,588.7 2852.2,588.7 2852.2,621.7 2852.8,621.7 2852.8,563.4 2857.4,563.4 2857.4,628.3 2857.9,628.3 2857.9,578.5 2858.7,578.5 2858.7,566.4 2860.3,566.4 2860.3,562.5 2861.2,562.5 2861.2,564.4 2861.9,564.4 2861.9,562.5 2864.5,562.5 2864.5,571.2 2865.5,571.2 2865.5,628.3 2866.5,628.3 2866.5,562.5 2873.6,562.5 2873.6,574.1 2874.1,574.1 2874.1,624.6 2874.8,624.6 2874.8,628.3 2876,628.3 2876,569.3 2877.3,569.3 2877.3,566.4 2878.9,566.4 2878.9,628.3 2880.3,628.3 2880.3,564.4 2938.4,564.4 2938.4,1110.7 120,1110.7"/>
<polyline fill="none" stroke="#4169e1" stroke-width="1.15" stroke-linejoin="miter" points="120,628.3 120.4,628.3 120.4,557.3 168.5,557.3 168.5,628.3 170.5,628.3 170.5,562.5 175.8,562.5 175.8,563.9 176.3,563.9 176.3,576.6 176.8,576.6 176.8,568.8 179.3,568.8 179.3,564.4 180.2,564.4 180.2,570.2 181.4,570.2 181.4,564.9 182.4,564.9 182.4,569.3 183.6,569.3 183.6,565.9 184.5,565.9 184.5,560.5 189.1,560.5 189.1,557.4 191.7,557.4 191.7,561 192.6,561 192.6,562.5 193.5,562.5 193.5,564.4 196.7,564.4 196.7,563.3 206.9,563.3 206.9,562.5 207.7,562.5 207.7,573.6 208.6,573.6 208.6,564.4 212.2,564.4 212.2,561.5 214.4,561.5 214.4,567.5 220.5,567.5 220.5,562.7 225.3,562.7 225.3,563.4 227.6,563.4 227.6,565.4 228.3,565.4 228.3,575.6 228.7,575.6 228.7,568.3 234.6,568.3 234.6,597.4 235.4,597.4 235.4,590.1 238.6,590.1 238.6,574.1 239.4,574.1 239.4,562.5 244.7,562.5 244.7,592.6 245.5,592.6 245.5,590.4 248,590.4 248,592.4 250.6,592.4 250.6,564.4 256,564.4 256,567.8 257,567.8 257,576.6 258.1,576.6 258.1,563.9 260.3,563.9 260.3,568.3 261,568.3 261,621.7 261.7,621.7 261.7,560.5 263.7,560.5 263.7,561.5 264.5,561.5 264.5,598.4 265,598.4 265,562 265.3,562 265.3,609.6 265.7,609.6 265.7,562 266.1,562 266.1,617.3 266.6,617.3 266.6,562 267.1,562 267.1,580.9 267.6,580.9 267.6,562 268.1,562 268.1,580.4 268.5,580.4 268.5,562 269,562 269,577.5 269.5,577.5 269.5,561.5 272.6,561.5 272.6,628.3 274.6,628.3 274.6,564.4 276.5,564.4 276.5,571.2 289.6,571.2 289.6,560.3 290.4,560.3 290.4,580.4 291.4,580.4 291.4,576.6 292.2,576.6 292.2,579 295,579 295,580.4 295.9,580.4 295.9,579.2 303.1,579.2 303.1,627 304.5,627 304.5,628.3 305.9,628.3 305.9,608.6 308.6,608.6 308.6,587.2 309.4,587.2 309.4,582.4 312.4,582.4 312.4,628.3 318.6,628.3 318.6,614.9 319.4,614.9 319.4,565.4 322.4,565.4 322.4,560.3 334.6,560.3 334.6,564.4 340.6,564.4 340.6,586.7 343.5,586.7 343.5,560.3 345.4,560.3 345.4,628.3 349.6,628.3 349.6,563.4 350.4,563.4 350.4,561.5 353.5,561.5 353.5,627.5 354.6,627.5 354.6,562.5 355.6,562.5 355.6,611 357.9,611 357.9,618.3 358.9,618.3 358.9,568.3 360.1,568.3 360.1,562.5 361.2,562.5 361.2,573.2 361.9,573.2 361.9,563.4 362.7,563.4 362.7,573.2 363.4,573.2 363.4,563.4 364.3,563.4 364.3,571.2 365.1,571.2 365.1,562.5 365.4,562.5 365.4,608.6 365.8,608.6 365.8,562.5 368.5,562.5 368.5,615.4 370.2,615.4 371,615.4 371,621.2 373.4,621.2 373.4,582.4 375.6,582.4 375.6,623.2 376.4,623.2 376.4,562.5 378.7,562.5 378.7,563.4 379.2,563.4 379.2,625.6 379.8,625.6 379.8,628.3 380.6,628.3 380.6,567.5 386.5,567.5 386.5,561.5 387.5,561.5 387.5,568.3 388.3,568.3 388.3,561.5 392.8,561.5 392.8,563 393.6,563 393.6,565.4 394.4,565.4 394.4,561.5 397.7,561.5 397.7,613.4 405.4,613.4 405.4,563.4 409.3,563.4 409.3,562.5 414.5,562.5 414.5,603.3 415.4,603.3 415.4,558.1 423.6,558.1 423.6,561.3 434.8,561.3 434.8,560.5 436,560.5 436,562.5 437.2,562.5 437.2,596.9 437.8,596.9 437.8,628.3 438.2,628.3 438.2,596.9 438.5,596.9 438.5,628.3 438.9,628.3 438.9,596.9 439.1,596.9 439.1,560.5 439.5,560.5 439.5,628.3 439.9,628.3 439.9,560.5 440.3,560.5 440.3,628.3 440.7,628.3 440.7,560.5 441.2,560.5 441.2,587.2 442,587.2 442,628.3 443.1,628.3 443.1,560.5 444.6,560.5 444.6,563.4 445.9,563.4 445.9,564.9 446.9,564.9 446.9,579 447.7,579 447.7,587.2 448.6,587.2 448.6,563.4 449.4,563.4 449.4,595.5 452.6,595.5 452.6,573.3 453.4,573.3 453.4,628.3 455.4,628.3 455.4,588.2 455.8,588.2 455.8,628.3 456.2,628.3 456.2,588.2 456.6,588.2 456.6,628.3 457,628.3 457,588.2 457.4,588.2 457.4,585.3 457.8,585.3 457.8,628.3 458.2,628.3 458.2,585.3 458.8,585.3 458.8,628.3 460,628.3 460,595.3 461.2,595.3 461.2,628.3 462.1,628.3 462.1,605.2 463,605.2 463,628.3 463.4,628.3 463.4,605.2 464,605.2 464,619.8 464.7,619.8 464.7,579.5 465.8,579.5 465.8,581.4 467,581.4 467,578.5 468.1,578.5 468.1,564.4 468.6,564.4 468.6,616.8 469,616.8 469,564.4 469.4,564.4 469.4,616.8 469.8,616.8 469.8,564.4 470.2,564.4 470.2,628.3 470.6,628.3 470.6,564.4 471,564.4 471,572.2 471.4,572.2 471.4,628.3 471.7,628.3 471.7,572.2 472.1,572.2 472.1,628.3 472.4,628.3 472.4,568.3 473.2,568.3 473.2,570.4 474.1,570.4 474.1,612 474.7,612 474.7,628.3 475,628.3 475,612 475.4,612 475.4,628.3 475.8,628.3 475.8,612 476.2,612 476.2,628.3 476.6,628.3 476.6,585.3 477.6,585.3 477.6,570.2 478.7,570.2 478.7,569.3 480.2,569.3 480.2,570.7 481.4,570.7 481.4,575.1 482.6,575.1 482.6,570.7 483.7,570.7 483.7,568.5 484.8,568.5 484.8,569.5 485.8,569.5 485.8,628.3 487,628.3 487,623.2 487.9,623.2 487.9,628.3 490.5,628.3 490.5,577.5 491.3,577.5 491.3,563.4 495.3,563.4 495.3,569.3 496.1,569.3 496.1,561.5 496.6,561.5 496.6,628.3 497,628.3 497,576.1 497.4,576.1 497.4,628.3 497.8,628.3 497.8,576.1 498.2,576.1 498.2,628.3 498.5,628.3 498.5,564.4 498.9,564.4 498.9,599.9 499.3,599.9 499.3,563.4 499.7,563.4 499.7,599.9 500.1,599.9 500.1,562.5 500.5,562.5 500.5,628.3 500.9,628.3 500.9,562.5 501.3,562.5 501.3,628.3 507.4,628.3 507.4,564.4 509.3,564.4 509.3,565.4 511.6,565.4 511.6,589.7 516.4,589.7 516.4,591.6 517.3,591.6 517.3,575.6 520.3,575.6 520.3,623.6 520.7,623.6 520.7,572.7 525.6,572.7 525.6,578.5 526.4,578.5 526.4,599.6 529.4,599.6 529.4,595.5 531.4,595.5 531.4,561.5 533.6,561.5 533.6,562.5 536.6,562.5 536.6,564.9 537.5,564.9 537.5,575.6 538.4,575.6 538.4,628.3 543.3,628.3 543.3,575.6 543.8,575.6 543.8,628.3 544.3,628.3 544.3,575.6 545,575.6 545,628.3 546.2,628.3 546.2,574.6 548.9,574.6 548.9,590.4 550.3,590.4 550.3,566.4 551.6,566.4 551.6,622.2 552.8,622.2 552.8,628.3 554.4,628.3 554.4,627.5 555.4,627.5 555.4,564.4 558.2,564.4 558.2,628.3 558.8,628.3 558.8,575.6 563.7,575.6 563.7,628.3 570.5,628.3 570.5,560.3 576.6,560.3 576.6,564.4 579.5,564.4 579.5,590.6 580,590.6 580,584.6 585.6,584.6 585.6,601.8 586.7,601.8 586.7,583.8 587.8,583.8 587.8,604.7 588.4,604.7 588.4,580.7 592.6,580.7 592.6,628.3 593.5,628.3 593.5,562.5 599.6,562.5 599.6,560.3 614.5,560.3 614.5,566.4 620,566.4 625.3,566.4 625.3,561.5 629.2,561.5 629.2,563 631.9,563 631.9,561.7 633.3,561.7 633.3,591.6 634.7,591.6 634.7,563.4 636.3,563.4 636.3,589.7 637.7,589.7 637.7,562.5 641.8,562.5 641.8,564.4 642.8,564.4 642.8,569.3 643.6,569.3 643.6,564.9 644.7,564.9 644.7,562.5 646.7,562.5 646.7,561.7 650.3,561.7 650.3,567.3 651.1,567.3 651.1,564.4 652.1,564.4 652.1,562.5 653.2,562.5 653.2,560.3 656.7,560.3 656.7,563 663,563 663,561.5 664.2,561.5 664.2,566.4 666.7,566.4 666.7,572.2 667.5,572.2 667.5,562.5 673.2,562.5 673.2,583.3 675.8,583.3 675.8,564.4 678.1,564.4 678.1,569.3 678.5,569.3 678.5,562.5 680.7,562.5 680.7,563 683.1,563 683.1,607.1 683.9,607.1 683.9,577 684.8,577 684.8,603.3 685.8,603.3 685.8,628.3 686.9,628.3 686.9,579 687.4,579 687.4,571.2 687.8,571.2 687.8,602.3 688.2,602.3 688.2,571.2 688.5,571.2 688.5,602.3 688.9,602.3 688.9,628.3 689.5,628.3 689.5,563 689.9,563 689.9,624.6 690.5,624.6 690.5,581.9 690.9,581.9 690.9,591.6 691.3,591.6 691.3,581.9 691.7,581.9 691.7,591.6 692,591.6 692,562.5 694.5,562.5 694.5,567.3 695.6,567.3 695.6,564.9 696.9,564.9 696.9,562.5 700.4,562.5 700.4,616.7 703.8,616.7 703.8,603.3 705,603.3 705,628.3 705.8,628.3 705.8,608.1 706.2,608.1 706.2,628.3 706.6,628.3 706.6,617.3 707.4,617.3 707.4,572.7 709.3,572.7 709.3,598.4 709.7,598.4 709.7,572.7 710.1,572.7 710.1,598.4 710.5,598.4 710.5,572.7 710.9,572.7 710.9,598.4 711.3,598.4 711.3,572.7 711.7,572.7 711.7,599.4 712,599.4 712,628.3 712.4,628.3 712.4,599.4 712.8,599.4 712.8,628.3 713.3,628.3 713.3,616.8 714.1,616.8 714.1,597.4 714.7,597.4 714.7,616.8 715.1,616.8 715.1,597.4 715.7,597.4 715.7,616.8 716.5,616.8 716.5,626.1 717.1,626.1 717.1,569.3 717.6,569.3 717.6,628.3 719.6,628.3 719.6,578.5 720.4,578.5 720.4,565.4 725.3,565.4 725.3,567.5 728.5,567.5 728.5,570.4 729.2,570.4 729.2,601.3 729.7,601.3 729.7,573.2 730.2,573.2 730.2,601.3 730.7,601.3 730.7,573.2 731.2,573.2 731.2,592.6 731.7,592.6 731.7,573.2 732.1,573.2 732.1,592.6 732.6,592.6 732.6,562.5 733.4,562.5 733.4,584.3 736.5,584.3 736.5,561.5 739.9,561.5 739.9,567.5 742.5,567.5 742.5,574.1 743.1,574.1 743.1,579.5 743.7,579.5 743.7,575.1 744.3,575.1 744.3,585.3 745,585.3 745,574.1 745.7,574.1 745.7,585.3 746.4,585.3 746.4,573.6 747.2,573.6 747.2,604.2 751.5,604.2 751.5,563.4 752.3,563.4 752.3,581.4 754.6,581.4 754.6,590.4 755.4,590.4 755.4,567.5 758.4,567.5 758.4,573.6 759.2,573.6 759.2,588.2 759.8,588.2 759.8,574.1 760.3,574.1 760.3,588.2 760.8,588.2 760.8,570.2 761.3,570.2 761.3,595.5 762.4,595.5 762.4,607.1 763.3,607.1 763.3,615.4 764.6,615.4 764.6,565.4 765.4,565.4 765.4,578.5 771.5,578.5 771.5,564.4 773.4,564.4 773.4,588.5 775.8,588.5 775.8,570.4 780.4,570.4 780.4,561.5 786.8,561.5 786.8,608.6 787.4,608.6 787.4,558.4 791.9,558.4 791.9,561.5 793.3,561.5 793.3,563.4 794.5,563.4 794.5,564.4 798.4,564.4 798.4,565.4 798.6,565.4 798.6,570.7 799.4,570.7 799.4,628.3 800.5,628.3 800.5,565.4 801.2,565.4 801.2,582.9 801.6,582.9 801.6,565.9 801.9,565.9 801.9,599.4 802.3,599.4 802.3,564.4 802.7,564.4 802.7,582.9 803.1,582.9 803.1,592.6 803.5,592.6 803.5,564.4 803.9,564.4 803.9,582.9 804.3,582.9 804.3,561.5 804.7,561.5 804.7,582.9 805,582.9 805,561.5 805.4,561.5 805.4,600.3 806,600.3 806,562.5 806.8,562.5 806.8,593.5 807.6,593.5 807.6,563.4 808.6,563.4 808.6,569.3 809.5,569.3 809.5,563.4 810.6,563.4 810.6,568.3 811.5,568.3 811.5,566.4 812.4,566.4 812.4,560.5 814.7,560.5 814.7,603.7 816.6,603.7 816.6,562.5 822.4,562.5 822.4,561.3 827.3,561.3 827.3,556.5 829.5,556.5 829.5,560.3 837.5,560.3 837.5,561.3 845.2,561.3 845.2,560.3 851.3,560.3 851.3,559.6 852.5,559.6 852.5,562 853.7,562 853.7,563.4 855,563.4 855,560.3 856.4,560.3 856.4,575.6 857.6,575.6 857.6,562 858.7,562 858.7,565.4 860.8,565.4 860.8,563.9 863.8,563.9 863.8,560.3 864.6,560.3 864.6,628.3 865,628.3 865,612 865.4,612 865.4,628.3 865.8,628.3 865.8,612 866.2,612 866.2,628.3 866.6,628.3 866.6,612 867,612 867,628.3 867.6,628.3 867.6,564.4 868.2,564.4 868.2,628.3 868.7,628.3 868.7,561.5 869.3,561.5 869.3,582.4 870,582.4 870,562.5 870.8,562.5 870.8,628.3 871.4,628.3 871.4,562.5 871.7,562.5 871.7,601.8 872.3,601.8 872.3,562.5 872.7,562.5 872.7,584.8 873.3,584.8 873.3,562.5 873.7,562.5 873.7,584.8 874.3,584.8 874.3,628.3 874.9,628.3 874.9,564.4 877.3,564.4 877.3,628.3 877.8,628.3 877.8,562.5 878.2,562.5 878.2,628.3 878.5,628.3 878.5,562.5 878.9,562.5 878.9,561.5 879.3,561.5 879.3,628.3 879.7,628.3 879.7,561.5 880.1,561.5 880.1,628.3 880.5,628.3 880.5,561.5 880.9,561.5 880.9,628.3 883.9,628.3 883.9,563.4 885.1,563.4 885.1,617.8 885.7,617.8 885.7,563.4 886.1,563.4 886.1,617.8 886.5,617.8 886.5,563.4 886.9,563.4 886.9,628.3 887.3,628.3 887.3,563.4 887.7,563.4 887.7,628.3 888.1,628.3 888.1,563.4 888.9,563.4 888.9,565.4 889.6,565.4 889.6,628.3 890.4,628.3 890.4,585.3 891.2,585.3 891.2,595.5 891.7,595.5 891.7,585.3 892.3,585.3 892.3,560.5 892.9,560.5 892.9,595.5 893.3,595.5 893.3,560.5 893.7,560.5 893.7,604.2 894.3,604.2 894.3,561.5 894.9,561.5 894.9,595.5 895.4,595.5 895.4,561.5 895.8,561.5 895.8,595.5 896.4,595.5 896.4,628.3 898.6,628.3 898.6,576.6 899.3,576.6 899.3,563.4 899.9,563.4 899.9,576.6 900.3,576.6 900.3,563.4 900.9,563.4 900.9,578.5 901.6,578.5 901.6,594.5 902,594.5 902,628.3 902.8,628.3 902.8,594.5 903.6,594.5 903.6,570.7 904.4,570.7 904.4,562.5 909.3,562.5 909.3,602.3 910,602.3 910,581.9 910.6,581.9 910.6,602.3 911.3,602.3 911.3,594.5 911.6,594.5 911.6,560.3 915.4,560.3 915.4,628.3 916,628.3 916,567.5 920.5,567.5 920.5,628.3 921.3,628.3 921.3,560.3 921.7,560.3 921.7,628.3 922.3,628.3 922.3,560.3 923.1,560.3 923.1,628.3 923.9,628.3 923.9,560.3 924.7,560.3 924.7,561.5 925.3,561.5 925.3,628.3 926.1,628.3 926.1,558.1 926.9,558.1 926.9,560.3 930.8,560.3 930.8,595.5 931.6,595.5 931.6,571.4 933.6,571.4 933.6,628.3 935.8,628.3 935.8,582.4 937.8,582.4 937.8,608.6 938.3,608.6 938.3,582.4 938.7,582.4 938.7,608.6 939.1,608.6 939.1,567.5 939.8,567.5 939.8,628.3 941.1,628.3 941.1,577.5 941.8,577.5 941.8,628.3 942.4,628.3 942.4,591.8 943.2,591.8 943.2,627.5 943.8,627.5 943.8,569.5 946.7,569.5 946.7,574.6 947.2,574.6 947.2,605.7 947.9,605.7 947.9,568.5 949.4,568.5 949.4,628.3 950.6,628.3 950.6,579 951.7,579 951.7,574.6 952.7,574.6 952.7,563.4 953.8,563.4 953.8,568.5 955.1,568.5 955.1,587.2 956.3,587.2 956.3,569.5 957.3,569.5 957.3,561.5 958,561.5 958,572.7 958.5,572.7 958.5,561.5 958.9,561.5 958.9,573.2 959.3,573.2 959.3,577.5 959.7,577.5 959.7,564.4 960.1,564.4 960.1,573.2 960.5,573.2 960.5,568.3 961.1,568.3 961.1,573.2 961.7,573.2 961.7,628.3 962.7,628.3 962.7,575.6 963.7,575.6 963.7,571.4 965.6,571.4 965.6,574.6 966.5,574.6 966.5,587.7 967.4,587.7 967.4,589.5 968.7,589.5 968.7,572.7 969.7,572.7 969.7,571.4 970.8,571.4 970.8,588.2 973.6,588.2 973.6,560.3 974.4,560.3 974.4,563.4 975.3,563.4 975.3,581.4 975.8,581.4 975.8,563.4 976.3,563.4 976.3,581.4 976.8,581.4 976.8,562.5 977.3,562.5 977.3,624.6 977.8,624.6 977.8,571.2 978.3,571.2 978.3,624.6 979,624.6 979,581.4 979.9,581.4 979.9,565.4 980.9,565.4 980.9,592.6 981.5,592.6 981.5,562.5 982.1,562.5 982.1,596.5 982.7,596.5 982.7,560.5 983.8,560.5 983.8,559.4 984.8,559.4 984.8,560.5 994.5,560.5 994.5,572.4 996.5,572.4 996.5,564.4 997.5,564.4 997.5,570.4 998.7,570.4 998.7,563.4 999.8,563.4 999.8,561.5 1002.8,561.5 1002.8,563.4 1003.7,563.4 1003.7,562.5 1007.5,562.5 1007.5,553.3 1008.5,553.3 1008.5,573.6 1009.8,573.6 1009.8,564.4 1011.6,564.4 1011.6,561.5 1012.9,561.5 1012.9,577.5 1013.7,577.5 1013.7,561.5 1016.6,561.5 1016.6,564.4 1017.6,564.4 1017.6,558.4 1018.4,558.4 1018.4,562.5 1021.5,562.5 1021.5,560.5 1024.6,560.5 1024.6,569.5 1025.5,569.5 1025.5,559.4 1029.7,559.4 1029.7,560.3 1031.9,560.3 1031.9,562.5 1033,562.5 1033,554.2 1035.8,554.2 1035.8,556.5 1036.8,556.5 1036.8,561.5 1038.2,561.5 1038.2,564.4 1040.9,564.4 1040.9,561.5 1043.8,561.5 1043.8,563.4 1044.7,563.4 1044.7,606.4 1045.5,606.4 1045.5,561.5 1048.6,561.5 1048.6,563.4 1049.5,563.4 1049.5,590.6 1050.3,590.6 1050.3,594.5 1051.2,594.5 1051.2,620.7 1051.7,620.7 1051.7,561.5 1054.3,561.5 1054.3,556.5 1055,556.5 1055,565.4 1056.1,565.4 1056.1,557.6 1057.2,557.6 1057.2,583.6 1057.7,583.6 1057.7,556.7 1058.4,556.7 1058.4,550.3 1059.2,550.3 1059.2,574.6 1061.3,574.6 1061.3,549.4 1064,549.4 1064,558.4 1065.3,558.4 1065.3,563.4 1066.4,563.4 1066.4,561.5 1069.2,561.5 1069.2,568.5 1071.5,568.5 1071.5,577.5 1073.7,577.5 1073.7,562.5 1074.3,562.5 1074.3,567.5 1074.9,567.5 1074.9,562.5 1075.4,562.5 1075.4,560.3 1081.9,560.3 1081.9,564.4 1083.1,564.4 1083.1,623.4 1086.6,623.4 1086.6,602.3 1087.4,602.3 1087.4,571.4 1089.6,571.4 1089.6,576.6 1090.7,576.6 1090.7,563.4 1092.2,563.4 1092.2,577.5 1093.3,577.5 1093.3,565.4 1095.4,565.4 1095.4,561.5 1099.6,561.5 1099.6,562.5 1101.6,562.5 1101.6,560.5 1107.4,560.5 1107.4,559.4 1110.6,559.4 1110.6,564.4 1119.3,564.4 1119.3,573.6 1120,573.6 1122.5,573.6 1122.5,563.4 1123.3,563.4 1123.3,561.3 1128.7,561.3 1128.7,562.5 1134.6,562.5 1134.6,564.9 1136.5,564.9 1136.5,563 1139.5,563 1139.5,561.5 1140.3,561.5 1140.3,569.5 1142.8,569.5 1142.8,561.5 1149.3,561.5 1149.3,558.1 1155.4,558.1 1155.4,564.4 1157.7,564.4 1157.7,557.4 1163,557.4 1163,560.5 1163.9,560.5 1163.9,562.5 1167.6,562.5 1167.6,561.5 1168.3,561.5 1168.3,569.3 1168.8,569.3 1168.8,562.5 1171,562.5 1171,559.6 1171.3,559.6 1171.3,601.8 1171.7,601.8 1171.7,561.3 1176.5,561.3 1176.5,628.3 1178.7,628.3 1178.7,563.4 1180.7,563.4 1180.7,628.3 1181.4,628.3 1181.4,590.4 1182,590.4 1182,598.4 1183,598.4 1183,628.3 1184.1,628.3 1184.1,563.4 1184.5,563.4 1184.5,628.3 1184.9,628.3 1184.9,563.4 1185.2,563.4 1185.2,579 1185.6,579 1185.6,563 1186,563 1186,592.6 1186.4,592.6 1186.4,563 1186.8,563 1186.8,592.6 1187.2,592.6 1187.2,563 1187.6,563 1187.6,579 1188,579 1188,562.5 1188.3,562.5 1188.3,570.4 1188.9,570.4 1188.9,562.5 1189.5,562.5 1189.5,568.3 1190.1,568.3 1190.1,563.4 1193.5,563.4 1193.5,571.4 1194.3,571.4 1194.3,567.5 1196.5,567.5 1196.5,564.4 1201.6,564.4 1201.6,576.3 1202.3,576.3 1202.3,584.8 1203,584.8 1203,584.3 1203.7,584.3 1203.7,596.5 1204.3,596.5 1204.3,589.5 1204.9,589.5 1204.9,596.5 1205.4,596.5 1205.4,589.5 1205.6,589.5 1205.6,628.3 1210.3,628.3 1210.3,599.4 1210.5,599.4 1210.5,628.3 1210.9,628.3 1210.9,599.4 1211.3,599.4 1211.3,628.3 1211.7,628.3 1211.7,599.4 1212,599.4 1212,628.3 1212.4,628.3 1212.4,595.5 1213,595.5 1213,584.3 1213.4,584.3 1213.4,628.3 1213.8,628.3 1213.8,585.3 1214.2,585.3 1214.2,628.3 1214.6,628.3 1214.6,585.3 1215,585.3 1215,628.3 1215.3,628.3 1215.3,585.3 1215.7,585.3 1215.7,628.3 1216.1,628.3 1216.1,585.3 1216.5,585.3 1216.5,628.3 1216.9,628.3 1216.9,617.3 1217.3,617.3 1217.3,628.3 1217.7,628.3 1217.7,617.3 1218.1,617.3 1218.1,628.3 1218.6,628.3 1218.6,569.3 1219.4,569.3 1219.4,562.5 1221.5,562.5 1221.5,564.4 1225.6,564.4 1225.6,614.4 1226.4,614.4 1226.4,561.3 1234.6,561.3 1234.6,563.4 1236.5,563.4 1236.5,611.5 1241.4,611.5 1241.4,582.4 1243.5,582.4 1243.5,613.4 1246,613.4 1246,589.5 1247.3,589.5 1247.3,608.6 1248.5,608.6 1248.5,597.9 1249.5,597.9 1249.5,585.3 1254.6,585.3 1254.6,572.4 1255.7,572.4 1255.7,603.3 1257.1,603.3 1257.1,604.7 1257.7,604.7 1257.7,628.3 1258.1,628.3 1258.1,605.2 1258.4,605.2 1258.4,628.3 1258.8,628.3 1258.8,605.2 1259.2,605.2 1259.2,628.3 1259.6,628.3 1259.6,605.2 1260.3,605.2 1260.3,628.3 1261.3,628.3 1261.3,616.4 1264.2,616.4 1264.2,628.3 1264.9,628.3 1264.9,577.5 1267.7,577.5 1267.7,616.7 1268.5,616.7 1268.5,609.3 1271.6,609.3 1271.6,614.9 1272.5,614.9 1272.5,617.3 1273.5,617.3 1273.5,611.5 1275.6,611.5 1275.6,628.3 1283.6,628.3 1283.6,562.5 1285.5,562.5 1285.5,561.3 1288,561.3 1288,562.5 1289.1,562.5 1289.1,561.3 1290.3,561.3 1290.3,562.5 1291.4,562.5 1291.4,569.3 1294.6,569.3 1294.6,563.4 1295.4,563.4 1295.4,571.2 1296.2,571.2 1296.2,576.6 1296.9,576.6 1296.9,587.2 1297.7,587.2 1297.7,602.8 1298.5,602.8 1298.5,562.5 1301.5,562.5 1301.5,570.4 1302.3,570.4 1302.3,562.5 1305.4,562.5 1305.4,579.5 1308.3,579.5 1308.3,576.3 1310.7,576.3 1310.7,628.3 1311.5,628.3 1311.5,563.4 1315.6,563.4 1315.6,562.5 1318.1,562.5 1318.1,561.5 1322.4,561.5 1322.4,563.4 1323.1,563.4 1323.1,559.4 1323.7,559.4 1323.7,563 1324.4,563 1324.4,561.5 1326.3,561.5 1326.3,560.3 1330.7,560.3 1330.7,590.4 1331.6,590.4 1331.6,565.4 1332.5,565.4 1332.5,559.4 1334.7,559.4 1334.7,564.4 1335.8,564.4 1335.8,590.4 1337.2,590.4 1337.2,617.3 1338.3,617.3 1338.3,560.3 1338.9,560.3 1338.9,585.3 1339.9,585.3 1339.9,574.1 1341.1,574.1 1341.1,590.4 1344.5,590.4 1344.5,591.6 1345.3,591.6 1345.3,613.9 1346,613.9 1346,628.3 1346.6,628.3 1346.6,613.9 1347.2,613.9 1347.2,628.3 1347.7,628.3 1347.7,584.3 1349.8,584.3 1349.8,567.5 1350.9,567.5 1350.9,569.5 1352.2,569.5 1352.2,570.4 1354.6,570.4 1354.6,568.5 1355.4,568.5 1355.4,566.4 1356.3,566.4 1356.3,582.4 1359.4,582.4 1359.4,576.3 1360.4,576.3 1360.4,567.5 1361.3,567.5 1361.3,585.3 1364.2,585.3 1364.2,565.4 1364.7,565.4 1364.7,584.3 1366.9,584.3 1366.9,586.3 1367.9,586.3 1367.9,591.6 1368.9,591.6 1368.9,595.5 1370.1,595.5 1370.1,584.3 1371,584.3 1371,595.5 1371.9,595.5 1371.9,585.8 1372.8,585.8 1372.8,590.4 1374.9,590.4 1374.9,614.4 1375.6,614.4 1375.6,584.3 1376.2,584.3 1376.2,614.4 1377,614.4 1377,584.3 1377.6,584.3 1377.6,605.7 1379.6,605.7 1379.6,584.3 1380.7,584.3 1380.7,582.4 1382.1,582.4 1382.1,565.4 1383.6,565.4 1383.6,582.4 1385.1,582.4 1385.1,564.4 1386,564.4 1386,569.3 1386.5,569.3 1386.5,628.3 1387.3,628.3 1387.3,569.3 1387.7,569.3 1387.7,628.3 1388.3,628.3 1388.3,565.4 1390.3,565.4 1390.3,574.6 1391.4,574.6 1391.4,567.5 1392.8,567.5 1392.8,571.4 1394.2,571.4 1394.2,586.7 1395.5,586.7 1395.5,567.5 1396.5,567.5 1396.5,574.6 1397.6,574.6 1397.6,568.3 1398.7,568.3 1398.7,571.2 1400,571.2 1400,560.3 1404.5,560.3 1404.5,583.3 1406.7,583.3 1406.7,566.4 1412.7,566.4 1412.7,578.5 1413.5,578.5 1413.5,586.3 1414.3,586.3 1414.3,628.3 1415.3,628.3 1415.3,570.4 1416.2,570.4 1416.2,567.5 1418.5,567.5 1418.5,568.5 1420.5,568.5 1420.5,598.4 1421.3,598.4 1421.3,628.3 1421.7,628.3 1421.7,566.4 1424.6,566.4 1424.6,580.4 1427.6,580.4 1427.6,562.5 1428.7,562.5 1428.7,567.5 1430.3,567.5 1430.3,579.5 1431.4,579.5 1431.4,569.5 1434.9,569.5 1434.9,577.5 1435.2,577.5 1435.2,628.3 1435.8,628.3 1435.8,577.5 1436.4,577.5 1436.4,628.3 1437,628.3 1437,577.5 1437.6,577.5 1437.6,628.3 1438.2,628.3 1438.2,601.3 1438.7,601.3 1438.7,604.7 1439.1,604.7 1439.1,576.6 1439.5,576.6 1439.5,588.7 1440.1,588.7 1440.1,574.1 1440.7,574.1 1440.7,604.2 1441.4,604.2 1441.4,567.5 1442,567.5 1442,588.7 1442.6,588.7 1442.6,567.5 1443,567.5 1443,607.1 1443.6,607.1 1443.6,586.7 1443.8,586.7 1443.8,607.1 1444.2,607.1 1444.2,628.3 1444.6,628.3 1444.6,607.1 1445,607.1 1445,628.3 1445.3,628.3 1445.3,607.1 1445.7,607.1 1445.7,628.3 1446.1,628.3 1446.1,595.5 1446.5,595.5 1446.5,566.4 1446.9,566.4 1446.9,597.9 1447.7,597.9 1447.7,575.6 1448.3,575.6 1448.3,597.9 1448.8,597.9 1448.8,579 1449.4,579 1449.4,596.5 1449.8,596.5 1449.8,572.4 1452.5,572.4 1452.5,628.3 1454.7,628.3 1454.7,578.5 1455.5,578.5 1455.5,572.4 1456.3,572.4 1456.3,607.6 1457.2,607.6 1457.2,572.4 1458.3,572.4 1458.3,574.6 1459.1,574.6 1459.1,586.7 1459.8,586.7 1459.8,579 1460.5,579 1460.5,572.2 1461.1,572.2 1461.1,583.8 1461.7,583.8 1461.7,579 1462.4,579 1462.4,599.9 1463.2,599.9 1463.2,573.6 1463.7,573.6 1463.7,590.6 1464.2,590.6 1464.2,573.6 1464.7,573.6 1464.7,590.6 1465.1,590.6 1465.1,570.4 1465.7,570.4 1465.7,565.4 1466.5,565.4 1466.5,571.2 1468.5,571.2 1468.5,565.4 1472.4,565.4 1472.4,572.7 1472.7,572.7 1472.7,628.3 1473.1,628.3 1473.1,595.5 1473.9,595.5 1473.9,571.2 1474.4,571.2 1474.4,580.4 1475,580.4 1475,571.2 1475.8,571.2 1475.8,580.4 1476.6,580.4 1476.6,569.3 1478.5,569.3 1478.5,573.2 1479.2,573.2 1479.2,614.9 1479.7,614.9 1479.7,573.2 1480.3,573.2 1480.3,567.5 1481.1,567.5 1481.1,574.1 1481.7,574.1 1481.7,592.6 1482.2,592.6 1482.2,571.2 1482.8,571.2 1482.8,599.9 1483.4,599.9 1483.4,570.7 1484.1,570.7 1484.1,583.8 1484.8,583.8 1484.8,573.2 1485.3,573.2 1485.3,566.4 1486,566.4 1486,569.3 1486.6,569.3 1486.6,566.4 1487.4,566.4 1487.4,564.4 1488,564.4 1488,569.3 1488.8,569.3 1488.8,567.5 1489.6,567.5 1489.6,609.6 1490.4,609.6 1490.4,567.5 1490.9,567.5 1490.9,606.7 1491.4,606.7 1491.4,587.7 1492.2,587.7 1492.2,617.8 1492.8,617.8 1492.8,577 1493.5,577 1493.5,595.5 1494.3,595.5 1494.3,578.5 1495,578.5 1495,595.5 1495.7,595.5 1495.7,580 1496.2,580 1496.2,628.3 1496.8,628.3 1496.8,580 1497.4,580 1497.4,603.3 1498,603.3 1498,575.6 1498.6,575.6 1498.6,577.5 1499.2,577.5 1499.2,628.3 1500.5,628.3 1500.5,570.4 1501.8,570.4 1501.8,596.5 1502.8,596.5 1502.8,586.7 1503.8,586.7 1503.8,568.3 1505.9,568.3 1505.9,569.3 1506.4,569.3 1506.4,583.8 1507.1,583.8 1507.1,569.3 1507.7,569.3 1507.7,628.3 1508.1,628.3 1508.1,586.7 1508.6,586.7 1508.6,567.5 1509.4,567.5 1509.4,628.3 1511.6,628.3 1511.6,589.7 1513.5,589.7 1513.5,578.5 1515.6,578.5 1515.6,580 1516.4,580 1516.4,563.4 1517.1,563.4 1517.1,628.3 1518,628.3 1518,569.3 1518.9,569.3 1518.9,567.5 1519.9,567.5 1519.9,560.3 1520.5,560.3 1520.5,628.3 1521,628.3 1521,603.3 1521.7,603.3 1521.7,560.3 1522.4,560.3 1522.4,578.5 1523.4,578.5 1523.4,601.8 1524.4,601.8 1524.4,561.3 1525.3,561.3 1525.3,557.1 1526.2,557.1 1526.2,564.4 1527.3,564.4 1527.3,566.4 1528.5,566.4 1528.5,567.5 1529.2,567.5 1529.2,583.8 1529.8,583.8 1529.8,567.5 1530.4,567.5 1530.4,628.3 1531,628.3 1531,579 1531.6,579 1531.6,628.3 1531.9,628.3 1531.9,560.3 1532.7,560.3 1532.7,579 1533.3,579 1533.3,628.3 1533.7,628.3 1533.7,560.3 1534.3,560.3 1534.3,610 1534.9,610 1534.9,567.5 1535.4,567.5 1535.4,628.3 1535.8,628.3 1535.8,563.4 1536.6,563.4 1536.6,561.3 1537.5,561.3 1537.5,567.5 1538.4,567.5 1538.4,609.1 1539.1,609.1 1539.1,623.6 1540,623.6 1540,562.5 1541.2,562.5 1541.2,563.4 1542.2,563.4 1542.2,567.5 1543,567.5 1543,570.2 1543.8,570.2 1543.8,565.4 1544.6,565.4 1544.6,574.1 1545.3,574.1 1545.3,564.4 1545.9,564.4 1545.9,586.7 1546.5,586.7 1546.5,563.4 1547.1,563.4 1547.1,595.5 1547.7,595.5 1547.7,598.4 1548.3,598.4 1548.3,564.4 1548.8,564.4 1548.8,583.8 1549.4,583.8 1549.4,567.5 1550.5,567.5 1550.5,563.4 1551.6,563.4 1551.6,565.4 1552.8,565.4 1552.8,561.5 1553.9,561.5 1553.9,567.5 1554.5,567.5 1554.5,604.7 1555,604.7 1555,570.2 1555.6,570.2 1555.6,595.5 1556.2,595.5 1556.2,565.4 1556.6,565.4 1556.6,628.3 1557.3,628.3 1557.3,567.5 1558.2,567.5 1558.2,562.5 1559.5,562.5 1559.5,566.4 1560.8,566.4 1560.8,558.1 1561.5,558.1 1561.5,628.3 1562.1,628.3 1562.1,563.4 1562.9,563.4 1562.9,564.4 1563.7,564.4 1563.7,628.3 1564.3,628.3 1564.3,563.4 1565.1,563.4 1565.1,561.5 1565.9,561.5 1565.9,579 1566.6,579 1566.6,592.6 1567.2,592.6 1567.2,568.3 1568,568.3 1568,566.4 1568.5,566.4 1568.5,574.1 1569,574.1 1569,628.3 1569.6,628.3 1569.6,561.5 1570.2,561.5 1570.2,628.3 1570.8,628.3 1570.8,563.4 1571.4,563.4 1571.4,628.3 1571.9,628.3 1571.9,565.4 1572.5,565.4 1572.5,628.3 1573.1,628.3 1573.1,575.6 1573.7,575.6 1573.7,628.3 1574.3,628.3 1574.3,575.6 1574.9,575.6 1574.9,628.3 1575.4,628.3 1575.4,569.3 1576.1,569.3 1576.1,568.3 1577,568.3 1577,628.3 1578,628.3 1578,559.4 1578.3,559.4 1578.3,628.3 1578.7,628.3 1578.7,564.4 1579.5,564.4 1579.5,559.4 1581.9,559.4 1581.9,562.5 1583.1,562.5 1583.1,569.3 1584.5,569.3 1584.5,564.4 1585.6,564.4 1585.6,566.4 1586.8,566.4 1586.8,628.3 1587.7,628.3 1587.7,570.4 1591.4,570.4 1591.4,567.5 1593.8,567.5 1593.8,573.6 1597.2,573.6 1597.2,603.7 1598,603.7 1598,577.5 1599.3,577.5 1599.3,589.5 1600.8,589.5 1600.8,576.6 1604.5,576.6 1604.5,570.4 1610.9,570.4 1610.9,618.8 1611.7,618.8 1611.7,628.3 1612.6,628.3 1612.6,600.8 1614.7,600.8 1614.7,579.5 1620,579.5 1620,602.8 1621.1,602.8 1621.1,589.2 1622.1,589.2 1622.1,592.6 1624.4,592.6 1624.4,581.4 1626.3,581.4 1626.3,571.4 1628.7,571.4 1628.7,588.2 1629.2,588.2 1629.2,620.5 1631.5,620.5 1631.5,582.4 1634.4,582.4 1634.4,624.6 1636.6,624.6 1636.6,601.3 1637.4,601.3 1637.4,598.4 1638.3,598.4 1638.3,628.3 1638.6,628.3 1638.6,606.7 1639.2,606.7 1639.2,570.4 1647.4,570.4 1647.4,568.5 1647.8,568.5 1647.8,628.3 1648.2,628.3 1648.2,568.5 1648.5,568.5 1648.5,628.3 1651.3,628.3 1651.3,566.4 1653.4,566.4 1653.4,564.4 1654.2,564.4 1654.2,571.4 1655.1,571.4 1655.1,565.4 1655.7,565.4 1655.7,571.4 1656.4,571.4 1656.4,628.3 1659.4,628.3 1659.4,608.6 1660.3,608.6 1660.3,596.5 1661.2,596.5 1661.2,585.3 1661.7,585.3 1661.7,628.3 1662.3,628.3 1662.3,612 1662.9,612 1662.9,628.3 1663.5,628.3 1663.5,623.2 1664.1,623.2 1664.1,628.3 1664.5,628.3 1664.5,580.4 1665.1,580.4 1665.1,573.6 1665.6,573.6 1665.6,582.4 1666.2,582.4 1666.2,573.6 1666.8,573.6 1666.8,582.4 1667.4,582.4 1667.4,568.3 1668,568.3 1668,580.4 1669.1,580.4 1669.1,574.1 1670.2,574.1 1670.2,591.4 1673.4,591.4 1673.4,581.4 1675.3,581.4 1675.3,576.6 1680.7,576.6 1680.7,585.3 1692.3,585.3 1692.3,567.5 1695.5,567.5 1695.5,563.4 1700.6,563.4 1700.6,569.3 1702.8,569.3 1702.8,565.4 1703.6,565.4 1703.6,563.4 1704.6,563.4 1704.6,567.5 1705.4,567.5 1705.4,560.3 1707.6,560.3 1707.6,564.4 1710.3,564.4 1710.3,596.5 1711.1,596.5 1711.1,628.3 1711.7,628.3 1711.7,565.4 1714.7,565.4 1714.7,605.2 1715,605.2 1715,628.3 1715.5,628.3 1715.5,606.7 1716.1,606.7 1716.1,628.3 1716.5,628.3 1716.5,607.1 1717.2,607.1 1717.2,628.3 1718,628.3 1718,586.3 1718.6,586.3 1718.6,628.3 1719,628.3 1719,586.3 1719.4,586.3 1719.4,628.3 1719.8,628.3 1719.8,586.3 1720.2,586.3 1720.2,628.3 1720.6,628.3 1720.6,580.4 1721.5,580.4 1721.5,573.2 1722.3,573.2 1722.3,609.6 1723.1,609.6 1723.1,617.3 1723.7,617.3 1723.7,609.6 1724.3,609.6 1724.3,617.3 1724.7,617.3 1724.7,601.3 1725.2,601.3 1725.2,628.3 1725.8,628.3 1725.8,601.3 1726.2,601.3 1726.2,628.3 1726.9,628.3 1726.9,587.2 1728,587.2 1728,628.3 1729,628.3 1729,575.6 1730.2,575.6 1730.2,628.3 1730.9,628.3 1730.9,622.7 1731.7,622.7 1731.7,596 1732.4,596 1732.4,576.6 1734.4,576.6 1734.4,628.3 1734.8,628.3 1734.8,576.6 1735.1,576.6 1735.1,628.3 1735.5,628.3 1735.5,565.4 1735.9,565.4 1735.9,628.3 1736.3,628.3 1736.3,565.4 1737,565.4 1737,628.3 1738,628.3 1738,562.5 1740.4,562.5 1740.4,561.3 1744.7,561.3 1744.7,587.7 1745.8,587.7 1745.8,596 1747.1,596 1747.1,601.8 1748.2,601.8 1748.2,628.3 1748.6,628.3 1748.6,591.4 1750.6,591.4 1750.6,581.4 1752.5,581.4 1752.5,580.4 1754.5,580.4 1754.5,628.3 1756.4,628.3 1756.4,564.4 1757.4,564.4 1757.4,579.5 1758.4,579.5 1758.4,590.4 1759.6,590.4 1759.6,564.4 1760.8,564.4 1760.8,563.4 1762,563.4 1762,628.3 1762.7,628.3 1762.7,574.6 1763.3,574.6 1763.3,561.3 1765.6,561.3 1765.6,560.3 1766.2,560.3 1766.2,564.4 1766.8,564.4 1766.8,560.3 1767.6,560.3 1767.6,564.4 1768.2,564.4 1768.2,572.2 1768.8,572.2 1768.8,562.5 1770,562.5 1770,628.3 1771,628.3 1771,565.4 1771.7,565.4 1771.7,560.3 1772.2,560.3 1772.2,573.6 1772.8,573.6 1772.8,562.5 1775.3,562.5 1775.3,564.4 1775.8,564.4 1775.8,589.5 1776.5,589.5 1776.5,564.4 1776.9,564.4 1776.9,589.5 1777.5,589.5 1777.5,601.3 1781.4,601.3 1781.4,571.4 1783.6,571.4 1783.6,558.4 1787.5,558.4 1787.5,561.3 1793.6,561.3 1793.6,628.3 1803.3,628.3 1803.3,574.3 1805.6,574.3 1805.6,628.3 1822.4,628.3 1822.4,610.2 1822.9,610.2 1822.9,628.3 1823.4,628.3 1823.4,610.2 1823.9,610.2 1823.9,628.3 1824.4,628.3 1824.4,610.2 1824.7,610.2 1824.7,561.3 1828.5,561.3 1828.5,628.3 1844.3,628.3 1844.3,624.4 1845,624.4 1845,628.3 1845.6,628.3 1845.6,624.4 1846.2,624.4 1846.2,628.3 1846.7,628.3 1846.7,561.3 1854.6,561.3 1854.6,564.4 1855.4,564.4 1855.4,563.4 1857.4,563.4 1857.4,561.3 1859.6,561.3 1859.6,602.3 1861.6,602.3 1861.6,568.3 1862.2,568.3 1862.2,608.6 1864.7,608.6 1864.7,563.4 1866.6,563.4 1866.6,562.5 1868.5,562.5 1868.5,567.5 1870,567.5 1892.5,567.5 1892.5,628.3 1893.3,628.3 1893.3,566.4 1895.4,566.4 1895.4,628.3 1896.3,628.3 1896.3,567.5 1897.1,567.5 1897.1,559.4 1900.7,559.4 1900.7,566.4 1901.5,566.4 1901.5,628.3 1903.5,628.3 1903.5,573.2 1904.2,573.2 1904.2,569.3 1905,569.3 1905,628.3 1905.8,628.3 1905.8,571.2 1906.7,571.2 1906.7,628.3 1908.7,628.3 1908.7,573.2 1909.8,573.2 1909.8,628.3 1911,628.3 1911,627.5 1913.5,627.5 1913.5,616.4 1916.4,616.4 1916.4,586.3 1916.8,586.3 1916.8,628.3 1917.2,628.3 1917.2,586.3 1917.6,586.3 1917.6,628.3 1918,628.3 1918,584.3 1918.3,584.3 1918.3,628.3 1918.7,628.3 1918.7,584.3 1919.1,584.3 1919.1,567.5 1919.7,567.5 1919.7,628.3 1920.3,628.3 1920.3,562.5 1933.7,562.5 1933.7,571.2 1934.5,571.2 1934.5,602.8 1936.5,602.8 1936.5,607.1 1938.4,607.1 1938.4,628.3 1939.1,628.3 1939.1,576.6 1939.5,576.6 1939.5,608.6 1940.1,608.6 1940.1,578 1940.7,578 1940.7,608.6 1941.4,608.6 1941.4,567.5 1943.7,567.5 1943.7,616.8 1944.5,616.8 1944.5,580.4 1946.7,580.4 1946.7,568.3 1947.3,568.3 1947.3,628.3 1947.7,628.3 1947.7,568.3 1948.1,568.3 1948.1,628.3 1948.4,628.3 1948.4,569.3 1948.8,569.3 1948.8,628.3 1949.2,628.3 1949.2,569.3 1949.6,569.3 1949.6,628.3 1950,628.3 1950,595.5 1950.4,595.5 1950.4,628.3 1951.1,628.3 1951.1,595.5 1951.7,595.5 1951.7,578.5 1952.5,578.5 1952.5,628.3 1953.6,628.3 1953.6,562.5 1954.9,562.5 1954.9,563.4 1956,563.4 1956,560.3 1958.3,560.3 1958.3,564.4 1958.8,564.4 1958.8,561.3 1964.4,561.3 1964.4,563.4 1964.8,563.4 1964.8,619.8 1965.1,619.8 1965.1,563.4 1965.5,563.4 1965.5,619.8 1965.9,619.8 1965.9,563.4 1966.3,563.4 1966.3,628.3 1966.7,628.3 1966.7,563.4 1967.1,563.4 1967.1,628.3 1967.5,628.3 1967.5,562.5 1967.9,562.5 1967.9,628.3 1968.3,628.3 1968.3,563.4 1968.6,563.4 1968.6,628.3 1969,628.3 1969,564.4 1969.4,564.4 1969.4,628.3 1969.8,628.3 1969.8,565.4 1970.2,565.4 1970.2,558.1 1973,558.1 1973,570.7 1973.8,570.7 1973.8,573.2 1974.4,573.2 1974.4,628.3 1975,628.3 1975,563.4 1975.6,563.4 1975.6,628.3 1976,628.3 1976,568.3 1976.8,568.3 1976.8,564.4 1977.2,564.4 1977.2,628.3 1977.6,628.3 1977.6,566.4 1978,566.4 1978,628.3 1978.3,628.3 1978.3,565.4 1978.7,565.4 1978.7,628.3 1979.1,628.3 1979.1,564.4 1979.5,564.4 1979.5,628.3 1979.9,628.3 1979.9,563.9 1980.3,563.9 1980.3,628.3 1980.7,628.3 1980.7,563.4 1981.1,563.4 1981.1,628.3 1981.5,628.3 1981.5,563.9 1981.8,563.9 1981.8,628.3 1982.2,628.3 1982.2,563.4 1982.6,563.4 1982.6,628.3 1983,628.3 1983,563.9 1983.4,563.9 1983.4,628.3 1983.8,628.3 1983.8,563.4 1984.2,563.4 1984.2,628.3 1984.6,628.3 1984.6,564.4 1985,564.4 1985,628.3 1985.3,628.3 1985.3,565.4 1985.7,565.4 1985.7,628.3 1986.1,628.3 1986.1,565.9 1986.5,565.9 1986.5,628.3 1986.9,628.3 1986.9,566.4 1987.3,566.4 1987.3,616.8 1987.7,616.8 1987.7,566.4 1988.1,566.4 1988.1,606.2 1988.4,606.2 1988.4,575.6 1989.4,575.6 1989.4,596.5 1990.2,596.5 1990.2,628.3 1991.2,628.3 1991.2,564.4 1991.7,564.4 1991.7,628.3 1992.3,628.3 1992.3,564.4 1992.9,564.4 1992.9,582.4 1995.2,582.4 1995.2,608.6 1996,608.6 1996,564.4 1996.8,564.4 1996.8,608.6 1997.4,608.6 1997.4,628.3 1998,628.3 1998,569.3 1998.5,569.3 1998.5,580.9 1999.1,580.9 1999.1,560.3 2001.6,560.3 2001.6,572.2 2002.5,572.2 2002.5,578.5 2003.5,578.5 2003.5,571.2 2004.5,571.2 2004.5,567.5 2005.4,567.5 2005.4,599.9 2006.6,599.9 2006.6,573.2 2007.4,573.2 2007.4,583.3 2009.6,583.3 2009.6,628.3 2012.2,628.3 2012.2,601.3 2012.7,601.3 2012.7,628.3 2013.1,628.3 2013.1,601.3 2013.5,601.3 2013.5,628.3 2013.9,628.3 2013.9,601.3 2014.3,601.3 2014.3,565.4 2014.7,565.4 2014.7,628.3 2015,628.3 2015,565.4 2015.4,565.4 2015.4,628.3 2015.8,628.3 2015.8,565.4 2016.2,565.4 2016.2,628.3 2016.6,628.3 2016.6,565.4 2019.3,565.4 2019.3,628.3 2020,628.3 2020,572.7 2020.5,572.7 2020.5,628.3 2021,628.3 2021,572.7 2021.9,572.7 2021.9,588.2 2023.1,588.2 2023.1,562.5 2024.2,562.5 2024.2,614.9 2025,614.9 2025,607.6 2025.5,607.6 2025.5,560.3 2030.8,560.3 2030.8,582.4 2031.6,582.4 2031.6,561.3 2044.6,561.3 2044.6,564.4 2051.6,564.4 2051.6,599.4 2055.6,599.4 2055.6,628.3 2056.4,628.3 2056.4,580.4 2064.2,580.4 2064.2,616.8 2064.6,616.8 2064.6,580.4 2065.1,580.4 2065.1,623.6 2065.5,623.6 2065.5,576.6 2066.1,576.6 2066.1,611.5 2066.7,611.5 2066.7,579 2067.3,579 2067.3,563.4 2067.7,563.4 2067.7,595.5 2068.3,595.5 2068.3,579 2068.8,579 2068.8,628.3 2069.4,628.3 2069.4,565.4 2070,565.4 2070,628.3 2070.6,628.3 2070.6,595.5 2071.2,595.5 2071.2,628.3 2071.7,628.3 2071.7,564.4 2072.3,564.4 2072.3,628.3 2073,628.3 2073,561.3 2074.3,561.3 2074.3,591.6 2075.7,591.6 2075.7,562.5 2077,562.5 2077,628.3 2080.2,628.3 2080.2,582.4 2080.7,582.4 2080.7,628.3 2081.5,628.3 2081.5,596.5 2082.1,596.5 2082.1,628.3 2091.6,628.3 2091.6,607.1 2092.4,607.1 2092.4,564.4 2092.9,564.4 2092.9,585.3 2093.3,585.3 2093.3,564.4 2093.7,564.4 2093.7,585.3 2094.1,585.3 2094.1,624.6 2094.5,624.6 2094.5,563.4 2094.9,563.4 2094.9,585.3 2095.2,585.3 2095.2,563.4 2095.8,563.4 2095.8,577.5 2096.7,577.5 2096.7,563.4 2098.7,563.4 2098.7,576.6 2099.5,576.6 2099.5,591.6 2100.3,591.6 2100.3,604.7 2100.9,604.7 2100.9,567.5 2101.6,567.5 2101.6,602.8 2102.2,602.8 2102.2,563.4 2103,563.4 2103,559.4 2109.9,559.4 2109.9,619.3 2110.8,619.3 2110.8,628.3 2111.7,628.3 2111.7,562.5 2114.7,562.5 2114.7,578.5 2115.5,578.5 2115.5,562.5 2118.5,562.5 2118.5,559.4 2120,559.4 2120,617.3 2120.8,617.3 2120.8,572.7 2123.4,572.7 2123.4,562.5 2125.4,562.5 2125.4,567.5 2126.5,567.5 2126.5,563.4 2127.5,563.4 2127.5,561.3 2130.8,561.3 2130.8,578.5 2131.9,578.5 2131.9,614.9 2132.6,614.9 2132.6,624.6 2133,624.6 2133,565.9 2133.5,565.9 2133.5,628.3 2134,628.3 2134,564.3 2134.5,564.3 2134.5,628.3 2134.9,628.3 2134.9,566.2 2135.4,566.2 2135.4,628.3 2136,628.3 2136,564.8 2136.3,564.8 2136.3,572 2137.2,572 2137.2,583.8 2138,583.8 2138,628.3 2138.4,628.3 2138.4,563.1 2138.8,563.1 2138.8,627.9 2139.6,627.9 2139.6,561.6 2140.8,561.6 2140.8,623.3 2141.4,623.3 2141.4,562.2 2141.8,562.2 2141.8,626.1 2142.1,626.1 2142.1,561.9 2142.6,561.9 2142.6,624.9 2143.1,624.9 2143.1,566 2143.3,566 2143.3,628.3 2143.9,628.3 2143.9,564.1 2144.4,564.1 2144.4,627.8 2144.7,627.8 2144.7,564.2 2145,564.2 2145,628.3 2145.5,628.3 2145.5,565.1 2145.8,565.1 2145.8,628.3 2146.1,628.3 2146.1,563.3 2146.5,563.3 2146.5,623.4 2147,623.4 2147,564.2 2147.4,564.2 2147.4,625.3 2147.8,625.3 2147.8,560.9 2148.1,560.9 2148.1,626.8 2148.7,626.8 2148.7,564.2 2149,564.2 2149,624.1 2149.1,624.1 2149.1,563 2149.2,563 2149.2,576.1 2150,576.1 2150,628.3 2150.9,628.3 2150.9,563.4 2152,563.4 2152,562.5 2153.2,562.5 2153.2,628.3 2154,628.3 2154,562.5 2157.4,562.5 2157.4,560.3 2163.7,560.3 2163.7,572.2 2165.9,572.2 2165.9,628.3 2167.3,628.3 2167.3,609.1 2168.6,609.1 2168.6,628.3 2170,628.3 2170,567.5 2173.9,567.5 2173.9,591.4 2175.1,591.4 2175.1,576.3 2177.5,576.3 2177.5,628.3 2179.4,628.3 2179.4,564.4 2181.7,564.4 2181.7,628.3 2185.2,628.3 2185.2,561.5 2185.8,561.5 2185.8,564.4 2190.7,564.4 2190.7,574.1 2191.6,574.1 2191.6,578.5 2192.7,578.5 2192.7,628.3 2194.3,628.3 2194.3,568.3 2195.7,568.3 2195.7,564.4 2197.1,564.4 2197.1,576.6 2198.2,576.6 2198.2,562.5 2200.6,562.5 2200.6,616.7 2203.5,616.7 2203.5,561.3 2204.6,561.3 2204.6,564.4 2205.6,564.4 2205.6,617.8 2206.5,617.8 2206.5,618.8 2207.3,618.8 2207.3,628.3 2207.9,628.3 2207.9,562.5 2211.1,562.5 2211.1,563.4 2212,563.4 2212,561.5 2215.7,561.5 2215.7,581.4 2216.5,581.4 2216.5,562.5 2218.5,562.5 2218.5,565.4 2219,565.4 2219,583.8 2219.4,583.8 2219.4,564.4 2219.8,564.4 2219.8,583.8 2220.2,583.8 2220.2,564.4 2220.6,564.4 2220.6,583.8 2221,583.8 2221,564.4 2221.4,564.4 2221.4,583.8 2221.7,583.8 2221.7,564.4 2222,564.4 2222,604.2 2222.8,604.2 2222.8,625.2 2223.5,625.2 2223.5,567.2 2224.1,567.2 2224.1,623.8 2224.4,623.8 2224.4,566.2 2225.1,566.2 2225.1,624.4 2225.6,624.4 2225.6,565.5 2226.1,565.5 2226.1,627.8 2226.3,627.8 2226.3,565.4 2226.6,565.4 2226.6,574.1 2227.8,574.1 2227.8,580.4 2228.9,580.4 2228.9,562.5 2229.8,562.5 2229.8,628.3 2230.7,628.3 2230.7,581.4 2231.6,581.4 2231.6,628.3 2233.6,628.3 2233.6,598.4 2234.1,598.4 2234.1,560.4 2234.7,560.4 2234.7,594.5 2235.1,594.5 2235.1,562.1 2235.6,562.1 2235.6,598.4 2236,598.4 2236,560.5 2236,564.4 2238.2,564.4 2238.2,588.7 2239,588.7 2239,626.4 2239.5,626.4 2239.5,564 2239.9,564 2239.9,628.3 2240.2,628.3 2240.2,562.7 2240.7,562.7 2240.7,623.3 2241.2,623.3 2241.2,564.8 2241.5,564.8 2241.5,623.9 2241.8,623.9 2241.8,564.9 2243.9,564.9 2243.9,582.4 2244.7,582.4 2244.7,628.3 2245.2,628.3 2245.2,562.9 2245.4,562.9 2245.4,623.6 2245.8,623.6 2245.8,564.3 2246.3,564.3 2246.3,626.9 2246.9,626.9 2246.9,564.6 2247.8,564.6 2247.8,628.3 2248.4,628.3 2248.4,564.5 2248.8,564.5 2248.8,625.5 2249.1,625.5 2249.1,562.9 2249.4,562.9 2249.4,628.3 2249.9,628.3 2249.9,563.7 2250.4,563.7 2250.4,628.3 2250.8,628.3 2250.8,564.2 2251.3,564.2 2251.3,626 2251.5,626 2251.5,564.8 2251.8,564.8 2251.8,628.3 2252,628.3 2252,564.4 2252,560.3 2252.5,560.3 2252.5,623.2 2252.9,623.2 2252.9,564.9 2253.2,564.9 2253.2,628.2 2253.5,628.2 2253.5,561.3 2253.8,561.3 2253.8,628.3 2254.3,628.3 2254.3,562.4 2254.7,562.4 2254.7,623.7 2255.2,623.7 2255.2,563.2 2255.5,563.2 2255.5,625.3 2255.9,625.3 2255.9,563.4 2256,563.4 2256,577 2256.8,577 2256.8,628.3 2257.5,628.3 2257.5,581.9 2258.3,581.9 2258.3,628.3 2258.9,628.3 2258.9,577 2259.8,577 2259.8,628.3 2260.7,628.3 2261.1,628.3 2261.1,562.2 2261.6,562.2 2261.6,624.6 2262.1,624.6 2262.1,566.3 2262.5,566.3 2262.5,623.2 2262.9,623.2 2262.9,562.8 2265.2,562.8 2265.2,628.3 2265.7,628.3 2265.7,562.9 2266.1,562.9 2266.1,625.6 2266.4,625.6 2266.4,565.7 2266.8,565.7 2266.8,628.3 2267.2,628.3 2267.2,565.7 2267.6,565.7 2267.6,628 2267.9,628 2267.9,563.7 2268.2,563.7 2268.2,628.3 2268.6,628.3 2268.6,564.6 2268.9,564.6 2268.9,627.1 2269.6,627.1 2269.6,565.6 2270.5,565.6 2270.5,628.3 2271.2,628.3 2271.2,563.2 2271.7,563.2 2271.7,566.4 2272.7,566.4 2272.7,575.6 2274.1,575.6 2274.1,628.3 2275.3,628.3 2275.3,602.3 2278,602.3 2278,628.3 2278.9,628.3 2278.9,627.9 2279.5,627.9 2279.5,569 2279.9,569 2279.9,628.3 2280.3,628.3 2280.3,569.4 2280.7,569.4 2280.7,626.2 2281.1,626.2 2281.1,569.2 2281.4,569.2 2281.4,626.3 2281.7,626.3 2281.7,569.9 2282.2,569.9 2282.2,623.9 2282.5,623.9 2282.5,568.1 2282.8,568.1 2282.8,624.1 2283.1,624.1 2283.1,571.2 2283.5,571.2 2283.5,628.3 2284,628.3 2284,571.1 2284.2,571.1 2284.2,588.2 2285,588.2 2285,628.3 2285.5,628.3 2285.5,562.5 2286.3,562.5 2286.3,628.3 2287.2,628.3 2287.2,566.4 2289.4,566.4 2289.4,628.3 2290.2,628.3 2290.2,567.5 2291.4,567.5 2291.4,608.6 2292.5,608.6 2292.5,627.6 2293.3,627.6 2293.3,566.3 2293.6,566.3 2293.6,628.3 2294.1,628.3 2294.1,564.1 2294.4,564.1 2294.4,624.5 2294.8,624.5 2294.8,564.2 2295.1,564.2 2295.1,627.5 2295.4,627.5 2295.4,564.2 2295.8,564.2 2295.8,626.7 2296.3,626.7 2296.3,565.9 2296.6,565.9 2296.6,627.6 2297.1,627.6 2297.1,568 2297.5,568 2297.5,625.7 2297.7,625.7 2297.7,565.9 2297.7,628.3 2298.6,628.3 2298.6,600.3 2299.4,600.3 2299.4,602.3 2300.2,602.3 2300.2,628.3 2301,628.3 2301,627.8 2301.6,627.8 2301.6,564.5 2302,564.5 2302,622.9 2302.5,622.9 2302.5,566.2 2302.8,566.2 2302.8,623 2303.3,623 2303.3,565.9 2303.6,565.9 2303.6,628.2 2304.1,628.2 2304.1,565.1 2304.5,565.1 2304.5,569.3 2305,569.3 2305,628.3 2305.4,628.3 2305.4,624.7 2305.9,624.7 2305.9,564.8 2306.2,564.8 2306.2,628.3 2306.6,628.3 2306.6,565.5 2308.9,565.5 2308.9,573.2 2309.7,573.2 2309.7,578.5 2310.3,578.5 2310.3,628.3 2312.2,628.3 2312.2,569.3 2312.8,569.3 2312.8,628.3 2313.6,628.3 2313.6,581.4 2314.5,581.4 2314.5,626.1 2315.4,626.1 2315.4,628.3 2323.4,628.3 2323.4,563.4 2325.7,563.4 2325.7,567.5 2326.6,567.5 2326.6,580.4 2327.5,580.4 2327.5,628.3 2332.1,628.3 2332.1,566.4 2332.6,566.4 2332.6,627 2332.9,627 2332.9,565.7 2333.3,565.7 2333.3,624.7 2333.6,624.7 2333.6,565.7 2333.9,565.7 2333.9,627.3 2334.3,627.3 2334.3,562.1 2334.8,562.1 2334.8,628.3 2335,628.3 2335,562.7 2335.1,562.7 2335.1,583.8 2336,583.8 2336,628.3 2336.9,628.3 2336.9,625 2337.3,625 2337.3,562.7 2337.7,562.7 2337.7,623 2338.2,623 2338.2,565.3 2338.5,565.3 2338.5,628.3 2338.8,628.3 2338.8,565.7 2339.3,565.7 2339.3,622.8 2339.6,622.8 2339.6,566.6 2339.9,566.6 2339.9,626.7 2340.3,626.7 2340.3,562.1 2340.6,562.1 2340.6,625 2340.9,625 2340.9,562.4 2341.2,562.4 2341.2,628.3 2341.5,628.3 2341.5,562.3 2341.9,562.3 2341.9,628.3 2342.2,628.3 2342.2,565.3 2342.7,565.3 2342.7,624 2343,624 2343,565.3 2343.3,565.3 2343.3,570.2 2343.7,570.2 2343.7,563.4 2344.1,563.4 2344.1,570.2 2344.5,570.2 2344.5,563.4 2344.9,563.4 2344.9,570.2 2345.2,570.2 2345.2,563.4 2345.6,563.4 2345.6,570.2 2346,570.2 2346,563.4 2346.4,563.4 2346.4,570.2 2346.7,570.2 2346.7,563.4 2346.8,563.4 2346.8,628.3 2347.6,628.3 2347.6,562.5 2349.8,562.5 2349.8,597.4 2350.6,597.4 2350.6,561.5 2354.7,561.5 2354.7,572.7 2355.6,572.7 2355.6,562.5 2359.8,562.5 2359.8,614.9 2360.5,614.9 2360.5,565.4 2361.3,565.4 2361.3,610.3 2362.2,610.3 2362.2,562.8 2363,562.8 2363,628.3 2364.1,628.3 2364.1,564.4 2366.6,564.4 2366.6,628.3 2367,628.3 2367,566.4 2367.3,566.4 2367.3,628.3 2367.6,628.3 2367.6,566.1 2368,566.1 2368,628.3 2368.3,628.3 2368.3,567.9 2368.8,567.9 2368.8,624.7 2369.1,624.7 2369.1,568.1 2370,568.1 2370,570.2 2370.4,570.2 2370.4,563.4 2370.8,563.4 2370.8,570.2 2371.2,570.2 2371.2,563.4 2371.6,563.4 2371.6,570.2 2371.9,570.2 2371.9,563.4 2372,563.4 2372,562.5 2372.9,562.5 2372.9,566.4 2374.1,566.4 2374.1,582.4 2375.3,582.4 2375.3,564.4 2376.8,564.4 2376.8,568.3 2378.3,568.3 2378.3,609.6 2379.7,609.6 2379.7,565.4 2381.1,565.4 2381.1,573.2 2382.2,573.2 2382.2,628.3 2383.1,628.3 2383.1,596.5 2383.8,596.5 2383.8,566.4 2386,566.4 2386,559.4 2388.4,559.4 2388.4,561.5 2390.4,561.5 2390.4,560.5 2392.3,560.5 2392.3,562.5 2395.4,562.5 2395.4,601.3 2396,601.3 2396,625.9 2396.3,625.9 2396.3,568.3 2396.8,568.3 2396.8,628.3 2397.1,628.3 2397.1,571.5 2397.4,571.5 2397.4,614.4 2397.9,614.4 2397.9,569.7 2398.2,569.7 2398.2,618.7 2398.5,618.7 2398.5,591.7 2398.9,591.7 2398.9,624.7 2399.3,624.7 2399.3,591.4 2399.8,591.4 2399.8,628.3 2400.2,628.3 2400.2,594.6 2400.6,594.6 2400.6,627.2 2401.1,627.2 2401.1,592.6 2401.3,592.6 2401.3,628.3 2402.3,628.3 2402.3,563.4 2403.5,563.4 2403.5,564.4 2404.7,564.4 2404.7,613.9 2405.2,613.9 2405.2,571.3 2405.5,571.3 2405.5,614.2 2406.1,614.2 2406.1,571.3 2407.1,571.3 2407.1,564.4 2409.8,564.4 2409.8,563.4 2410.3,563.4 2410.3,628.3 2411,628.3 2411,563.4 2411.8,563.4 2411.8,561.5 2412.6,561.5 2412.6,597.3 2413.1,597.3 2413.1,567.9 2415.4,567.9 2415.4,609.1 2415.6,609.1 2415.6,568.3 2415.9,568.3 2415.9,567.5 2416.8,567.5 2416.8,616.8 2417.8,616.8 2417.8,594.5 2418.5,594.5 2418.5,565.4 2422.5,565.4 2422.5,561.5 2423.3,561.5 2423.3,573.6 2424.3,573.6 2424.3,562.5 2425.1,562.5 2425.1,610.2 2425.6,610.2 2425.6,563.8 2426,563.8 2426,610.5 2426.7,610.5 2426.7,561.5 2428,561.5 2428,628.3 2428.5,628.3 2428.5,568.9 2431,568.9 2431,611 2431.9,611 2431.9,577.5 2432.9,577.5 2432.9,616.8 2433.6,616.8 2433.6,628.3 2433.9,628.3 2433.9,617.8 2434.2,617.8 2434.2,628.3 2434.5,628.3 2434.5,617.8 2434.8,617.8 2434.8,628.3 2435,628.3 2435,617.8 2435.3,617.8 2435.3,628.3 2435.5,628.3 2435.5,617.8 2435.8,617.8 2435.8,576.6 2436.1,576.6 2436.1,562.5 2436.4,562.5 2436.4,576.6 2436.7,576.6 2436.7,562.5 2437,562.5 2437,576.6 2437.3,576.6 2437.3,562.5 2437.6,562.5 2437.6,576.6 2437.9,576.6 2437.9,562.5 2438.2,562.5 2438.2,573.6 2439.1,573.6 2439.1,606.2 2440.1,606.2 2440.1,608.6 2440.7,608.6 2440.7,560.3 2443.3,560.3 2443.3,581.4 2443.6,581.4 2443.6,560.5 2443.9,560.5 2443.9,581.4 2444.2,581.4 2444.2,560.5 2444.5,560.5 2444.5,581.4 2444.8,581.4 2444.8,560.5 2445,560.5 2445,581.4 2445.3,581.4 2445.3,560.5 2445.6,560.5 2445.6,581.4 2445.9,581.4 2445.9,560.5 2446.2,560.5 2446.2,581.4 2446.5,581.4 2446.5,560.5 2446.8,560.5 2446.8,581.4 2447.1,581.4 2447.1,560.5 2447.2,560.5 2447.2,591.6 2447.7,591.6 2447.7,565.6 2448,565.6 2448,590 2448.5,590 2448.5,565.2 2449.6,565.2 2449.6,562.5 2450.8,562.5 2450.8,560.3 2451.4,560.3 2451.4,620.9 2452,620.9 2452,562.9 2452.9,562.9 2452.9,619.8 2453.9,619.8 2453.9,595 2454.5,595 2454.5,583.8 2454.8,583.8 2454.8,563 2455,563 2455,583.8 2455.3,583.8 2455.3,563 2455.6,563 2455.6,583.8 2455.9,583.8 2455.9,563 2456.2,563 2456.2,583.8 2456.5,583.8 2456.5,563 2456.8,563 2456.8,583.8 2456.9,583.8 2456.9,563 2457.4,563 2457.4,560.3 2459.3,560.3 2459.3,613.8 2459.7,613.8 2459.7,569.2 2459.9,569.2 2459.9,628.3 2460.3,628.3 2460.3,568.5 2463.1,568.5 2463.1,597.4 2464.2,597.4 2464.2,564.4 2465.4,564.4 2465.4,609.6 2466.5,609.6 2466.5,628.3 2467.4,628.3 2467.4,582.4 2468.7,582.4 2468.7,570.2 2469.7,570.2 2469.7,574.6 2470.5,574.6 2470.5,628.3 2470.8,628.3 2470.8,577.8 2471.3,577.8 2471.3,618.4 2471.7,618.4 2471.7,580.1 2472.3,580.1 2472.3,628.3 2472.7,628.3 2472.7,578.4 2473.5,578.4 2473.5,613.9 2474.4,613.9 2474.4,561.5 2474.9,561.5 2474.9,628.3 2475.3,628.3 2475.3,569.6 2475.7,569.6 2475.7,628.3 2476.2,628.3 2476.2,568.2 2476.7,568.2 2476.7,628.3 2476.8,628.3 2476.8,570.2 2476.9,570.2 2476.9,581.9 2477.7,581.9 2477.7,617.3 2478.6,617.3 2478.6,581.9 2479.4,581.9 2479.4,564.4 2481.7,564.4 2481.7,562.5 2482.4,562.5 2482.4,628.3 2483.4,628.3 2483.4,564.4 2484.6,564.4 2484.6,605.7 2486,605.7 2486,560.3 2487,560.3 2487,607.1 2487.6,607.1 2487.6,578.8 2488.8,578.8 2488.8,607.1 2489.6,607.1 2489.6,577.4 2489.6,626.4 2490.1,626.4 2490.1,601.2 2490.4,601.2 2490.4,628.3 2490.9,628.3 2490.9,602.4 2491.3,602.4 2491.3,628.3 2491.6,628.3 2491.6,600.3 2492.3,600.3 2492.3,562.5 2493.2,562.5 2493.2,603.3 2494.3,603.3 2494.3,617.8 2495.2,617.8 2495.2,568.3 2500.1,568.3 2500.1,563.4 2502.5,563.4 2502.5,561.5 2503.2,561.5 2503.2,590.6 2504.1,590.6 2504.1,564.4 2504.9,564.4 2504.9,583.8 2506,583.8 2506,565.4 2507.1,565.4 2507.1,628.3 2508.1,628.3 2508.1,561.5 2508.9,561.5 2508.9,570.2 2509.7,570.2 2509.7,568.3 2510.3,568.3 2510.3,617.6 2510.9,617.6 2510.9,576.1 2513.4,576.1 2513.4,617.3 2513.7,617.3 2513.7,574.1 2514.5,574.1 2514.5,567.5 2515.4,567.5 2515.4,564.4 2518.6,564.4 2518.6,569.3 2519.4,569.3 2519.4,628.3 2519.8,628.3 2519.8,571.8 2520.2,571.8 2520.2,628.3 2520.8,628.3 2520.8,572.5 2521.2,572.5 2521.2,616.1 2521.5,616.1 2521.5,571.2 2522.2,571.2 2522.2,583.8 2523.2,583.8 2523.2,571.2 2524.5,571.2 2524.5,601.8 2525.5,601.8 2525.5,628.3 2526.7,628.3 2526.7,572.2 2527.8,572.2 2527.8,576.1 2529,576.1 2529,613 2530.1,613 2530.1,568.3 2530.7,568.3 2530.7,586.7 2531.2,586.7 2531.2,607.1 2531.6,607.1 2531.6,576.8 2531.9,576.8 2531.9,606.5 2532.6,606.5 2532.6,574.9 2533.9,574.9 2533.9,561 2535,561 2535,606.1 2535.4,606.1 2535.4,577.7 2535.8,577.7 2535.8,607.1 2536.5,607.1 2536.5,577.7 2537.8,577.7 2537.8,628.3 2539,628.3 2539,560.3 2539.9,560.3 2539.9,626.4 2540.4,626.4 2540.4,577.2 2542.3,577.2 2542.3,566.4 2542.8,566.4 2542.8,628.3 2543.5,628.3 2543.5,574.2 2544.7,574.2 2544.7,624.3 2545.5,624.3 2545.5,576.7 2546.5,576.7 2546.5,571.2 2547.5,571.2 2547.5,561.5 2548.8,561.5 2548.8,575.1 2549.8,575.1 2549.8,583.8 2550.8,583.8 2550.8,623.9 2551.2,623.9 2551.2,603 2551.7,603 2551.7,628.3 2552,628.3 2552,599.1 2552.3,599.1 2552.3,628.3 2552.6,628.3 2552.6,599.8 2554.9,599.8 2554.9,628.3 2555.1,628.3 2555.1,602.4 2555.4,602.4 2555.4,595.5 2555.9,595.5 2555.9,628.3 2556.6,628.3 2556.6,603.8 2557.4,603.8 2557.4,564.4 2559.9,564.4 2559.9,595.5 2561,595.5 2561,607.1 2562,607.1 2562,620.7 2562.7,620.7 2562.7,599.9 2564.7,599.9 2564.7,586.3 2565.6,586.3 2565.6,620.7 2566.5,620.7 2566.5,613.9 2567.6,613.9 2567.6,592.6 2568.5,592.6 2568.5,588.2 2571,588.2 2571,628.3 2571.7,628.3 2571.7,590.6 2572.6,590.6 2572.6,592.6 2573.7,592.6 2573.7,628.3 2574.6,628.3 2574.6,595.5 2575.5,595.5 2575.5,628.3 2576.5,628.3 2576.5,607.1 2576.9,607.1 2576.9,582.9 2577.2,582.9 2577.2,607.1 2577.5,607.1 2577.5,582.9 2577.8,582.9 2577.8,607.1 2578.1,607.1 2578.1,582.9 2578.3,582.9 2578.3,607.1 2578.6,607.1 2578.6,582.9 2578.9,582.9 2578.9,607.1 2579.2,607.1 2579.2,582.9 2579.5,582.9 2579.5,607.1 2579.8,607.1 2579.8,582.9 2580.1,582.9 2580.1,607.1 2580.2,607.1 2580.2,582.9 2580.2,585.3 2582.9,585.3 2582.9,580.4 2584,580.4 2584,569.3 2585.3,569.3 2585.3,573.2 2586.3,573.2 2586.3,584.3 2587.3,584.3 2587.3,628.3 2588.2,628.3 2588.2,594.5 2589.2,594.5 2589.2,619.8 2589.8,619.8 2589.8,578.5 2590.7,578.5 2590.7,586.7 2591.8,586.7 2591.8,618.8 2592.2,618.8 2592.2,592.8 2592.5,592.8 2592.5,628.3 2593.1,628.3 2593.1,590.5 2593.9,590.5 2593.9,619.8 2594.3,619.8 2594.3,592.6 2594.3,606.2 2594.8,606.2 2594.8,626.1 2595,626.1 2595,592.8 2595.4,592.8 2595.4,618.6 2595.7,618.6 2595.7,592.6 2595.7,565.4 2596,565.4 2596,583.8 2596.3,583.8 2596.3,570.2 2596.6,570.2 2596.6,583.8 2596.9,583.8 2596.9,570.2 2597.2,570.2 2597.2,583.8 2597.5,583.8 2597.5,570.2 2598.2,570.2 2598.2,597.9 2599.1,597.9 2599.1,570.2 2599.9,570.2 2599.9,583.8 2600.5,583.8 2600.5,572.2 2600.9,572.2 2600.9,583.8 2601.3,583.8 2601.3,572.2 2601.7,572.2 2601.7,583.8 2602,583.8 2602,572.2 2602.4,572.2 2602.4,583.8 2602.8,583.8 2602.8,572.2 2603.2,572.2 2603.2,583.8 2603.6,583.8 2603.6,572.2 2604,572.2 2604,583.8 2604.4,583.8 2604.4,572.2 2604.8,572.2 2604.8,583.8 2605,583.8 2605,572.2 2605.4,572.2 2605.4,603.3 2605.9,603.3 2605.9,616.3 2606.3,616.3 2606.3,564.1 2608.3,564.1 2608.3,559.4 2608.8,559.4 2608.8,628.3 2609.1,628.3 2609.1,563.3 2609.6,563.3 2609.6,628.3 2609.8,628.3 2609.8,564.4 2609.8,628.3 2610.3,628.3 2610.3,565.4 2610.6,565.4 2610.6,628.3 2611.1,628.3 2611.1,564.3 2611.7,564.3 2611.7,628.3 2612.2,628.3 2612.2,565.9 2612.7,565.9 2612.7,628.3 2613.2,628.3 2613.2,588.8 2613.7,588.8 2613.7,565.8 2614,565.8 2614,587.2 2614.3,587.2 2614.3,562.6 2614.8,562.6 2614.8,628.3 2615.2,628.3 2615.2,563.4 2615.5,563.4 2615.5,619.5 2615.8,619.5 2615.8,563 2616.4,563 2616.4,615.1 2616.9,615.1 2616.9,562 2618.9,562 2618.9,622.6 2619.4,622.6 2619.4,564.4 2620,564.4 2620,625.6 2620.4,625.6 2620.4,565.3 2623.1,565.3 2623.1,625.6 2623.6,625.6 2623.6,567.4 2623.9,567.4 2623.9,616.8 2624.2,616.8 2624.2,568.1 2626.1,568.1 2626.1,624.6 2626.5,624.6 2626.5,566.4 2628.6,566.4 2628.6,609.6 2628.9,609.6 2628.9,565 2629.2,565 2629.2,606.4 2629.7,606.4 2629.7,566.4 2629.7,564.4 2630.2,564.4 2630.2,569.3 2630.6,569.3 2630.6,563 2631.1,563 2631.1,569.3 2631.8,569.3 2631.8,565.5 2632.8,565.5 2632.8,559.4 2633.6,559.4 2633.6,621.6 2633.9,621.6 2633.9,564 2634.3,564 2634.3,628.3 2634.7,628.3 2634.7,564.6 2637.1,564.6 2637.1,591.1 2637.6,591.1 2637.6,560.3 2638.6,560.3 2638.6,564.4 2639.6,564.4 2639.6,561.5 2640.4,561.5 2640.4,568.3 2641.1,568.3 2641.1,562.8 2642.1,562.8 2642.1,568.3 2642.8,568.3 2642.8,561.5 2643.6,561.5 2643.6,596.5 2644.5,596.5 2644.5,566.4 2645,566.4 2645,618.3 2645.4,618.3 2645.4,563.8 2645.6,563.8 2645.6,628.3 2646,628.3 2646,561.1 2646.4,561.1 2646.4,628.3 2646.7,628.3 2646.7,562.1 2647,562.1 2647,628.3 2647.6,628.3 2647.6,562.5 2648.8,562.5 2648.8,560.3 2649.6,560.3 2649.6,597.1 2649.9,597.1 2649.9,560.4 2650.2,560.4 2650.2,615.4 2650.4,615.4 2650.4,560.7 2650.7,560.7 2650.7,574.9 2651.2,574.9 2651.2,563.6 2651.4,563.6 2651.4,628.3 2651.8,628.3 2651.8,564.4 2652.2,564.4 2652.2,628.3 2652.5,628.3 2652.5,563.3 2652.9,563.3 2652.9,575.1 2653.3,575.1 2653.3,562.9 2653.7,562.9 2653.7,577.1 2654.1,577.1 2654.1,560.4 2654.5,560.4 2654.5,628.3 2654.7,628.3 2654.7,564.5 2655,564.5 2655,580.8 2655.3,580.8 2655.3,563.8 2655.6,563.8 2655.6,628.3 2656,628.3 2656,563.1 2656.2,563.1 2656.2,576.8 2656.6,576.8 2656.6,560.2 2657.4,560.2 2657.4,576.1 2657.9,576.1 2657.9,628.3 2658.2,628.3 2658.2,566 2658.7,566 2658.7,595.6 2658.9,595.6 2658.9,565.9 2661.4,565.9 2661.4,628.3 2661.7,628.3 2661.7,562.3 2662,562.3 2662,607.9 2662.3,607.9 2662.3,564.2 2664.7,564.2 2664.7,576.1 2665.1,576.1 2665.1,605.2 2665.6,605.2 2665.6,577.2 2666,577.2 2666,605.2 2666.2,605.2 2666.2,575 2666.6,575 2666.6,605.2 2666.6,576.1 2667.4,576.1 2667.4,562.5 2668.3,562.5 2668.3,581.9 2669,581.9 2669,628.3 2669.6,628.3 2669.6,565.1 2670.4,565.1 2670.4,559.4 2671,559.4 2671,628.3 2671.3,628.3 2671.3,561.8 2671.6,561.8 2671.6,628.3 2672,628.3 2672,564.3 2672.4,564.3 2672.4,628.3 2672.4,563.4 2672.4,570.2 2672.9,570.2 2672.9,604.9 2673.4,604.9 2673.4,563.7 2674.4,563.7 2674.4,609.9 2675,609.9 2675,565.5 2675.2,565.5 2675.2,594.7 2675.9,594.7 2675.9,566.5 2676.9,566.5 2676.9,617.4 2677.6,617.4 2677.6,564.5 2678.3,564.5 2678.3,566.4 2678.7,566.4 2678.7,590.6 2679.4,590.6 2679.4,567.3 2680.4,567.3 2680.4,625.7 2681.1,625.7 2681.1,562.1 2681.3,562.1 2681.3,628.3 2681.7,628.3 2681.7,566 2682,566 2682,628.3 2682.3,628.3 2682.3,566.4 2682.6,566.4 2682.6,612.4 2682.8,612.4 2682.8,566.1 2685.7,566.1 2685.7,621.5 2686,621.5 2686,562.8 2686.5,562.8 2686.5,592.7 2686.8,592.7 2686.8,565.9 2687.5,565.9 2687.5,557.1 2688,557.1 2688,619.4 2688.6,619.4 2688.6,568.5 2689.5,568.5 2689.5,586.6 2690.1,586.6 2690.1,567.4 2690.5,567.4 2690.5,582.1 2690.7,582.1 2690.7,568.5 2693,568.5 2693,628.3 2693.2,628.3 2693.2,565.4 2695.5,565.4 2695.5,604.5 2696,604.5 2696,567.8 2696.2,567.8 2696.2,602.6 2696.5,602.6 2696.5,565.9 2696.7,565.9 2696.7,562.5 2697.2,562.5 2697.2,587.7 2697.5,587.7 2697.5,563.1 2697.8,563.1 2697.8,601.3 2698.1,601.3 2698.1,563.3 2698.3,563.3 2698.3,601.3 2698.6,601.3 2698.6,561.8 2699,561.8 2699,595 2699.4,595 2699.4,562.4 2699.9,562.4 2699.9,560.3 2700.8,560.3 2700.8,628.3 2701.4,628.3 2701.4,563 2701.7,563 2701.7,628.3 2701.8,628.3 2701.8,565.6 2702.2,565.6 2702.2,628.3 2702.5,628.3 2702.5,564.7 2702.9,564.7 2702.9,628.3 2703.4,628.3 2703.4,563.1 2704.7,563.1 2704.7,628.3 2705.2,628.3 2705.2,565.4 2707.7,565.4 2707.7,628.3 2707.9,628.3 2707.9,563.4 2707.9,583.8 2709,583.8 2709,586.7 2710.3,586.7 2710.3,592.6 2711.5,592.6 2711.5,628.3 2712.2,628.3 2712.2,563.4 2712.7,563.4 2712.7,577 2713.1,577 2713.1,565.3 2713.3,565.3 2713.3,577 2713.6,577 2713.6,562.9 2713.8,562.9 2713.8,577 2714.2,577 2714.2,563.5 2715.3,563.5 2715.3,565.4 2716.4,565.4 2716.4,569.3 2717.5,569.3 2717.5,628.3 2726.3,628.3 2726.3,569.3 2728.5,569.3 2728.5,567.5 2729.3,567.5 2729.3,578.5 2734.4,578.5 2734.4,564.4 2738.6,564.4 2738.6,605.7 2739.2,605.7 2739.2,628.3 2739.7,628.3 2739.7,606.9 2740.6,606.9 2740.6,579 2741.4,579 2741.4,564.4 2741.8,564.4 2741.8,628.3 2742.2,628.3 2742.2,577.5 2742.6,577.5 2742.6,627.5 2743,627.5 2743,575.7 2743.3,575.7 2743.3,623.9 2743.5,623.9 2743.5,575.3 2743.8,575.3 2743.8,628.3 2744.1,628.3 2744.1,573.6 2746.2,573.6 2746.2,616.7 2746.5,616.7 2746.5,563.3 2746.8,563.3 2746.8,622.4 2747.1,622.4 2747.1,561.9 2747.5,561.9 2747.5,618.1 2747.9,618.1 2747.9,561.1 2748.2,561.1 2748.2,628.1 2748.5,628.1 2748.5,563.8 2748.7,563.8 2748.7,624.9 2749.1,624.9 2749.1,563.3 2749.1,556.5 2749.6,556.5 2749.6,611.6 2749.9,611.6 2749.9,555.9 2750.6,555.9 2750.6,582.4 2753,582.4 2753,561.5 2753.5,561.5 2753.5,583.8 2755.4,583.8 2755.4,562.5 2755.9,562.5 2755.9,627.7 2756.2,627.7 2756.2,562.1 2756.5,562.1 2756.5,625.3 2756.7,625.3 2756.7,564.5 2757,564.5 2757,628.3 2757.4,628.3 2757.4,566.1 2757.4,559.4 2757.9,559.4 2757.9,627.2 2758.1,627.2 2758.1,563.9 2758.3,563.9 2758.3,628.3 2758.5,628.3 2758.5,564.3 2761.2,564.3 2761.2,625.7 2761.7,625.7 2761.7,566.2 2762.5,566.2 2762.5,611 2763.7,611 2763.7,573.2 2764.6,573.2 2764.6,566.4 2765.1,566.4 2765.1,624.9 2765.5,624.9 2765.5,573.4 2765.8,573.4 2765.8,622.7 2766.1,622.7 2766.1,572 2766.5,572 2766.5,613.8 2766.7,613.8 2766.7,570.5 2767,570.5 2767,628.3 2767.6,628.3 2767.6,572.2 2768.7,572.2 2768.7,605.2 2769.5,605.2 2769.5,623 2769.8,623 2769.8,572.6 2770.1,572.6 2770.1,626.4 2770.6,626.4 2770.6,569.7 2770.8,569.7 2770.8,628.3 2771.2,628.3 2771.2,569.5 2771.4,569.5 2771.4,628.3 2771.9,628.3 2771.9,568.3 2772.8,568.3 2772.8,557.1 2773.8,557.1 2773.8,628.3 2774.1,628.3 2774.1,572.1 2774.5,572.1 2774.5,628.3 2774.9,628.3 2774.9,568.5 2775.3,568.5 2775.3,628.3 2775.8,628.3 2775.8,565.1 2776.1,565.1 2776.1,609.9 2776.4,609.9 2776.4,562.8 2776.8,562.8 2776.8,612.1 2777.3,612.1 2777.3,563.3 2778.5,563.3 2778.5,628.3 2779,628.3 2779,565.5 2779.5,565.5 2779.5,583.8 2780.4,583.8 2780.4,573.2 2781.2,573.2 2781.2,628.3 2781.5,628.3 2781.5,564.8 2781.8,564.8 2781.8,628.3 2782.2,628.3 2782.2,565.4 2782.4,565.4 2782.4,620.7 2783,620.7 2783,564.6 2783.8,564.6 2783.8,628.3 2784.5,628.3 2784.5,565.2 2785.3,565.2 2785.3,560.3 2786,560.3 2786,604.5 2786.3,604.5 2786.3,562.7 2786.5,562.7 2786.5,624.6 2787.1,624.6 2787.1,562.5 2788.1,562.5 2788.1,627 2788.7,627 2788.7,564.4 2789,564.4 2789,607 2789.4,607 2789.4,563.4 2790.3,563.4 2790.3,612.7 2790.8,612.7 2790.8,565.3 2793.7,565.3 2793.7,620.3 2793.9,620.3 2793.9,566.4 2794.1,566.4 2794.1,621.1 2794.6,621.1 2794.6,562.9 2796.2,562.9 2796.2,628.3 2797.4,628.3 2797.4,577 2798.4,577 2798.4,560.3 2799.3,560.3 2799.3,557.6 2800.1,557.6 2800.1,609 2800.7,609 2800.7,560.2 2801.9,560.2 2801.9,609 2802.6,609 2802.6,561.3 2802.9,561.3 2802.9,628.3 2803.1,628.3 2803.1,560.8 2803.5,560.8 2803.5,609.2 2803.9,609.2 2803.9,558.4 2804.2,558.4 2804.2,604.8 2804.5,604.8 2804.5,560.5 2804.5,580.3 2804.9,580.3 2804.9,563 2805.2,563 2805.2,574.6 2805.4,574.6 2805.4,562.5 2805.7,562.5 2805.7,607.1 2806.6,607.1 2806.6,628.3 2807.3,628.3 2807.3,562.1 2807.7,562.1 2807.7,596.9 2808,596.9 2808,562.9 2810.6,562.9 2810.6,592.7 2811,592.7 2811,561 2811.3,561 2811.3,575.3 2811.8,575.3 2811.8,564.5 2812.9,564.5 2812.9,628.3 2813.5,628.3 2813.5,565.8 2814,565.8 2814,628.3 2814.4,628.3 2814.4,564.7 2814.6,564.7 2814.6,628.3 2814.9,628.3 2814.9,565.9 2817,565.9 2817,628.3 2817.6,628.3 2817.6,566.8 2818.7,566.8 2818.7,591.6 2821,591.6 2821,563.4 2823.5,563.4 2823.5,562.5 2824.3,562.5 2824.3,597.4 2825.3,597.4 2825.3,581.9 2826.3,581.9 2826.3,560.3 2827.3,560.3 2827.3,563.4 2829.2,563.4 2829.2,622.7 2830.1,622.7 2830.1,564.4 2830.9,564.4 2830.9,598.4 2831.9,598.4 2831.9,561.5 2832.8,561.5 2832.8,602.3 2833.6,602.3 2833.6,562.5 2836.8,562.5 2836.8,595.5 2837.7,595.5 2837.7,603.3 2838.2,603.3 2838.2,564.6 2840.6,564.6 2840.6,602.5 2841,602.5 2841,561.7 2841.3,561.7 2841.3,597.7 2841.5,597.7 2841.5,564.8 2841.9,564.8 2841.9,601.7 2842.2,601.7 2842.2,565.7 2842.5,565.7 2842.5,599.1 2842.8,599.1 2842.8,563.4 2843.1,563.4 2843.1,603.3 2843.3,603.3 2843.3,563.4 2843.4,563.4 2843.4,583.8 2844.2,583.8 2844.2,628.3 2844.9,628.3 2844.9,562.5 2847.2,562.5 2847.2,587.7 2847.8,587.7 2847.8,562.5 2850.1,562.5 2850.1,628.3 2850.7,628.3 2850.7,573.2 2851.6,573.2 2851.6,588.7 2852.2,588.7 2852.2,621.7 2852.8,621.7 2852.8,563.4 2857.4,563.4 2857.4,628.3 2857.9,628.3 2857.9,578.5 2858.7,578.5 2858.7,566.4 2860.3,566.4 2860.3,562.5 2861.2,562.5 2861.2,564.4 2861.9,564.4 2861.9,562.5 2864.5,562.5 2864.5,571.2 2865.5,571.2 2865.5,628.3 2866.5,628.3 2866.5,562.5 2873.6,562.5 2873.6,574.1 2874.1,574.1 2874.1,624.6 2874.8,624.6 2874.8,628.3 2876,628.3 2876,569.3 2877.3,569.3 2877.3,566.4 2878.9,566.4 2878.9,628.3 2880.3,628.3 2880.3,564.4 2938.4,564.4"/>
<polygon fill="#4b0082" fill-opacity="0.5" points="120,825.5 176.1,825.5 176.1,791.3 178.1,791.3 178.1,702.6 178.9,702.6 178.9,766.8 180.8,766.8 180.8,779 182.5,779 182.5,744.4 182.6,744.4 182.6,748.4 183.2,748.4 183.2,825.5 183.3,825.5 183.3,748.4 183.8,748.4 183.8,825.5 183.9,825.5 183.9,748.4 184.3,748.4 184.3,825.5 184.5,825.5 184.5,748.4 185,748.4 185,727.4 185.9,727.4 185.9,825.5 220.3,825.5 220.3,760.3 224.6,760.3 224.6,802.5 227.6,802.5 227.6,742.3 227.9,742.3 227.9,811.6 229.3,811.6 229.3,777.4 234.6,777.4 234.6,825.5 239.5,825.5 239.5,788.4 244.4,788.4 244.4,825.5 250.5,825.5 250.5,820.6 254.6,820.6 254.6,825.5 257.4,825.5 257.4,761.1 257.5,761.1 257.5,809.6 259,809.6 259,825.5 260.3,825.5 260.3,791.3 261.5,791.3 261.5,761.7 263.5,761.7 263.5,752.5 265.8,752.5 265.8,744.4 266.2,744.4 266.2,794.3 268,794.3 268,810.6 269.6,810.6 269.6,825.5 272.4,825.5 272.4,764.3 272.5,764.3 272.5,825.5 310.2,825.5 310.2,808.4 311.9,808.4 311.9,825.5 364.8,825.5 364.8,809.6 364.9,809.6 364.9,825.5 474.5,825.5 474.5,795.3 474.6,795.3 474.6,825.5 485.3,825.5 485.3,803.5 485.4,803.5 485.4,825.5 497.5,825.5 497.5,805.9 497.6,805.9 497.6,825.5 499.4,825.5 499.4,749.1 499.5,749.1 499.5,825.5 518.2,825.5 518.2,812.3 519.8,812.3 519.8,825.5 526.1,825.5 526.1,799.4 529.4,799.4 529.4,825.5 532,825.5 532.9,825.5 538.3,825.5 538.3,822.2 544.7,822.2 544.7,794.3 545.9,794.3 545.9,825.5 548.7,825.5 548.7,742.3 549.3,742.3 549.3,825.5 549.4,825.5 549.4,742.3 550,742.3 550,825.5 585.8,825.5 585.8,782.3 585.9,782.3 585.9,825.5 588.5,825.5 588.5,817.3 588.6,817.3 588.6,825.5 620,825.5 632.8,825.5 632.8,766.4 632.9,766.4 632.9,786.2 634.7,786.2 634.7,783.1 636.5,783.1 636.5,761.7 636.9,761.7 636.9,794.3 641.2,794.3 641.2,785.1 643.8,785.1 643.8,728.1 644.3,728.1 644.3,788.2 646.5,788.2 646.5,776.6 650.6,776.6 650.6,816.7 651.4,816.7 651.4,776 652.8,776 652.8,767.2 653.2,767.2 653.2,808.6 656.7,808.6 656.7,819.4 658.3,819.4 658.3,825.5 663,825.5 663,817.3 663.8,817.3 663.8,825.5 667.2,825.5 667.2,817.3 667.3,817.3 667.3,825.5 674,825.5 674,823.5 674.9,823.5 674.9,825.5 678.5,825.5 678.5,812 678.6,812 678.6,825.5 679.9,825.5 679.9,822.4 680,822.4 680,825.5 683.2,825.5 683.2,816.1 684.8,816.1 684.8,812 684.9,812 684.9,825.5 686.4,825.5 686.4,799.4 686.5,799.4 686.5,825.5 689.7,825.5 689.7,797.4 689.8,797.4 689.8,825.5 691.4,825.5 691.4,818.8 692.9,818.8 692.9,817.3 693,817.3 693,825.5 695,825.5 695,795.3 695.4,795.3 695.4,825.5 710.9,825.5 710.9,816.3 711.1,816.3 711.1,825.5 803.4,825.5 803.4,727 803.5,727 803.5,825.5 827.7,825.5 827.7,811.2 829,811.2 829,825.5 882.5,825.5 882.5,811.2 882.6,811.2 882.6,825.5 884.2,825.5 886.7,825.5 886.7,757 887.3,757 887.3,825.5 937.8,825.5 937.8,796.4 938.3,796.4 938.3,825.5 941.6,825.5 941.6,809.2 941.7,809.2 941.7,818.2 943.8,818.2 943.8,825.5 1006.3,825.5 1006.3,814.3 1007.9,814.3 1007.9,810.2 1008,810.2 1008,825.5 1016.7,825.5 1016.7,781.1 1017,781.1 1017,825.5 1050.8,825.5 1050.8,810.2 1051,810.2 1051,825.5 1120,825.5 1134.3,825.5 1134.3,817.3 1136.3,817.3 1136.3,781.1 1136.4,781.1 1136.4,825.5 1171.3,825.5 1171.3,659.1 1171.4,659.1 1171.4,825.5 1248.6,825.5 1248.6,734.2 1249.1,734.2 1249.1,825.5 1309,825.5 1309,799.4 1309.5,799.4 1309.5,825.5 1309.7,825.5 1309.7,799.4 1310.2,799.4 1310.2,825.5 1315.7,825.5 1315.7,754.1 1316.1,754.1 1316.1,825.5 1322.2,825.5 1322.2,705.2 1322.3,705.2 1322.3,825.5 1441.9,825.5 1441.9,808.4 1442,808.4 1442,825.5 1446.4,825.5 1446.4,612 1446.5,612 1446.5,640 1447.1,640 1447.1,825.5 1447.2,825.5 1447.2,640 1447.8,640 1447.8,718.3 1448.4,718.3 1448.4,825.5 1448.5,825.5 1448.5,718.3 1449,718.3 1449,825.5 1449.1,825.5 1449.1,718.3 1449.7,718.3 1449.7,825.5 1458,825.5 1458,810.2 1458.2,810.2 1458.2,825.5 1464.5,825.5 1464.5,746.4 1464.6,746.4 1464.6,793.3 1465.2,793.3 1465.2,825.5 1465.3,825.5 1465.3,793.3 1465.8,793.3 1465.8,825.5 1466,825.5 1466,793.3 1466.6,793.3 1466.6,815.3 1467.8,815.3 1467.8,825.5 1472.1,825.5 1472.1,678.1 1472.7,678.1 1472.7,825.5 1472.9,825.5 1472.9,678.1 1473.5,678.1 1473.5,644.1 1473.6,644.1 1473.6,716.2 1474.1,716.2 1474.1,825.5 1474.2,825.5 1474.2,716.2 1474.7,716.2 1474.7,805.9 1477.4,805.9 1477.4,573.9 1477.8,573.9 1477.8,806.5 1479.6,806.5 1479.6,725 1480.1,725 1480.1,825.5 1480.3,825.5 1480.3,725 1480.7,725 1480.7,825.5 1480.8,825.5 1480.8,725 1481.3,725 1481.3,696.5 1481.4,696.5 1481.4,776.6 1482,776.6 1482,825.5 1482.1,825.5 1482.1,776.6 1482.6,776.6 1482.6,825.5 1482.8,825.5 1482.8,776.6 1483.3,776.6 1483.3,825.5 1484.3,825.5 1484.3,782.7 1484.4,782.7 1484.4,815.7 1486.1,815.7 1486.1,569.2 1486.6,569.2 1486.6,825.5 1486.8,825.5 1486.8,569.2 1487.2,569.2 1487.2,825.5 1487.4,825.5 1487.4,569.2 1487.8,569.2 1487.8,825.5 1487.9,825.5 1487.9,569.2 1488.4,569.2 1488.4,823.9 1491,823.9 1491,730.1 1491.6,730.1 1491.6,825.5 1491.7,825.5 1491.7,730.1 1492.3,730.1 1492.3,689.3 1492.8,689.3 1492.8,825.5 1492.9,825.5 1492.9,689.3 1493.4,689.3 1493.4,685.2 1493.5,685.2 1493.5,701.5 1494.3,701.5 1494.3,825.5 1494.4,825.5 1494.4,701.5 1495.1,701.5 1495.1,717.5 1496.1,717.5 1496.1,825.5 1497.5,825.5 1497.5,818.2 1497.6,818.2 1497.6,825.5 1500.6,825.5 1500.6,775.4 1501.1,775.4 1501.1,825.5 1503.3,825.5 1503.3,821.4 1504.9,821.4 1504.9,787.2 1505.5,787.2 1505.5,825.5 1505.7,825.5 1505.7,787.2 1506.3,787.2 1506.3,746.4 1506.4,746.4 1506.4,785.1 1506.9,785.1 1506.9,825.5 1507.1,825.5 1507.1,785.1 1507.5,785.1 1507.5,825.5 1507.7,825.5 1507.7,785.1 1508.2,785.1 1508.2,789.2 1509,789.2 1509,804.5 1510,804.5 1510,825.5 1528.3,825.5 1528.3,798.4 1528.4,798.4 1528.4,825.5 1533.4,825.5 1533.4,803.5 1533.5,803.5 1533.5,825.5 1537.9,825.5 1537.9,767.2 1538.6,767.2 1538.6,825.5 1538.8,825.5 1538.8,767.2 1539.4,767.2 1539.4,702.4 1539.5,702.4 1539.5,707.3 1540.1,707.3 1540.1,825.5 1540.2,825.5 1540.2,707.3 1540.8,707.3 1540.8,825.5 1546.5,825.5 1546.5,614.9 1546.6,614.9 1546.6,825.5 1548.3,825.5 1548.3,741.3 1548.4,741.3 1548.4,825.5 1557.5,825.5 1557.5,727 1557.6,727 1557.6,825.5 1568.1,825.5 1568.1,820.8 1568.9,820.8 1568.9,825.5 1572.4,825.5 1572.4,763.1 1572.5,763.1 1572.5,825.5 1620,825.5 1655.7,825.5 1655.7,777 1656.3,777 1656.3,825.5 1665.5,825.5 1665.5,693 1665.6,693 1665.6,825.5 1667.5,825.5 1667.5,667.3 1667.6,667.3 1667.6,825.5 1744.6,825.5 1744.6,811.2 1745.2,811.2 1745.2,825.5 1750.7,825.5 1750.7,773.3 1751.1,773.3 1751.1,825.5 1751.3,825.5 1751.3,773.3 1751.7,773.3 1751.7,825.5 1751.9,825.5 1751.9,773.3 1752.3,773.3 1752.3,825.5 1754.2,825.5 1754.2,776.2 1754.3,776.2 1754.3,825.5 1767.4,825.5 1767.4,681.2 1767.5,681.2 1767.5,721.9 1768.2,721.9 1768.2,825.5 1768.3,825.5 1768.3,721.9 1769,721.9 1769,825.5 1904.4,825.5 1904.4,807.2 1904.5,807.2 1904.5,825.5 1910.5,825.5 1910.5,799.4 1910.6,799.4 1910.6,825.5 1952.9,825.5 1952.9,741.9 1953.6,741.9 1953.6,825.5 1953.7,825.5 1953.7,741.9 1954.4,741.9 1954.4,619 1954.5,619 1954.5,825.5 1969,825.5 1969,763.9 1969.6,763.9 1969.6,825.5 1969.8,825.5 1969.8,763.9 1970.4,763.9 1970.4,625.1 1970.5,625.1 1970.5,825.5 1977.2,825.5 1977.2,784.1 1977.3,784.1 1977.3,825.5 1979.5,825.5 1979.5,680.1 1979.6,680.1 1979.6,719.9 1980.1,719.9 1980.1,825.5 1980.2,825.5 1980.2,719.9 1980.7,719.9 1980.7,825.5 1980.8,825.5 1980.8,719.9 1981.3,719.9 1981.3,618 1981.4,618 1981.4,699.1 1982.1,699.1 1982.1,825.5 1982.2,825.5 1982.2,699.1 1982.9,699.1 1982.9,825.5 1984.5,825.5 1984.5,762.3 1984.6,762.3 1984.6,815.3 1985.7,815.3 1985.7,825.5 2064,825.5 2064,741.9 2064.6,741.9 2064.6,825.5 2064.8,825.5 2064.8,741.9 2065.4,741.9 2065.4,675 2065.5,675 2065.5,763.9 2066.1,763.9 2066.1,825.5 2066.3,825.5 2066.3,763.9 2066.9,763.9 2066.9,817.3 2067.9,817.3 2067.9,825.5 2095.4,825.5 2095.4,819.4 2095.5,819.4 2095.5,825.5 2100,825.5 2141.4,825.5 2141.4,800.5 2141.5,800.5 2141.5,825.5 2144.6,825.5 2144.6,566.3 2145.3,566.3 2145.3,825.5 2145.5,825.5 2145.5,566.3 2146.1,566.3 2146.1,622 2146.6,622 2146.6,825.5 2146.8,825.5 2146.8,622 2147.2,622 2147.2,825.5 2147.3,825.5 2147.3,622 2147.8,622 2147.8,825.5 2152.7,825.5 2152.7,573.9 2152.8,573.9 2152.8,825.5 2211.4,825.5 2211.4,619.3 2211.5,619.3 2211.5,688.6 2212.2,688.6 2212.2,825.5 2212.3,825.5 2212.3,688.6 2213,688.6 2213,825.5 2215.6,825.5 2215.6,675 2215.7,675 2215.7,825.5 2218.5,825.5 2218.5,664.1 2219,664.1 2219,825.5 2220.7,825.5 2220.7,664.1 2221.1,664.1 2221.1,825.5 2221.3,825.5 2221.3,664.1 2221.7,664.1 2221.7,825.5 2221.9,825.5 2221.9,664.1 2222.3,664.1 2222.3,628.8 2223.3,628.8 2223.3,825.5 2239.5,825.5 2239.5,800 2239.6,800 2239.6,825.5 2241.3,825.5 2241.3,611.1 2242,611.1 2242,825.5 2242.2,825.5 2242.2,611.1 2242.9,611.1 2242.9,596.2 2243,596.2 2243,825.5 2244.5,825.5 2244.5,676.4 2244.6,676.4 2244.6,825.5 2247.4,825.5 2247.4,647.3 2247.5,647.3 2247.5,759.2 2248.1,759.2 2248.1,825.5 2248.3,825.5 2248.3,759.2 2248.9,759.2 2248.9,825.5 2252.7,825.5 2252.7,567.7 2252.8,567.7 2252.8,825.5 2254.8,825.5 2254.8,567.7 2254.9,567.7 2254.9,825.5 2256.8,825.5 2256.8,680.4 2257,680.4 2257,776.9 2257.5,776.9 2257.5,825.5 2257.6,825.5 2257.6,776.9 2258,776.9 2258,825.5 2258.2,825.5 2258.2,776.9 2258.6,776.9 2258.6,825.5 2258.8,825.5 2258.8,776.9 2259.2,776.9 2259.2,786.4 2260.3,786.4 2260.3,825.5 2261.6,825.5 2261.6,567.7 2261.7,567.7 2261.7,825.5 2264.8,825.5 2264.8,567.7 2264.9,567.7 2264.9,713 2265.5,713 2265.5,825.5 2265.7,825.5 2265.7,713 2266.3,713 2266.3,825.5 2267.4,825.5 2267.4,794.6 2268.1,794.6 2268.1,825.5 2268.3,825.5 2268.3,794.6 2269,794.6 2269,567.7 2269.1,567.7 2269.1,603 2270.1,603 2270.1,650.5 2271.2,650.5 2271.2,675 2272,675 2272,825.5 2289.5,825.5 2289.5,757.1 2289.6,757.1 2289.6,825.5 2294.3,825.5 2294.3,793.2 2294.9,793.2 2294.9,825.5 2295,825.5 2295,793.2 2295.6,793.2 2295.6,568.5 2295.7,568.5 2295.7,802.7 2296.4,802.7 2296.4,825.5 2296.6,825.5 2296.6,802.7 2297.3,802.7 2297.3,825.5 2301.1,825.5 2301.1,746.2 2301.8,746.2 2301.8,825.5 2302,825.5 2302,746.2 2302.7,746.2 2302.7,574.5 2302.8,574.5 2302.8,825.5 2305.2,825.5 2305.2,778.3 2305.7,778.3 2305.7,825.5 2305.9,825.5 2305.9,778.3 2306.5,778.3 2306.5,677.2 2306.6,677.2 2306.6,825.5 2312.4,825.5 2312.4,573.1 2312.6,573.1 2312.6,825.5 2314.4,825.5 2314.4,578.5 2314.5,578.5 2314.5,677.2 2315.2,677.2 2315.2,825.5 2315.3,825.5 2315.3,677.2 2316,677.2 2316,757.1 2317.1,757.1 2317.1,825.5 2323.3,825.5 2323.3,647.8 2323.4,647.8 2323.4,825.5 2332.6,825.5 2332.6,606.5 2333.1,606.5 2333.1,825.5 2333.3,825.5 2333.3,606.5 2333.7,606.5 2333.7,825.5 2333.8,825.5 2333.8,606.5 2334.3,606.5 2334.3,598.9 2334.7,598.9 2334.7,825.5 2363.6,825.5 2363.6,745.7 2364.1,745.7 2364.1,825.5 2370.4,825.5 2370.4,681 2371.1,681 2371.1,764.1 2371.6,764.1 2371.6,825.5 2371.8,825.5 2371.8,764.1 2372.2,764.1 2372.2,825.5 2372.3,825.5 2372.3,764.1 2372.8,764.1 2372.8,787.8 2373.9,787.8 2373.9,825.5 2375.3,825.5 2375.3,802.7 2375.9,802.7 2375.9,825.5 2376.1,825.5 2376.1,802.7 2376.6,802.7 2376.6,825.5 2376.8,825.5 2376.8,802.7 2377.4,802.7 2377.4,672.3 2377.5,672.3 2377.5,825.5 2395.6,825.5 2395.6,645.1 2395.7,645.1 2395.7,825.5 2400,825.5 2403.3,825.5 2403.3,809.5 2404.8,809.5 2404.8,807.6 2404.9,807.6 2404.9,825.5 2412,825.5 2412,759.2 2412.1,759.2 2412.1,825.5 2451.1,825.5 2451.1,763.3 2451.6,763.3 2451.6,825.5 2451.7,825.5 2451.7,763.3 2452.2,763.3 2452.2,825.5 2452.3,825.5 2452.3,763.3 2452.8,763.3 2452.8,762 2452.9,762 2452.9,813.6 2454.1,813.6 2454.1,825.5 2473.2,825.5 2473.2,745.1 2473.3,745.1 2473.3,782.3 2473.8,782.3 2473.8,825.5 2473.9,825.5 2473.9,782.3 2474.3,782.3 2474.3,825.5 2474.5,825.5 2474.5,782.3 2475,782.3 2475,825.5 2477,825.5 2477,785.9 2477.1,785.9 2477.1,825.5 2478.8,825.5 2478.8,804.1 2479.5,804.1 2479.5,825.5 2479.7,825.5 2479.7,804.1 2480.4,804.1 2480.4,785.1 2480.5,785.1 2480.5,817.7 2481.8,817.7 2481.8,772.8 2482.9,772.8 2482.9,764.7 2483.6,764.7 2483.6,825.5 2483.8,825.5 2483.8,764.7 2484.5,764.7 2484.5,698.9 2484.6,698.9 2484.6,825.5 2490.3,825.5 2490.3,789.9 2490.4,789.9 2490.4,825.5 2493.3,825.5 2493.3,815.8 2493.4,815.8 2493.4,825.5 2502.2,825.5 2502.2,717.1 2502.7,717.1 2502.7,825.5 2502.8,825.5 2502.8,717.1 2503.2,717.1 2503.2,825.5 2503.4,825.5 2503.4,717.1 2503.9,717.1 2503.9,698.9 2504.3,698.9 2504.3,825.5 2509,825.5 2509,797.8 2509.7,797.8 2509.7,825.5 2509.8,825.5 2509.8,797.8 2510.5,797.8 2510.5,719 2510.6,719 2510.6,766.8 2511.2,766.8 2511.2,825.5 2511.4,825.5 2511.4,766.8 2512,766.8 2512,825.5 2515.6,825.5 2515.6,770.1 2515.7,770.1 2515.7,825.5 2518.5,825.5 2518.5,789.9 2519,789.9 2519,825.5 2532.7,825.5 2532.7,813.6 2533.1,813.6 2533.1,825.5 2536.7,825.5 2536.7,783.7 2537.5,783.7 2537.5,651.9 2538,651.9 2538,825.5 2538.1,825.5 2538.1,651.9 2538.5,651.9 2538.5,825.5 2538.7,825.5 2538.7,651.9 2539.2,651.9 2539.2,567.7 2539.3,567.7 2539.3,710.9 2539.8,710.9 2539.8,825.5 2540,825.5 2540,710.9 2540.4,710.9 2540.4,825.5 2540.6,825.5 2540.6,710.9 2541,710.9 2541,825.5 2543.4,825.5 2543.4,733.4 2543.5,733.4 2543.5,825.5 2546.2,825.5 2546.2,794.6 2547.3,794.6 2547.3,764.7 2547.9,764.7 2547.9,825.5 2548,825.5 2548,764.7 2548.6,764.7 2548.6,728.8 2548.7,728.8 2548.7,778.3 2549.3,778.3 2549.3,825.5 2549.4,825.5 2549.4,778.3 2550,778.3 2550,825.5 2553.3,825.5 2553.3,791.8 2553.4,791.8 2553.4,825.5 2583.2,825.5 2583.2,774.2 2584.2,774.2 2584.2,685.9 2584.9,685.9 2584.9,825.5 2585,825.5 2585,685.9 2585.7,685.9 2585.7,640.2 2585.8,640.2 2585.8,825.5 2599.7,825.5 2599.7,741.6 2600.3,741.6 2600.3,825.5 2600.5,825.5 2600.5,741.6 2601.1,741.6 2601.1,723.9 2601.6,723.9 2601.6,825.5 2601.7,825.5 2601.7,723.9 2602.1,723.9 2602.1,825.5 2602.3,825.5 2602.3,723.9 2602.8,723.9 2602.8,683.2 2603.2,683.2 2603.2,691.3 2603.7,691.3 2603.7,825.5 2603.8,825.5 2603.8,691.3 2604.2,691.3 2604.2,825.5 2604.4,825.5 2604.4,691.3 2604.8,691.3 2604.8,825.5 2605,825.5 2605,691.3 2605.4,691.3 2605.4,740.2 2606,740.2 2606,825.5 2606.2,825.5 2606.2,740.2 2606.7,740.2 2606.7,653.3 2606.8,653.3 2606.8,704.9 2607.4,704.9 2607.4,825.5 2607.5,825.5 2607.5,704.9 2608,704.9 2608,825.5 2608.2,825.5 2608.2,704.9 2608.7,704.9 2608.7,729.3 2609.4,729.3 2609.4,825.5 2609.6,825.5 2609.6,729.3 2610.3,729.3 2610.3,692.7 2610.9,692.7 2610.9,825.5 2611.1,825.5 2611.1,692.7 2611.7,692.7 2611.7,666.8 2612.2,666.8 2612.2,825.5 2612.4,825.5 2612.4,666.8 2612.8,666.8 2612.8,825.5 2613,825.5 2613,666.8 2613.5,666.8 2613.5,605.7 2613.6,605.7 2613.6,718.5 2614.3,718.5 2614.3,825.5 2614.5,825.5 2614.5,718.5 2615.2,718.5 2615.2,813.6 2616.5,813.6 2616.5,590.8 2616.6,590.8 2616.6,825.5 2617.9,825.5 2617.9,766 2618.4,766 2618.4,825.5 2618.6,825.5 2618.6,766 2619,766 2619,825.5 2619.1,825.5 2619.1,766 2619.6,766 2619.6,570.4 2620.1,570.4 2620.1,825.5 2621.7,825.5 2621.7,819 2622.8,819 2622.8,694 2623.5,694 2623.5,825.5 2623.7,825.5 2623.7,694 2624.4,694 2624.4,568.5 2624.5,568.5 2624.5,714.4 2625.1,714.4 2625.1,825.5 2625.3,825.5 2625.3,714.4 2625.8,714.4 2625.8,825.5 2626,825.5 2626,714.4 2626.6,714.4 2626.6,677.2 2626.7,677.2 2626.7,797.8 2627.4,797.8 2627.4,825.5 2627.6,825.5 2627.6,797.8 2628.3,797.8 2628.3,810.9 2629.9,810.9 2629.9,825.5 2630.8,825.5 2630.8,785.9 2630.9,785.9 2630.9,825.5 2634.6,825.5 2634.6,785.1 2634.7,785.1 2634.7,825.5 2636.1,825.5 2636.1,751.1 2636.8,751.1 2636.8,825.5 2636.9,825.5 2636.9,751.1 2637.6,751.1 2637.6,719 2637.7,719 2637.7,825.5 2643.3,825.5 2643.3,778.8 2643.4,778.8 2643.4,825.5 2646.7,825.5 2646.7,787 2647.4,787 2647.4,825.5 2647.5,825.5 2647.5,787 2648.2,787 2648.2,772.3 2648.3,772.3 2648.3,825.5 2652,825.5 2652,803.3 2652.1,803.3 2652.1,825.5 2654.7,825.5 2654.7,748.9 2654.8,748.9 2654.8,756.5 2655.5,756.5 2655.5,825.5 2655.6,825.5 2655.6,756.5 2656.2,756.5 2656.2,825.5 2656.4,825.5 2656.4,756.5 2657,756.5 2657,695.4 2657.1,695.4 2657.1,825.5 2660.1,825.5 2660.1,756 2660.7,756 2660.7,825.5 2660.9,825.5 2660.9,756 2661.5,756 2661.5,670.1 2661.6,670.1 2661.6,825.5 2663,825.5 2663,820.4 2664.4,820.4 2664.4,568.5 2664.5,568.5 2664.5,825.5 2668.4,825.5 2668.4,767.9 2668.5,767.9 2668.5,804.1 2669.2,804.1 2669.2,825.5 2669.3,825.5 2669.3,804.1 2669.9,804.1 2669.9,825.5 2670,825.5 2670,804.1 2670.7,804.1 2670.7,805.4 2671.2,805.4 2671.2,825.5 2671.3,825.5 2671.3,805.4 2671.8,805.4 2671.8,825.5 2672,825.5 2672,805.4 2672.5,805.4 2672.5,770.1 2672.6,770.1 2672.6,825.5 2674.4,825.5 2674.4,805.4 2674.5,805.4 2674.5,825.5 2676.6,825.5 2676.6,783.7 2676.7,783.7 2676.7,825.5 2678.8,825.5 2678.8,778.8 2678.9,778.8 2678.9,787.8 2679.5,787.8 2679.5,825.5 2679.6,825.5 2679.6,787.8 2680.2,787.8 2680.2,825.5 2680.4,825.5 2680.4,787.8 2681,787.8 2681,785.1 2681.7,785.1 2681.7,825.5 2681.8,825.5 2681.8,785.1 2682.6,785.1 2682.6,746.2 2682.7,746.2 2682.7,825.5 2684.8,825.5 2684.8,728 2685,728 2685,771.5 2685.5,771.5 2685.5,825.5 2685.7,825.5 2685.7,771.5 2686.1,771.5 2686.1,825.5 2686.3,825.5 2686.3,771.5 2686.8,771.5 2686.8,825.5 2686.9,825.5 2686.9,771.5 2687.4,771.5 2687.4,721.2 2687.6,721.2 2687.6,825.5 2689.1,825.5 2689.1,820.4 2690.2,820.4 2690.2,816.3 2691.3,816.3 2691.3,770.7 2692,770.7 2692,825.5 2692.2,825.5 2692.2,770.7 2692.9,770.7 2692.9,761.4 2693,761.4 2693,825.5 2694.6,825.5 2694.6,804.1 2695.3,804.1 2695.3,825.5 2695.4,825.5 2695.4,804.1 2696.1,804.1 2696.1,771.5 2696.2,771.5 2696.2,825.5 2697.6,825.5 2698.6,825.5 2698.6,819 2698.7,819 2698.7,825.5 2700.9,825.5 2700.9,813 2702.2,813 2702.2,719 2702.3,719 2702.3,825.5 2705.5,825.5 2705.5,744.3 2705.7,744.3 2705.7,825.5 2707.5,825.5 2707.5,653.3 2707.6,653.3 2707.6,825.5 2711.7,825.5 2711.7,672.3 2712.4,672.3 2712.4,825.5 2712.5,825.5 2712.5,672.3 2713.1,672.3 2713.1,825.5 2713.2,825.5 2713.2,672.3 2713.9,672.3 2713.9,590.8 2714,590.8 2714,660.9 2714.5,660.9 2714.5,825.5 2714.7,825.5 2714.7,660.9 2715.2,660.9 2715.2,825.5 2715.4,825.5 2715.4,660.9 2715.9,660.9 2715.9,825.5 2716,825.5 2716,660.9 2716.6,660.9 2716.6,821.7 2717.4,821.7 2717.4,825.5 2752.6,825.5 2752.6,806.8 2752.7,806.8 2752.7,825.5 2764.5,825.5 2764.5,760.9 2764.6,760.9 2764.6,825.5 2804.2,825.5 2804.2,794 2804.3,794 2804.3,825.5 2815.4,825.5 2815.4,798.9 2815.5,798.9 2815.5,825.5 2825.1,825.5 2825.1,816.3 2826.4,816.3 2826.4,806.8 2828.6,806.8 2828.6,784.2 2829.1,784.2 2829.1,825.5 2830.8,825.5 2830.8,801.4 2831.8,801.4 2831.8,770.1 2832.4,770.1 2832.4,825.5 2832.5,825.5 2832.5,770.1 2833,770.1 2833,825.5 2833.1,825.5 2833.1,770.1 2833.6,770.1 2833.6,825.5 2833.7,825.5 2833.7,770.1 2834.2,770.1 2834.2,747 2834.3,747 2834.3,780.4 2834.9,780.4 2834.9,825.5 2835,825.5 2835,780.4 2835.5,780.4 2835.5,825.5 2835.6,825.5 2835.6,780.4 2836.1,780.4 2836.1,825.5 2836.2,825.5 2836.2,780.4 2836.7,780.4 2836.7,825.5 2838.3,825.5 2838.3,747.8 2838.4,747.8 2838.4,765.2 2839,765.2 2839,825.5 2839.1,825.5 2839.1,765.2 2839.6,765.2 2839.6,825.5 2839.7,825.5 2839.7,765.2 2840.3,765.2 2840.3,825.5 2841.4,825.5 2841.4,668.2 2841.5,668.2 2841.5,781 2842,781 2842,825.5 2842.2,825.5 2842.2,781 2842.6,781 2842.6,825.5 2842.8,825.5 2842.8,781 2843.2,781 2843.2,825.5 2843.4,825.5 2843.4,781 2843.9,781 2843.9,732.6 2844.3,732.6 2844.3,789.1 2844.9,789.1 2844.9,825.5 2845,825.5 2845,789.1 2845.5,789.1 2845.5,825.5 2845.7,825.5 2845.7,789.1 2846.2,789.1 2846.2,825.5 2847.4,825.5 2847.4,770.1 2847.5,770.1 2847.5,825.5 2861.2,825.5 2861.2,818.5 2864.5,818.5 2864.5,770.7 2864.9,770.7 2864.9,822.6 2873.7,822.6 2873.7,825.5 2938.4,825.5 2938.4,1110.7 120,1110.7"/>
<polyline fill="none" stroke="#4b0082" stroke-width="1.1" points="120,825.5 176.1,825.5 176.1,791.3 178.1,791.3 178.1,702.6 178.9,702.6 178.9,766.8 180.8,766.8 180.8,779 182.5,779 182.5,744.4 182.6,744.4 182.6,748.4 183.2,748.4 183.2,825.5 183.3,825.5 183.3,748.4 183.8,748.4 183.8,825.5 183.9,825.5 183.9,748.4 184.3,748.4 184.3,825.5 184.5,825.5 184.5,748.4 185,748.4 185,727.4 185.9,727.4 185.9,825.5 220.3,825.5 220.3,760.3 224.6,760.3 224.6,802.5 227.6,802.5 227.6,742.3 227.9,742.3 227.9,811.6 229.3,811.6 229.3,777.4 234.6,777.4 234.6,825.5 239.5,825.5 239.5,788.4 244.4,788.4 244.4,825.5 250.5,825.5 250.5,820.6 254.6,820.6 254.6,825.5 257.4,825.5 257.4,761.1 257.5,761.1 257.5,809.6 259,809.6 259,825.5 260.3,825.5 260.3,791.3 261.5,791.3 261.5,761.7 263.5,761.7 263.5,752.5 265.8,752.5 265.8,744.4 266.2,744.4 266.2,794.3 268,794.3 268,810.6 269.6,810.6 269.6,825.5 272.4,825.5 272.4,764.3 272.5,764.3 272.5,825.5 310.2,825.5 310.2,808.4 311.9,808.4 311.9,825.5 364.8,825.5 364.8,809.6 364.9,809.6 364.9,825.5 474.5,825.5 474.5,795.3 474.6,795.3 474.6,825.5 485.3,825.5 485.3,803.5 485.4,803.5 485.4,825.5 497.5,825.5 497.5,805.9 497.6,805.9 497.6,825.5 499.4,825.5 499.4,749.1 499.5,749.1 499.5,825.5 518.2,825.5 518.2,812.3 519.8,812.3 519.8,825.5 526.1,825.5 526.1,799.4 529.4,799.4 529.4,825.5 532,825.5 532.9,825.5 538.3,825.5 538.3,822.2 544.7,822.2 544.7,794.3 545.9,794.3 545.9,825.5 548.7,825.5 548.7,742.3 549.3,742.3 549.3,825.5 549.4,825.5 549.4,742.3 550,742.3 550,825.5 585.8,825.5 585.8,782.3 585.9,782.3 585.9,825.5 588.5,825.5 588.5,817.3 588.6,817.3 588.6,825.5 620,825.5 632.8,825.5 632.8,766.4 632.9,766.4 632.9,786.2 634.7,786.2 634.7,783.1 636.5,783.1 636.5,761.7 636.9,761.7 636.9,794.3 641.2,794.3 641.2,785.1 643.8,785.1 643.8,728.1 644.3,728.1 644.3,788.2 646.5,788.2 646.5,776.6 650.6,776.6 650.6,816.7 651.4,816.7 651.4,776 652.8,776 652.8,767.2 653.2,767.2 653.2,808.6 656.7,808.6 656.7,819.4 658.3,819.4 658.3,825.5 663,825.5 663,817.3 663.8,817.3 663.8,825.5 667.2,825.5 667.2,817.3 667.3,817.3 667.3,825.5 674,825.5 674,823.5 674.9,823.5 674.9,825.5 678.5,825.5 678.5,812 678.6,812 678.6,825.5 679.9,825.5 679.9,822.4 680,822.4 680,825.5 683.2,825.5 683.2,816.1 684.8,816.1 684.8,812 684.9,812 684.9,825.5 686.4,825.5 686.4,799.4 686.5,799.4 686.5,825.5 689.7,825.5 689.7,797.4 689.8,797.4 689.8,825.5 691.4,825.5 691.4,818.8 692.9,818.8 692.9,817.3 693,817.3 693,825.5 695,825.5 695,795.3 695.4,795.3 695.4,825.5 710.9,825.5 710.9,816.3 711.1,816.3 711.1,825.5 803.4,825.5 803.4,727 803.5,727 803.5,825.5 827.7,825.5 827.7,811.2 829,811.2 829,825.5 882.5,825.5 882.5,811.2 882.6,811.2 882.6,825.5 884.2,825.5 886.7,825.5 886.7,757 887.3,757 887.3,825.5 937.8,825.5 937.8,796.4 938.3,796.4 938.3,825.5 941.6,825.5 941.6,809.2 941.7,809.2 941.7,818.2 943.8,818.2 943.8,825.5 1006.3,825.5 1006.3,814.3 1007.9,814.3 1007.9,810.2 1008,810.2 1008,825.5 1016.7,825.5 1016.7,781.1 1017,781.1 1017,825.5 1050.8,825.5 1050.8,810.2 1051,810.2 1051,825.5 1120,825.5 1134.3,825.5 1134.3,817.3 1136.3,817.3 1136.3,781.1 1136.4,781.1 1136.4,825.5 1171.3,825.5 1171.3,659.1 1171.4,659.1 1171.4,825.5 1248.6,825.5 1248.6,734.2 1249.1,734.2 1249.1,825.5 1309,825.5 1309,799.4 1309.5,799.4 1309.5,825.5 1309.7,825.5 1309.7,799.4 1310.2,799.4 1310.2,825.5 1315.7,825.5 1315.7,754.1 1316.1,754.1 1316.1,825.5 1322.2,825.5 1322.2,705.2 1322.3,705.2 1322.3,825.5 1441.9,825.5 1441.9,808.4 1442,808.4 1442,825.5 1446.4,825.5 1446.4,612 1446.5,612 1446.5,640 1447.1,640 1447.1,825.5 1447.2,825.5 1447.2,640 1447.8,640 1447.8,718.3 1448.4,718.3 1448.4,825.5 1448.5,825.5 1448.5,718.3 1449,718.3 1449,825.5 1449.1,825.5 1449.1,718.3 1449.7,718.3 1449.7,825.5 1458,825.5 1458,810.2 1458.2,810.2 1458.2,825.5 1464.5,825.5 1464.5,746.4 1464.6,746.4 1464.6,793.3 1465.2,793.3 1465.2,825.5 1465.3,825.5 1465.3,793.3 1465.8,793.3 1465.8,825.5 1466,825.5 1466,793.3 1466.6,793.3 1466.6,815.3 1467.8,815.3 1467.8,825.5 1472.1,825.5 1472.1,678.1 1472.7,678.1 1472.7,825.5 1472.9,825.5 1472.9,678.1 1473.5,678.1 1473.5,644.1 1473.6,644.1 1473.6,716.2 1474.1,716.2 1474.1,825.5 1474.2,825.5 1474.2,716.2 1474.7,716.2 1474.7,805.9 1477.4,805.9 1477.4,573.9 1477.8,573.9 1477.8,806.5 1479.6,806.5 1479.6,725 1480.1,725 1480.1,825.5 1480.3,825.5 1480.3,725 1480.7,725 1480.7,825.5 1480.8,825.5 1480.8,725 1481.3,725 1481.3,696.5 1481.4,696.5 1481.4,776.6 1482,776.6 1482,825.5 1482.1,825.5 1482.1,776.6 1482.6,776.6 1482.6,825.5 1482.8,825.5 1482.8,776.6 1483.3,776.6 1483.3,825.5 1484.3,825.5 1484.3,782.7 1484.4,782.7 1484.4,815.7 1486.1,815.7 1486.1,569.2 1486.6,569.2 1486.6,825.5 1486.8,825.5 1486.8,569.2 1487.2,569.2 1487.2,825.5 1487.4,825.5 1487.4,569.2 1487.8,569.2 1487.8,825.5 1487.9,825.5 1487.9,569.2 1488.4,569.2 1488.4,823.9 1491,823.9 1491,730.1 1491.6,730.1 1491.6,825.5 1491.7,825.5 1491.7,730.1 1492.3,730.1 1492.3,689.3 1492.8,689.3 1492.8,825.5 1492.9,825.5 1492.9,689.3 1493.4,689.3 1493.4,685.2 1493.5,685.2 1493.5,701.5 1494.3,701.5 1494.3,825.5 1494.4,825.5 1494.4,701.5 1495.1,701.5 1495.1,717.5 1496.1,717.5 1496.1,825.5 1497.5,825.5 1497.5,818.2 1497.6,818.2 1497.6,825.5 1500.6,825.5 1500.6,775.4 1501.1,775.4 1501.1,825.5 1503.3,825.5 1503.3,821.4 1504.9,821.4 1504.9,787.2 1505.5,787.2 1505.5,825.5 1505.7,825.5 1505.7,787.2 1506.3,787.2 1506.3,746.4 1506.4,746.4 1506.4,785.1 1506.9,785.1 1506.9,825.5 1507.1,825.5 1507.1,785.1 1507.5,785.1 1507.5,825.5 1507.7,825.5 1507.7,785.1 1508.2,785.1 1508.2,789.2 1509,789.2 1509,804.5 1510,804.5 1510,825.5 1528.3,825.5 1528.3,798.4 1528.4,798.4 1528.4,825.5 1533.4,825.5 1533.4,803.5 1533.5,803.5 1533.5,825.5 1537.9,825.5 1537.9,767.2 1538.6,767.2 1538.6,825.5 1538.8,825.5 1538.8,767.2 1539.4,767.2 1539.4,702.4 1539.5,702.4 1539.5,707.3 1540.1,707.3 1540.1,825.5 1540.2,825.5 1540.2,707.3 1540.8,707.3 1540.8,825.5 1546.5,825.5 1546.5,614.9 1546.6,614.9 1546.6,825.5 1548.3,825.5 1548.3,741.3 1548.4,741.3 1548.4,825.5 1557.5,825.5 1557.5,727 1557.6,727 1557.6,825.5 1568.1,825.5 1568.1,820.8 1568.9,820.8 1568.9,825.5 1572.4,825.5 1572.4,763.1 1572.5,763.1 1572.5,825.5 1620,825.5 1655.7,825.5 1655.7,777 1656.3,777 1656.3,825.5 1665.5,825.5 1665.5,693 1665.6,693 1665.6,825.5 1667.5,825.5 1667.5,667.3 1667.6,667.3 1667.6,825.5 1744.6,825.5 1744.6,811.2 1745.2,811.2 1745.2,825.5 1750.7,825.5 1750.7,773.3 1751.1,773.3 1751.1,825.5 1751.3,825.5 1751.3,773.3 1751.7,773.3 1751.7,825.5 1751.9,825.5 1751.9,773.3 1752.3,773.3 1752.3,825.5 1754.2,825.5 1754.2,776.2 1754.3,776.2 1754.3,825.5 1767.4,825.5 1767.4,681.2 1767.5,681.2 1767.5,721.9 1768.2,721.9 1768.2,825.5 1768.3,825.5 1768.3,721.9 1769,721.9 1769,825.5 1904.4,825.5 1904.4,807.2 1904.5,807.2 1904.5,825.5 1910.5,825.5 1910.5,799.4 1910.6,799.4 1910.6,825.5 1952.9,825.5 1952.9,741.9 1953.6,741.9 1953.6,825.5 1953.7,825.5 1953.7,741.9 1954.4,741.9 1954.4,619 1954.5,619 1954.5,825.5 1969,825.5 1969,763.9 1969.6,763.9 1969.6,825.5 1969.8,825.5 1969.8,763.9 1970.4,763.9 1970.4,625.1 1970.5,625.1 1970.5,825.5 1977.2,825.5 1977.2,784.1 1977.3,784.1 1977.3,825.5 1979.5,825.5 1979.5,680.1 1979.6,680.1 1979.6,719.9 1980.1,719.9 1980.1,825.5 1980.2,825.5 1980.2,719.9 1980.7,719.9 1980.7,825.5 1980.8,825.5 1980.8,719.9 1981.3,719.9 1981.3,618 1981.4,618 1981.4,699.1 1982.1,699.1 1982.1,825.5 1982.2,825.5 1982.2,699.1 1982.9,699.1 1982.9,825.5 1984.5,825.5 1984.5,762.3 1984.6,762.3 1984.6,815.3 1985.7,815.3 1985.7,825.5 2064,825.5 2064,741.9 2064.6,741.9 2064.6,825.5 2064.8,825.5 2064.8,741.9 2065.4,741.9 2065.4,675 2065.5,675 2065.5,763.9 2066.1,763.9 2066.1,825.5 2066.3,825.5 2066.3,763.9 2066.9,763.9 2066.9,817.3 2067.9,817.3 2067.9,825.5 2095.4,825.5 2095.4,819.4 2095.5,819.4 2095.5,825.5 2100,825.5 2141.4,825.5 2141.4,800.5 2141.5,800.5 2141.5,825.5 2144.6,825.5 2144.6,566.3 2145.3,566.3 2145.3,825.5 2145.5,825.5 2145.5,566.3 2146.1,566.3 2146.1,622 2146.6,622 2146.6,825.5 2146.8,825.5 2146.8,622 2147.2,622 2147.2,825.5 2147.3,825.5 2147.3,622 2147.8,622 2147.8,825.5 2152.7,825.5 2152.7,573.9 2152.8,573.9 2152.8,825.5 2211.4,825.5 2211.4,619.3 2211.5,619.3 2211.5,688.6 2212.2,688.6 2212.2,825.5 2212.3,825.5 2212.3,688.6 2213,688.6 2213,825.5 2215.6,825.5 2215.6,675 2215.7,675 2215.7,825.5 2218.5,825.5 2218.5,664.1 2219,664.1 2219,825.5 2220.7,825.5 2220.7,664.1 2221.1,664.1 2221.1,825.5 2221.3,825.5 2221.3,664.1 2221.7,664.1 2221.7,825.5 2221.9,825.5 2221.9,664.1 2222.3,664.1 2222.3,628.8 2223.3,628.8 2223.3,825.5 2239.5,825.5 2239.5,800 2239.6,800 2239.6,825.5 2241.3,825.5 2241.3,611.1 2242,611.1 2242,825.5 2242.2,825.5 2242.2,611.1 2242.9,611.1 2242.9,596.2 2243,596.2 2243,825.5 2244.5,825.5 2244.5,676.4 2244.6,676.4 2244.6,825.5 2247.4,825.5 2247.4,647.3 2247.5,647.3 2247.5,759.2 2248.1,759.2 2248.1,825.5 2248.3,825.5 2248.3,759.2 2248.9,759.2 2248.9,825.5 2252.7,825.5 2252.7,567.7 2252.8,567.7 2252.8,825.5 2254.8,825.5 2254.8,567.7 2254.9,567.7 2254.9,825.5 2256.8,825.5 2256.8,680.4 2257,680.4 2257,776.9 2257.5,776.9 2257.5,825.5 2257.6,825.5 2257.6,776.9 2258,776.9 2258,825.5 2258.2,825.5 2258.2,776.9 2258.6,776.9 2258.6,825.5 2258.8,825.5 2258.8,776.9 2259.2,776.9 2259.2,786.4 2260.3,786.4 2260.3,825.5 2261.6,825.5 2261.6,567.7 2261.7,567.7 2261.7,825.5 2264.8,825.5 2264.8,567.7 2264.9,567.7 2264.9,713 2265.5,713 2265.5,825.5 2265.7,825.5 2265.7,713 2266.3,713 2266.3,825.5 2267.4,825.5 2267.4,794.6 2268.1,794.6 2268.1,825.5 2268.3,825.5 2268.3,794.6 2269,794.6 2269,567.7 2269.1,567.7 2269.1,603 2270.1,603 2270.1,650.5 2271.2,650.5 2271.2,675 2272,675 2272,825.5 2289.5,825.5 2289.5,757.1 2289.6,757.1 2289.6,825.5 2294.3,825.5 2294.3,793.2 2294.9,793.2 2294.9,825.5 2295,825.5 2295,793.2 2295.6,793.2 2295.6,568.5 2295.7,568.5 2295.7,802.7 2296.4,802.7 2296.4,825.5 2296.6,825.5 2296.6,802.7 2297.3,802.7 2297.3,825.5 2301.1,825.5 2301.1,746.2 2301.8,746.2 2301.8,825.5 2302,825.5 2302,746.2 2302.7,746.2 2302.7,574.5 2302.8,574.5 2302.8,825.5 2305.2,825.5 2305.2,778.3 2305.7,778.3 2305.7,825.5 2305.9,825.5 2305.9,778.3 2306.5,778.3 2306.5,677.2 2306.6,677.2 2306.6,825.5 2312.4,825.5 2312.4,573.1 2312.6,573.1 2312.6,825.5 2314.4,825.5 2314.4,578.5 2314.5,578.5 2314.5,677.2 2315.2,677.2 2315.2,825.5 2315.3,825.5 2315.3,677.2 2316,677.2 2316,757.1 2317.1,757.1 2317.1,825.5 2323.3,825.5 2323.3,647.8 2323.4,647.8 2323.4,825.5 2332.6,825.5 2332.6,606.5 2333.1,606.5 2333.1,825.5 2333.3,825.5 2333.3,606.5 2333.7,606.5 2333.7,825.5 2333.8,825.5 2333.8,606.5 2334.3,606.5 2334.3,598.9 2334.7,598.9 2334.7,825.5 2363.6,825.5 2363.6,745.7 2364.1,745.7 2364.1,825.5 2370.4,825.5 2370.4,681 2371.1,681 2371.1,764.1 2371.6,764.1 2371.6,825.5 2371.8,825.5 2371.8,764.1 2372.2,764.1 2372.2,825.5 2372.3,825.5 2372.3,764.1 2372.8,764.1 2372.8,787.8 2373.9,787.8 2373.9,825.5 2375.3,825.5 2375.3,802.7 2375.9,802.7 2375.9,825.5 2376.1,825.5 2376.1,802.7 2376.6,802.7 2376.6,825.5 2376.8,825.5 2376.8,802.7 2377.4,802.7 2377.4,672.3 2377.5,672.3 2377.5,825.5 2395.6,825.5 2395.6,645.1 2395.7,645.1 2395.7,825.5 2400,825.5 2403.3,825.5 2403.3,809.5 2404.8,809.5 2404.8,807.6 2404.9,807.6 2404.9,825.5 2412,825.5 2412,759.2 2412.1,759.2 2412.1,825.5 2451.1,825.5 2451.1,763.3 2451.6,763.3 2451.6,825.5 2451.7,825.5 2451.7,763.3 2452.2,763.3 2452.2,825.5 2452.3,825.5 2452.3,763.3 2452.8,763.3 2452.8,762 2452.9,762 2452.9,813.6 2454.1,813.6 2454.1,825.5 2473.2,825.5 2473.2,745.1 2473.3,745.1 2473.3,782.3 2473.8,782.3 2473.8,825.5 2473.9,825.5 2473.9,782.3 2474.3,782.3 2474.3,825.5 2474.5,825.5 2474.5,782.3 2475,782.3 2475,825.5 2477,825.5 2477,785.9 2477.1,785.9 2477.1,825.5 2478.8,825.5 2478.8,804.1 2479.5,804.1 2479.5,825.5 2479.7,825.5 2479.7,804.1 2480.4,804.1 2480.4,785.1 2480.5,785.1 2480.5,817.7 2481.8,817.7 2481.8,772.8 2482.9,772.8 2482.9,764.7 2483.6,764.7 2483.6,825.5 2483.8,825.5 2483.8,764.7 2484.5,764.7 2484.5,698.9 2484.6,698.9 2484.6,825.5 2490.3,825.5 2490.3,789.9 2490.4,789.9 2490.4,825.5 2493.3,825.5 2493.3,815.8 2493.4,815.8 2493.4,825.5 2502.2,825.5 2502.2,717.1 2502.7,717.1 2502.7,825.5 2502.8,825.5 2502.8,717.1 2503.2,717.1 2503.2,825.5 2503.4,825.5 2503.4,717.1 2503.9,717.1 2503.9,698.9 2504.3,698.9 2504.3,825.5 2509,825.5 2509,797.8 2509.7,797.8 2509.7,825.5 2509.8,825.5 2509.8,797.8 2510.5,797.8 2510.5,719 2510.6,719 2510.6,766.8 2511.2,766.8 2511.2,825.5 2511.4,825.5 2511.4,766.8 2512,766.8 2512,825.5 2515.6,825.5 2515.6,770.1 2515.7,770.1 2515.7,825.5 2518.5,825.5 2518.5,789.9 2519,789.9 2519,825.5 2532.7,825.5 2532.7,813.6 2533.1,813.6 2533.1,825.5 2536.7,825.5 2536.7,783.7 2537.5,783.7 2537.5,651.9 2538,651.9 2538,825.5 2538.1,825.5 2538.1,651.9 2538.5,651.9 2538.5,825.5 2538.7,825.5 2538.7,651.9 2539.2,651.9 2539.2,567.7 2539.3,567.7 2539.3,710.9 2539.8,710.9 2539.8,825.5 2540,825.5 2540,710.9 2540.4,710.9 2540.4,825.5 2540.6,825.5 2540.6,710.9 2541,710.9 2541,825.5 2543.4,825.5 2543.4,733.4 2543.5,733.4 2543.5,825.5 2546.2,825.5 2546.2,794.6 2547.3,794.6 2547.3,764.7 2547.9,764.7 2547.9,825.5 2548,825.5 2548,764.7 2548.6,764.7 2548.6,728.8 2548.7,728.8 2548.7,778.3 2549.3,778.3 2549.3,825.5 2549.4,825.5 2549.4,778.3 2550,778.3 2550,825.5 2553.3,825.5 2553.3,791.8 2553.4,791.8 2553.4,825.5 2583.2,825.5 2583.2,774.2 2584.2,774.2 2584.2,685.9 2584.9,685.9 2584.9,825.5 2585,825.5 2585,685.9 2585.7,685.9 2585.7,640.2 2585.8,640.2 2585.8,825.5 2599.7,825.5 2599.7,741.6 2600.3,741.6 2600.3,825.5 2600.5,825.5 2600.5,741.6 2601.1,741.6 2601.1,723.9 2601.6,723.9 2601.6,825.5 2601.7,825.5 2601.7,723.9 2602.1,723.9 2602.1,825.5 2602.3,825.5 2602.3,723.9 2602.8,723.9 2602.8,683.2 2603.2,683.2 2603.2,691.3 2603.7,691.3 2603.7,825.5 2603.8,825.5 2603.8,691.3 2604.2,691.3 2604.2,825.5 2604.4,825.5 2604.4,691.3 2604.8,691.3 2604.8,825.5 2605,825.5 2605,691.3 2605.4,691.3 2605.4,740.2 2606,740.2 2606,825.5 2606.2,825.5 2606.2,740.2 2606.7,740.2 2606.7,653.3 2606.8,653.3 2606.8,704.9 2607.4,704.9 2607.4,825.5 2607.5,825.5 2607.5,704.9 2608,704.9 2608,825.5 2608.2,825.5 2608.2,704.9 2608.7,704.9 2608.7,729.3 2609.4,729.3 2609.4,825.5 2609.6,825.5 2609.6,729.3 2610.3,729.3 2610.3,692.7 2610.9,692.7 2610.9,825.5 2611.1,825.5 2611.1,692.7 2611.7,692.7 2611.7,666.8 2612.2,666.8 2612.2,825.5 2612.4,825.5 2612.4,666.8 2612.8,666.8 2612.8,825.5 2613,825.5 2613,666.8 2613.5,666.8 2613.5,605.7 2613.6,605.7 2613.6,718.5 2614.3,718.5 2614.3,825.5 2614.5,825.5 2614.5,718.5 2615.2,718.5 2615.2,813.6 2616.5,813.6 2616.5,590.8 2616.6,590.8 2616.6,825.5 2617.9,825.5 2617.9,766 2618.4,766 2618.4,825.5 2618.6,825.5 2618.6,766 2619,766 2619,825.5 2619.1,825.5 2619.1,766 2619.6,766 2619.6,570.4 2620.1,570.4 2620.1,825.5 2621.7,825.5 2621.7,819 2622.8,819 2622.8,694 2623.5,694 2623.5,825.5 2623.7,825.5 2623.7,694 2624.4,694 2624.4,568.5 2624.5,568.5 2624.5,714.4 2625.1,714.4 2625.1,825.5 2625.3,825.5 2625.3,714.4 2625.8,714.4 2625.8,825.5 2626,825.5 2626,714.4 2626.6,714.4 2626.6,677.2 2626.7,677.2 2626.7,797.8 2627.4,797.8 2627.4,825.5 2627.6,825.5 2627.6,797.8 2628.3,797.8 2628.3,810.9 2629.9,810.9 2629.9,825.5 2630.8,825.5 2630.8,785.9 2630.9,785.9 2630.9,825.5 2634.6,825.5 2634.6,785.1 2634.7,785.1 2634.7,825.5 2636.1,825.5 2636.1,751.1 2636.8,751.1 2636.8,825.5 2636.9,825.5 2636.9,751.1 2637.6,751.1 2637.6,719 2637.7,719 2637.7,825.5 2643.3,825.5 2643.3,778.8 2643.4,778.8 2643.4,825.5 2646.7,825.5 2646.7,787 2647.4,787 2647.4,825.5 2647.5,825.5 2647.5,787 2648.2,787 2648.2,772.3 2648.3,772.3 2648.3,825.5 2652,825.5 2652,803.3 2652.1,803.3 2652.1,825.5 2654.7,825.5 2654.7,748.9 2654.8,748.9 2654.8,756.5 2655.5,756.5 2655.5,825.5 2655.6,825.5 2655.6,756.5 2656.2,756.5 2656.2,825.5 2656.4,825.5 2656.4,756.5 2657,756.5 2657,695.4 2657.1,695.4 2657.1,825.5 2660.1,825.5 2660.1,756 2660.7,756 2660.7,825.5 2660.9,825.5 2660.9,756 2661.5,756 2661.5,670.1 2661.6,670.1 2661.6,825.5 2663,825.5 2663,820.4 2664.4,820.4 2664.4,568.5 2664.5,568.5 2664.5,825.5 2668.4,825.5 2668.4,767.9 2668.5,767.9 2668.5,804.1 2669.2,804.1 2669.2,825.5 2669.3,825.5 2669.3,804.1 2669.9,804.1 2669.9,825.5 2670,825.5 2670,804.1 2670.7,804.1 2670.7,805.4 2671.2,805.4 2671.2,825.5 2671.3,825.5 2671.3,805.4 2671.8,805.4 2671.8,825.5 2672,825.5 2672,805.4 2672.5,805.4 2672.5,770.1 2672.6,770.1 2672.6,825.5 2674.4,825.5 2674.4,805.4 2674.5,805.4 2674.5,825.5 2676.6,825.5 2676.6,783.7 2676.7,783.7 2676.7,825.5 2678.8,825.5 2678.8,778.8 2678.9,778.8 2678.9,787.8 2679.5,787.8 2679.5,825.5 2679.6,825.5 2679.6,787.8 2680.2,787.8 2680.2,825.5 2680.4,825.5 2680.4,787.8 2681,787.8 2681,785.1 2681.7,785.1 2681.7,825.5 2681.8,825.5 2681.8,785.1 2682.6,785.1 2682.6,746.2 2682.7,746.2 2682.7,825.5 2684.8,825.5 2684.8,728 2685,728 2685,771.5 2685.5,771.5 2685.5,825.5 2685.7,825.5 2685.7,771.5 2686.1,771.5 2686.1,825.5 2686.3,825.5 2686.3,771.5 2686.8,771.5 2686.8,825.5 2686.9,825.5 2686.9,771.5 2687.4,771.5 2687.4,721.2 2687.6,721.2 2687.6,825.5 2689.1,825.5 2689.1,820.4 2690.2,820.4 2690.2,816.3 2691.3,816.3 2691.3,770.7 2692,770.7 2692,825.5 2692.2,825.5 2692.2,770.7 2692.9,770.7 2692.9,761.4 2693,761.4 2693,825.5 2694.6,825.5 2694.6,804.1 2695.3,804.1 2695.3,825.5 2695.4,825.5 2695.4,804.1 2696.1,804.1 2696.1,771.5 2696.2,771.5 2696.2,825.5 2697.6,825.5 2698.6,825.5 2698.6,819 2698.7,819 2698.7,825.5 2700.9,825.5 2700.9,813 2702.2,813 2702.2,719 2702.3,719 2702.3,825.5 2705.5,825.5 2705.5,744.3 2705.7,744.3 2705.7,825.5 2707.5,825.5 2707.5,653.3 2707.6,653.3 2707.6,825.5 2711.7,825.5 2711.7,672.3 2712.4,672.3 2712.4,825.5 2712.5,825.5 2712.5,672.3 2713.1,672.3 2713.1,825.5 2713.2,825.5 2713.2,672.3 2713.9,672.3 2713.9,590.8 2714,590.8 2714,660.9 2714.5,660.9 2714.5,825.5 2714.7,825.5 2714.7,660.9 2715.2,660.9 2715.2,825.5 2715.4,825.5 2715.4,660.9 2715.9,660.9 2715.9,825.5 2716,825.5 2716,660.9 2716.6,660.9 2716.6,821.7 2717.4,821.7 2717.4,825.5 2752.6,825.5 2752.6,806.8 2752.7,806.8 2752.7,825.5 2764.5,825.5 2764.5,760.9 2764.6,760.9 2764.6,825.5 2804.2,825.5 2804.2,794 2804.3,794 2804.3,825.5 2815.4,825.5 2815.4,798.9 2815.5,798.9 2815.5,825.5 2825.1,825.5 2825.1,816.3 2826.4,816.3 2826.4,806.8 2828.6,806.8 2828.6,784.2 2829.1,784.2 2829.1,825.5 2830.8,825.5 2830.8,801.4 2831.8,801.4 2831.8,770.1 2832.4,770.1 2832.4,825.5 2832.5,825.5 2832.5,770.1 2833,770.1 2833,825.5 2833.1,825.5 2833.1,770.1 2833.6,770.1 2833.6,825.5 2833.7,825.5 2833.7,770.1 2834.2,770.1 2834.2,747 2834.3,747 2834.3,780.4 2834.9,780.4 2834.9,825.5 2835,825.5 2835,780.4 2835.5,780.4 2835.5,825.5 2835.6,825.5 2835.6,780.4 2836.1,780.4 2836.1,825.5 2836.2,825.5 2836.2,780.4 2836.7,780.4 2836.7,825.5 2838.3,825.5 2838.3,747.8 2838.4,747.8 2838.4,765.2 2839,765.2 2839,825.5 2839.1,825.5 2839.1,765.2 2839.6,765.2 2839.6,825.5 2839.7,825.5 2839.7,765.2 2840.3,765.2 2840.3,825.5 2841.4,825.5 2841.4,668.2 2841.5,668.2 2841.5,781 2842,781 2842,825.5 2842.2,825.5 2842.2,781 2842.6,781 2842.6,825.5 2842.8,825.5 2842.8,781 2843.2,781 2843.2,825.5 2843.4,825.5 2843.4,781 2843.9,781 2843.9,732.6 2844.3,732.6 2844.3,789.1 2844.9,789.1 2844.9,825.5 2845,825.5 2845,789.1 2845.5,789.1 2845.5,825.5 2845.7,825.5 2845.7,789.1 2846.2,789.1 2846.2,825.5 2847.4,825.5 2847.4,770.1 2847.5,770.1 2847.5,825.5 2861.2,825.5 2861.2,818.5 2864.5,818.5 2864.5,770.7 2864.9,770.7 2864.9,822.6 2873.7,822.6 2873.7,825.5 2938.4,825.5"/>
<path d="M120,1108H2880.5V1110H120Z" fill="#000" fill-opacity="0.5"/><path d="M120,1107.5H2880.5V1109.5H2938.4" fill="none" stroke="#000" stroke-width="1"/>
<path d="M120,162.5H2940M120,255.5H2940M120,326.5H2940M120,398.5H2940M120,450.5H2940M120,492.5H2940M120,561.5H2940M120,628.5H2940M120,693.5H2940M120,753.5H2940M120,826.5H2940M120,875.5H2940M120,918.5H2940M120,968.5H2940M120,998.5H2940M120,1050.5H2940M120,1089.5H2940M246.5,162.5V1110.7M373.5,162.5V1110.7M500.5,162.5V1110.7M627.5,162.5V1110.7M754.5,162.5V1110.7M881.5,162.5V1110.7M1008.5,162.5V1110.7M1134.5,162.5V1110.7M1261.5,162.5V1110.7M1388.5,162.5V1110.7M1515.5,162.5V1110.7M1642.5,162.5V1110.7M1769.5,162.5V1110.7M1896.5,162.5V1110.7M2022.5,162.5V1110.7M2149.5,162.5V1110.7M2276.5,162.5V1110.7M2403.5,162.5V1110.7M2530.5,162.5V1110.7M2657.5,162.5V1110.7M2784.5,162.5V1110.7M2910.5,162.5V1110.7" stroke="#000" stroke-opacity="0.1" stroke-width="1" fill="none"/>
<path d="M119.5,162V1110M119,1110.5H2940M114,162.5H120M114,255.5H120M114,326.5H120M114,398.5H120M114,450.5H120M114,492.5H120M114,561.5H120M114,628.5H120M114,693.5H120M114,753.5H120M114,826.5H120M114,875.5H120M114,918.5H120M114,968.5H120M114,998.5H120M114,1050.5H120M114,1089.5H120M120.5,1110V1116M246.5,1110V1116M373.5,1110V1116M500.5,1110V1116M627.5,1110V1116M754.5,1110V1116M881.5,1110V1116M1008.5,1110V1116M1134.5,1110V1116M1261.5,1110V1116M1388.5,1110V1116M1515.5,1110V1116M1642.5,1110V1116M1769.5,1110V1116M1896.5,1110V1116M2022.5,1110V1116M2149.5,1110V1116M2276.5,1110V1116M2403.5,1110V1116M2530.5,1110V1116M2657.5,1110V1116M2784.5,1110V1116M2910.5,1110V1116" stroke="#000" stroke-width="1" fill="none"/>
<g font-size="17.8" text-anchor="end">
<text x="110.8" y="169.0">10000</text><text x="110.8" y="262.0">4000</text><text x="110.8" y="333.0">2000</text><text x="110.8" y="405.0">1000</text><text x="110.8" y="457.0">600</text><text x="110.8" y="499.0">400</text><text x="110.8" y="568.0">200</text><text x="110.8" y="635.0">100</text><text x="110.8" y="700.0">50</text><text x="110.8" y="760.0">25</text><text x="110.8" y="833.0">10</text><text x="110.8" y="882.0">5</text><text x="110.8" y="925.0">2.5</text><text x="110.8" y="975.0">1</text><text x="110.8" y="1005.0">0.5</text><text x="110.8" y="1057.0">0.1</text><text x="110.8" y="1096.0">0.01</text>
</g>
<g font-size="17.8" text-anchor="middle">
<text x="120.8" y="1134.4">0</text><text x="246.8" y="1134.4">10000</text><text x="373.8" y="1134.4">20000</text><text x="500.8" y="1134.4">30000</text><text x="627.8" y="1134.4">40000</text><text x="754.8" y="1134.4">50000</text><text x="881.8" y="1134.4">60000</text><text x="1008.8" y="1134.4">70000</text><text x="1134.8" y="1134.4">80000</text><text x="1261.8" y="1134.4">90000</text><text x="1388.8" y="1134.4">100000</text><text x="1515.8" y="1134.4">110000</text><text x="1642.8" y="1134.4">120000</text><text x="1769.8" y="1134.4">130000</text><text x="1896.8" y="1134.4">140000</text><text x="2022.8" y="1134.4">150000</text><text x="2149.8" y="1134.4">160000</text><text x="2276.8" y="1134.4">170000</text><text x="2403.8" y="1134.4">180000</text><text x="2530.8" y="1134.4">190000</text><text x="2657.8" y="1134.4">200000</text><text x="2784.8" y="1134.4">210000</text><text x="2910.8" y="1134.4">220000</text>
</g>
<g font-size="20.5">
<text x="2945" y="177.7">4095</text><text x="2945" y="260.0">3696</text><text x="2945" y="334.7">3388</text><text x="2945" y="405.0">3079</text><text x="2945" y="454.7">2851</text><text x="2945" y="499.3">2672</text><text x="2945" y="570.1">2372</text><text x="2945" y="635.0">2081</text><text x="2945" y="699.8">1803</text><text x="2945" y="759.6">1542</text><text x="2945" y="834.6">1229</text><text x="2945" y="879.5">1015</text><text x="2945" y="924.5">819</text><text x="2945" y="974.2">614</text>
</g>
<text font-size="19.4" text-anchor="middle" x="1531.6" y="1166">frames</text>
<text font-size="19.4" text-anchor="middle" transform="translate(74.5,637) rotate(-90)">nits (cd/m²)</text>
<text font-size="20" x="120" y="71.8">Aliens (1986) [UHD DR]</text>
<g font-size="19" letter-spacing="0.18">
<text x="120.1" y="97">Frames: 222217. Profile: 8. Scenes: 4820. DM version: 2 (CM v4.0).</text>
<text x="120.1" y="122">RPU mastering display: 0.0001/1000 nits - DCI-P3 D65</text>
<text x="120.1" y="147">L6 metadata: Mastering display: 0.0001/1000 nits. MaxCLL: 224 nits, MaxFALL: 190 nits</text>
</g>
<text font-size="20" x="1500" y="99.2">DoVi L1 PLOT</text>
<g font-size="20">
<text x="1760" y="34.0">MaxFALL Scene starts at frame 159623</text>
<text x="1760" y="59.0">MaxCLL Scene starts at frame 74211</text>
<text x="1760" y="84.0">L5: R=0, L=0, T=43, B=43</text>
<text x="1760" y="109.0">L2 trim(s): 100 nits, 600 nits, 1000 nits</text>
<text x="1760" y="134.0">L8 trim(s): 100 nits</text>
</g>
<g font-size="20" style="white-space:pre">
<text xml:space="preserve" x="2160" y="19.0">MaxFALL Percentage Above 200nits: 0</text>
<text xml:space="preserve" x="2160" y="39.0">MaxFALL Percentage Above 150nits: 0.02</text>
<text xml:space="preserve" x="2160" y="59.0">MaxFALL Percentage Above 100nits: 0.11</text>
<text xml:space="preserve" x="2160" y="79.0">MaxFALL Percentage Above   92nits: 0.13</text>
<text xml:space="preserve" x="2160" y="99.0">MaxFALL Percentage Above   50nits: 0.47</text>
<text xml:space="preserve" x="2160" y="119.0">MaxFALL Percentage Above   25nits: 1.38</text>
<text xml:space="preserve" x="2160" y="139.0">MaxFALL Percentage Above   10nits: 8.34</text>
<text xml:space="preserve" x="2160" y="159.0">MaxFALL Percentage Above  2.5nits: 100.00</text>
<text xml:space="preserve" x="2580.3" y="19.0">MaxCLL Percentage Above 4000nits: 0</text>
<text xml:space="preserve" x="2580.3" y="39.0">MaxCLL Percentage Above 2000nits: 0</text>
<text xml:space="preserve" x="2580.3" y="59.0">MaxCLL Percentage Above 1500nits: 0</text>
<text xml:space="preserve" x="2580.3" y="79.0">MaxCLL Percentage Above 1000nits: 0</text>
<text xml:space="preserve" x="2580.3" y="99.0">MaxCLL Percentage Above   800nits: 0</text>
<text xml:space="preserve" x="2580.3" y="119.0">MaxCLL Percentage Above   500nits: 0</text>
<text xml:space="preserve" x="2580.3" y="139.0">MaxCLL Percentage Above   200nits: 11.19</text>
<text xml:space="preserve" x="2580.3" y="159.0">MaxCLL Percentage Above   100nits: 87.32</text>
</g>
<rect x="125.5" y="1006.5" width="477.5" height="99" fill="#fff" stroke="#000" stroke-width="1"/>
<path d="M134.7,1025.6H155.1" stroke="#4169e1" stroke-width="3"/><text font-size="19.4" x="165" y="1030.8">Maximum (MaxCLL: 224.97 nits, avg: 164.79 nits)</text>
<path d="M134.7,1055.3H155.1" stroke="#4b0082" stroke-width="3"/><text font-size="19.4" x="165" y="1060.5">Average (MaxFALL: 190.61 nits, avg: 10.53 nits)</text>
<path d="M134.7,1085.0H155.1" stroke="#000" stroke-width="3"/><text font-size="19.4" x="165" y="1090.2">Minimum (max: 0.000262 nits)</text>
</svg>
</body></html>
